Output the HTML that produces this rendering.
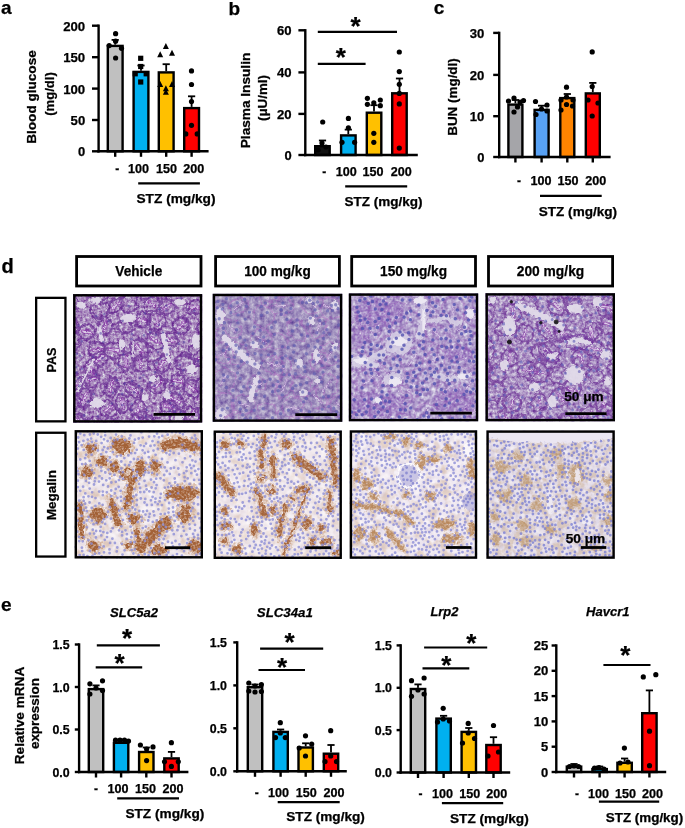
<!DOCTYPE html>
<html><head><meta charset="utf-8"><style>
html,body{margin:0;padding:0;background:#fff;overflow:hidden}
svg{display:block;will-change:transform}
</style></head><body>
<svg width="685" height="828" viewBox="0 0 685 828">
<rect width="685" height="828" fill="#fff"/>
<line x1="98.6" y1="24.5" x2="98.6" y2="152.5" stroke="#000" stroke-width="2.4"/>
<line x1="92.0" y1="151.3" x2="98.6" y2="151.3" stroke="#000" stroke-width="2.4"/>
<text x="85.2" y="156.2" font-size="12.5" text-anchor="end" textLength="7.2" lengthAdjust="spacingAndGlyphs" font-family="Liberation Sans, sans-serif" font-weight="bold" stroke="#000" stroke-width="0.25">0</text>
<line x1="92.0" y1="120.0" x2="98.6" y2="120.0" stroke="#000" stroke-width="2.4"/>
<text x="85.2" y="124.9" font-size="12.5" text-anchor="end" textLength="14.6" lengthAdjust="spacingAndGlyphs" font-family="Liberation Sans, sans-serif" font-weight="bold" stroke="#000" stroke-width="0.25">50</text>
<line x1="92.0" y1="88.6" x2="98.6" y2="88.6" stroke="#000" stroke-width="2.4"/>
<text x="85.2" y="93.5" font-size="12.5" text-anchor="end" textLength="22.0" lengthAdjust="spacingAndGlyphs" font-family="Liberation Sans, sans-serif" font-weight="bold" stroke="#000" stroke-width="0.25">100</text>
<line x1="92.0" y1="57.2" x2="98.6" y2="57.2" stroke="#000" stroke-width="2.4"/>
<text x="85.2" y="62.1" font-size="12.5" text-anchor="end" textLength="22.0" lengthAdjust="spacingAndGlyphs" font-family="Liberation Sans, sans-serif" font-weight="bold" stroke="#000" stroke-width="0.25">150</text>
<line x1="92.0" y1="25.7" x2="98.6" y2="25.7" stroke="#000" stroke-width="2.4"/>
<text x="85.2" y="30.6" font-size="12.5" text-anchor="end" textLength="22.0" lengthAdjust="spacingAndGlyphs" font-family="Liberation Sans, sans-serif" font-weight="bold" stroke="#000" stroke-width="0.25">200</text>
<line x1="115.2" y1="44.7" x2="115.2" y2="39.9" stroke="#000" stroke-width="1.8"/>
<line x1="111.6" y1="39.9" x2="118.8" y2="39.9" stroke="#000" stroke-width="1.8"/>
<rect x="107.8" y="45.9" width="14.8" height="105.4" fill="#c0c0c0" stroke="#000" stroke-width="2.4"/>
<line x1="141.0" y1="70.7" x2="141.0" y2="65.5" stroke="#000" stroke-width="1.8"/>
<line x1="137.4" y1="65.5" x2="144.6" y2="65.5" stroke="#000" stroke-width="1.8"/>
<rect x="133.6" y="71.9" width="14.8" height="79.4" fill="#00b0f0" stroke="#000" stroke-width="2.4"/>
<line x1="166.2" y1="71.2" x2="166.2" y2="64.2" stroke="#000" stroke-width="1.8"/>
<line x1="162.6" y1="64.2" x2="169.8" y2="64.2" stroke="#000" stroke-width="1.8"/>
<rect x="158.8" y="72.4" width="14.8" height="78.9" fill="#ffc000" stroke="#000" stroke-width="2.4"/>
<line x1="191.6" y1="106.9" x2="191.6" y2="96.3" stroke="#000" stroke-width="1.8"/>
<line x1="188.0" y1="96.3" x2="195.2" y2="96.3" stroke="#000" stroke-width="1.8"/>
<rect x="184.2" y="108.1" width="14.8" height="43.2" fill="#ff0000" stroke="#000" stroke-width="2.4"/>
<line x1="97.4" y1="151.3" x2="208.6" y2="151.3" stroke="#000" stroke-width="2.4"/>
<line x1="115.2" y1="151.3" x2="115.2" y2="156.8" stroke="#000" stroke-width="2.4"/>
<line x1="141.0" y1="151.3" x2="141.0" y2="156.8" stroke="#000" stroke-width="2.4"/>
<line x1="166.2" y1="151.3" x2="166.2" y2="156.8" stroke="#000" stroke-width="2.4"/>
<line x1="191.6" y1="151.3" x2="191.6" y2="156.8" stroke="#000" stroke-width="2.4"/>
<circle cx="115.6" cy="33.7" r="2.6"/>
<circle cx="115.6" cy="41.2" r="2.6"/>
<circle cx="109.2" cy="45.6" r="2.6"/>
<circle cx="121.5" cy="48.3" r="2.6"/>
<circle cx="115.6" cy="58.0" r="2.6"/>
<rect x="138.1" y="55.7" width="5.2" height="5.2"/>
<rect x="138.1" y="63.9" width="5.2" height="5.2"/>
<rect x="132.6" y="71.2" width="5.2" height="5.2"/>
<rect x="143.6" y="71.2" width="5.2" height="5.2"/>
<rect x="138.1" y="79.4" width="5.2" height="5.2"/>
<path d="M165.9,43.1L168.9,49.1L162.9,49.1Z"/>
<path d="M160.2,51.2L163.2,57.2L157.2,57.2Z"/>
<path d="M172.0,49.8L175.0,55.8L169.0,55.8Z"/>
<path d="M160.2,81.0L163.2,87.0L157.2,87.0Z"/>
<path d="M172.0,81.0L175.0,87.0L169.0,87.0Z"/>
<path d="M165.9,85.3L168.9,91.3L162.9,91.3Z"/>
<path d="M165.9,88.7L168.9,94.7L162.9,94.7Z"/>
<circle cx="191.5" cy="70.9" r="2.6"/>
<circle cx="191.5" cy="84.5" r="2.6"/>
<circle cx="191.5" cy="101.6" r="2.6"/>
<circle cx="191.5" cy="125.3" r="2.6"/>
<circle cx="185.8" cy="133.9" r="2.6"/>
<circle cx="197.2" cy="133.9" r="2.6"/>
<text x="117.2" y="173.0" font-size="12" text-anchor="middle" font-family="Liberation Sans, sans-serif" font-weight="bold" stroke="#000" stroke-width="0.25">-</text>
<text x="138.6" y="173.0" font-size="12" text-anchor="middle" textLength="21.0" lengthAdjust="spacingAndGlyphs" font-family="Liberation Sans, sans-serif" font-weight="bold" stroke="#000" stroke-width="0.25">100</text>
<text x="166.4" y="173.0" font-size="12" text-anchor="middle" textLength="21.0" lengthAdjust="spacingAndGlyphs" font-family="Liberation Sans, sans-serif" font-weight="bold" stroke="#000" stroke-width="0.25">150</text>
<text x="193.7" y="173.0" font-size="12" text-anchor="middle" textLength="21.0" lengthAdjust="spacingAndGlyphs" font-family="Liberation Sans, sans-serif" font-weight="bold" stroke="#000" stroke-width="0.25">200</text>
<line x1="138.2" y1="183.3" x2="199.9" y2="183.3" stroke="#000" stroke-width="2.2"/>
<text x="136.5" y="202.8" font-size="12" textLength="79.0" lengthAdjust="spacingAndGlyphs" font-family="Liberation Sans, sans-serif" font-weight="bold" stroke="#000" stroke-width="0.25">STZ (mg/kg)</text>
<text transform="translate(36.2,97.0) rotate(-90)" text-anchor="middle" font-size="12" textLength="93.5" lengthAdjust="spacingAndGlyphs" font-family="Liberation Sans, sans-serif" font-weight="bold" stroke="#000" stroke-width="0.25">Blood glucose</text>
<text transform="translate(54.2,94.0) rotate(-90)" text-anchor="middle" font-size="12" textLength="43.5" lengthAdjust="spacingAndGlyphs" font-family="Liberation Sans, sans-serif" font-weight="bold" stroke="#000" stroke-width="0.25">(mg/dl)</text>
<line x1="305.3" y1="29.1" x2="305.3" y2="156.2" stroke="#000" stroke-width="2.4"/>
<line x1="298.4" y1="155.0" x2="305.3" y2="155.0" stroke="#000" stroke-width="2.4"/>
<text x="291.6" y="159.8" font-size="12.5" text-anchor="end" textLength="7.2" lengthAdjust="spacingAndGlyphs" font-family="Liberation Sans, sans-serif" font-weight="bold" stroke="#000" stroke-width="0.25">0</text>
<line x1="298.4" y1="113.9" x2="305.3" y2="113.9" stroke="#000" stroke-width="2.4"/>
<text x="291.6" y="118.7" font-size="12.5" text-anchor="end" textLength="14.6" lengthAdjust="spacingAndGlyphs" font-family="Liberation Sans, sans-serif" font-weight="bold" stroke="#000" stroke-width="0.25">20</text>
<line x1="298.4" y1="72.4" x2="305.3" y2="72.4" stroke="#000" stroke-width="2.4"/>
<text x="291.6" y="77.2" font-size="12.5" text-anchor="end" textLength="14.6" lengthAdjust="spacingAndGlyphs" font-family="Liberation Sans, sans-serif" font-weight="bold" stroke="#000" stroke-width="0.25">40</text>
<line x1="298.4" y1="30.3" x2="305.3" y2="30.3" stroke="#000" stroke-width="2.4"/>
<text x="291.6" y="35.1" font-size="12.5" text-anchor="end" textLength="14.6" lengthAdjust="spacingAndGlyphs" font-family="Liberation Sans, sans-serif" font-weight="bold" stroke="#000" stroke-width="0.25">60</text>
<line x1="322.5" y1="145.0" x2="322.5" y2="140.5" stroke="#000" stroke-width="1.8"/>
<line x1="318.9" y1="140.5" x2="326.1" y2="140.5" stroke="#000" stroke-width="1.8"/>
<rect x="315.2" y="146.2" width="14.5" height="8.8" fill="#111" stroke="#000" stroke-width="2.4"/>
<line x1="348.3" y1="134.2" x2="348.3" y2="129.6" stroke="#000" stroke-width="1.8"/>
<line x1="344.7" y1="129.6" x2="351.9" y2="129.6" stroke="#000" stroke-width="1.8"/>
<rect x="341.1" y="135.4" width="14.5" height="19.6" fill="#00b0f0" stroke="#000" stroke-width="2.4"/>
<line x1="374.0" y1="111.5" x2="374.0" y2="105.2" stroke="#000" stroke-width="1.8"/>
<line x1="370.4" y1="105.2" x2="377.6" y2="105.2" stroke="#000" stroke-width="1.8"/>
<rect x="366.8" y="112.7" width="14.5" height="42.3" fill="#ffc000" stroke="#000" stroke-width="2.4"/>
<line x1="399.5" y1="92.1" x2="399.5" y2="78.5" stroke="#000" stroke-width="1.8"/>
<line x1="395.9" y1="78.5" x2="403.1" y2="78.5" stroke="#000" stroke-width="1.8"/>
<rect x="392.2" y="93.3" width="14.5" height="61.7" fill="#ff0000" stroke="#000" stroke-width="2.4"/>
<line x1="304.1" y1="155.0" x2="417.8" y2="155.0" stroke="#000" stroke-width="2.4"/>
<circle cx="322.7" cy="122.0" r="2.6"/>
<circle cx="318.0" cy="150.0" r="2.6"/>
<circle cx="326.0" cy="147.0" r="2.6"/>
<circle cx="322.0" cy="143.0" r="2.6"/>
<circle cx="348.4" cy="118.4" r="2.6"/>
<circle cx="348.4" cy="127.8" r="2.6"/>
<circle cx="342.0" cy="142.3" r="2.6"/>
<circle cx="354.6" cy="142.3" r="2.6"/>
<circle cx="367.4" cy="98.3" r="2.6"/>
<circle cx="367.4" cy="104.3" r="2.6"/>
<circle cx="373.8" cy="102.8" r="2.6"/>
<circle cx="380.3" cy="100.0" r="2.6"/>
<circle cx="380.3" cy="105.7" r="2.6"/>
<circle cx="373.8" cy="133.3" r="2.6"/>
<circle cx="373.8" cy="142.3" r="2.6"/>
<circle cx="399.3" cy="52.0" r="2.6"/>
<circle cx="399.3" cy="71.6" r="2.6"/>
<circle cx="399.3" cy="84.3" r="2.6"/>
<circle cx="399.3" cy="93.4" r="2.6"/>
<circle cx="399.3" cy="103.9" r="2.6"/>
<circle cx="399.3" cy="148.1" r="2.6"/>
<line x1="317.8" y1="31.8" x2="397.0" y2="31.8" stroke="#000" stroke-width="2.2"/>
<text x="355.6" y="34.6" font-size="26" text-anchor="middle" font-family="Liberation Sans, sans-serif" font-weight="bold" stroke="#000" stroke-width="0.25">*</text>
<line x1="317.8" y1="63.8" x2="365.6" y2="63.8" stroke="#000" stroke-width="2.2"/>
<text x="340.8" y="66.1" font-size="26" text-anchor="middle" font-family="Liberation Sans, sans-serif" font-weight="bold" stroke="#000" stroke-width="0.25">*</text>
<text x="324.3" y="176.0" font-size="12" text-anchor="middle" font-family="Liberation Sans, sans-serif" font-weight="bold" stroke="#000" stroke-width="0.25">-</text>
<text x="346.2" y="176.0" font-size="12" text-anchor="middle" textLength="21.0" lengthAdjust="spacingAndGlyphs" font-family="Liberation Sans, sans-serif" font-weight="bold" stroke="#000" stroke-width="0.25">100</text>
<text x="373.0" y="176.0" font-size="12" text-anchor="middle" textLength="21.0" lengthAdjust="spacingAndGlyphs" font-family="Liberation Sans, sans-serif" font-weight="bold" stroke="#000" stroke-width="0.25">150</text>
<text x="401.2" y="176.0" font-size="12" text-anchor="middle" textLength="21.0" lengthAdjust="spacingAndGlyphs" font-family="Liberation Sans, sans-serif" font-weight="bold" stroke="#000" stroke-width="0.25">200</text>
<line x1="345.2" y1="186.4" x2="407.2" y2="186.4" stroke="#000" stroke-width="2.2"/>
<text x="344.6" y="206.3" font-size="12" textLength="77.9" lengthAdjust="spacingAndGlyphs" font-family="Liberation Sans, sans-serif" font-weight="bold" stroke="#000" stroke-width="0.25">STZ (mg/kg)</text>
<text transform="translate(250.0,100.5) rotate(-90)" text-anchor="middle" font-size="12" textLength="95.5" lengthAdjust="spacingAndGlyphs" font-family="Liberation Sans, sans-serif" font-weight="bold" stroke="#000" stroke-width="0.25">Plasma Insulin</text>
<text transform="translate(266.6,98.0) rotate(-90)" text-anchor="middle" font-size="12" textLength="46.0" lengthAdjust="spacingAndGlyphs" font-family="Liberation Sans, sans-serif" font-weight="bold" stroke="#000" stroke-width="0.25">(μU/ml)</text>
<line x1="499.2" y1="31.7" x2="499.2" y2="158.2" stroke="#000" stroke-width="2.4"/>
<line x1="493.2" y1="157.0" x2="499.2" y2="157.0" stroke="#000" stroke-width="2.4"/>
<text x="484.4" y="161.8" font-size="12.5" text-anchor="end" textLength="7.2" lengthAdjust="spacingAndGlyphs" font-family="Liberation Sans, sans-serif" font-weight="bold" stroke="#000" stroke-width="0.25">0</text>
<line x1="493.2" y1="116.2" x2="499.2" y2="116.2" stroke="#000" stroke-width="2.4"/>
<text x="484.4" y="121.0" font-size="12.5" text-anchor="end" textLength="14.6" lengthAdjust="spacingAndGlyphs" font-family="Liberation Sans, sans-serif" font-weight="bold" stroke="#000" stroke-width="0.25">10</text>
<line x1="493.2" y1="74.9" x2="499.2" y2="74.9" stroke="#000" stroke-width="2.4"/>
<text x="484.4" y="79.7" font-size="12.5" text-anchor="end" textLength="14.6" lengthAdjust="spacingAndGlyphs" font-family="Liberation Sans, sans-serif" font-weight="bold" stroke="#000" stroke-width="0.25">20</text>
<line x1="493.2" y1="32.9" x2="499.2" y2="32.9" stroke="#000" stroke-width="2.4"/>
<text x="484.4" y="37.7" font-size="12.5" text-anchor="end" textLength="14.6" lengthAdjust="spacingAndGlyphs" font-family="Liberation Sans, sans-serif" font-weight="bold" stroke="#000" stroke-width="0.25">30</text>
<line x1="515.4" y1="103.4" x2="515.4" y2="100.0" stroke="#000" stroke-width="1.8"/>
<line x1="511.8" y1="100.0" x2="519.0" y2="100.0" stroke="#000" stroke-width="1.8"/>
<rect x="508.4" y="104.6" width="14.0" height="52.4" fill="#a5a5a9" stroke="#000" stroke-width="2.4"/>
<line x1="541.6" y1="108.7" x2="541.6" y2="105.7" stroke="#000" stroke-width="1.8"/>
<line x1="538.0" y1="105.7" x2="545.2" y2="105.7" stroke="#000" stroke-width="1.8"/>
<rect x="534.6" y="109.9" width="14.0" height="47.1" fill="#58a2f5" stroke="#000" stroke-width="2.4"/>
<line x1="567.3" y1="96.9" x2="567.3" y2="94.0" stroke="#000" stroke-width="1.8"/>
<line x1="563.7" y1="94.0" x2="570.9" y2="94.0" stroke="#000" stroke-width="1.8"/>
<rect x="560.3" y="98.1" width="14.0" height="58.9" fill="#ff8400" stroke="#000" stroke-width="2.4"/>
<line x1="592.8" y1="92.2" x2="592.8" y2="82.9" stroke="#000" stroke-width="1.8"/>
<line x1="589.2" y1="82.9" x2="596.4" y2="82.9" stroke="#000" stroke-width="1.8"/>
<rect x="585.8" y="93.4" width="14.0" height="63.6" fill="#ff0000" stroke="#000" stroke-width="2.4"/>
<line x1="498.0" y1="157.0" x2="610.6" y2="157.0" stroke="#000" stroke-width="2.4"/>
<line x1="515.4" y1="157.0" x2="515.4" y2="162.5" stroke="#000" stroke-width="2.4"/>
<line x1="541.6" y1="157.0" x2="541.6" y2="162.5" stroke="#000" stroke-width="2.4"/>
<line x1="567.3" y1="157.0" x2="567.3" y2="162.5" stroke="#000" stroke-width="2.4"/>
<line x1="592.8" y1="157.0" x2="592.8" y2="162.5" stroke="#000" stroke-width="2.4"/>
<circle cx="514.0" cy="98.0" r="2.6"/>
<circle cx="508.5" cy="101.0" r="2.6"/>
<circle cx="520.0" cy="102.0" r="2.6"/>
<circle cx="523.5" cy="100.5" r="2.6"/>
<circle cx="517.5" cy="107.0" r="2.6"/>
<circle cx="514.0" cy="112.0" r="2.6"/>
<circle cx="535.5" cy="101.5" r="2.6"/>
<circle cx="547.0" cy="105.0" r="2.6"/>
<circle cx="547.0" cy="111.0" r="2.6"/>
<circle cx="536.0" cy="114.5" r="2.6"/>
<circle cx="541.5" cy="109.0" r="2.6"/>
<circle cx="566.5" cy="87.2" r="2.6"/>
<circle cx="566.5" cy="97.0" r="2.6"/>
<circle cx="561.0" cy="100.0" r="2.6"/>
<circle cx="573.0" cy="100.0" r="2.6"/>
<circle cx="566.5" cy="104.5" r="2.6"/>
<circle cx="572.5" cy="106.0" r="2.6"/>
<circle cx="561.0" cy="110.0" r="2.6"/>
<circle cx="592.2" cy="51.9" r="2.6"/>
<circle cx="592.2" cy="86.5" r="2.6"/>
<circle cx="588.0" cy="100.0" r="2.6"/>
<circle cx="598.0" cy="103.0" r="2.6"/>
<circle cx="592.2" cy="116.0" r="2.6"/>
<text x="519.0" y="185.0" font-size="12" text-anchor="middle" font-family="Liberation Sans, sans-serif" font-weight="bold" stroke="#000" stroke-width="0.25">-</text>
<text x="540.9" y="185.0" font-size="12" text-anchor="middle" textLength="21.0" lengthAdjust="spacingAndGlyphs" font-family="Liberation Sans, sans-serif" font-weight="bold" stroke="#000" stroke-width="0.25">100</text>
<text x="568.0" y="185.0" font-size="12" text-anchor="middle" textLength="21.0" lengthAdjust="spacingAndGlyphs" font-family="Liberation Sans, sans-serif" font-weight="bold" stroke="#000" stroke-width="0.25">150</text>
<text x="595.8" y="185.0" font-size="12" text-anchor="middle" textLength="21.0" lengthAdjust="spacingAndGlyphs" font-family="Liberation Sans, sans-serif" font-weight="bold" stroke="#000" stroke-width="0.25">200</text>
<line x1="540.0" y1="195.8" x2="601.7" y2="195.8" stroke="#000" stroke-width="2.2"/>
<text x="538.8" y="215.6" font-size="12" textLength="78.2" lengthAdjust="spacingAndGlyphs" font-family="Liberation Sans, sans-serif" font-weight="bold" stroke="#000" stroke-width="0.25">STZ (mg/kg)</text>
<text transform="translate(456.8,97.0) rotate(-90)" text-anchor="middle" font-size="12" textLength="77.5" lengthAdjust="spacingAndGlyphs" font-family="Liberation Sans, sans-serif" font-weight="bold" stroke="#000" stroke-width="0.25">BUN (mg/dl)</text>
<line x1="79.1" y1="643.3" x2="79.1" y2="773.2" stroke="#000" stroke-width="2.4"/>
<line x1="74.8" y1="772.0" x2="79.1" y2="772.0" stroke="#000" stroke-width="2.4"/>
<text x="69.6" y="776.6" font-size="12.2" text-anchor="end" textLength="17.2" lengthAdjust="spacingAndGlyphs" font-family="Liberation Sans, sans-serif" font-weight="bold" stroke="#000" stroke-width="0.25">0.0</text>
<line x1="74.8" y1="729.5" x2="79.1" y2="729.5" stroke="#000" stroke-width="2.4"/>
<text x="69.6" y="734.1" font-size="12.2" text-anchor="end" textLength="17.2" lengthAdjust="spacingAndGlyphs" font-family="Liberation Sans, sans-serif" font-weight="bold" stroke="#000" stroke-width="0.25">0.5</text>
<line x1="74.8" y1="687.0" x2="79.1" y2="687.0" stroke="#000" stroke-width="2.4"/>
<text x="69.6" y="691.6" font-size="12.2" text-anchor="end" textLength="17.2" lengthAdjust="spacingAndGlyphs" font-family="Liberation Sans, sans-serif" font-weight="bold" stroke="#000" stroke-width="0.25">1.0</text>
<line x1="74.8" y1="644.5" x2="79.1" y2="644.5" stroke="#000" stroke-width="2.4"/>
<text x="69.6" y="649.1" font-size="12.2" text-anchor="end" textLength="17.2" lengthAdjust="spacingAndGlyphs" font-family="Liberation Sans, sans-serif" font-weight="bold" stroke="#000" stroke-width="0.25">1.5</text>
<line x1="96.0" y1="687.9" x2="96.0" y2="685.4" stroke="#000" stroke-width="1.8"/>
<line x1="92.4" y1="685.4" x2="99.6" y2="685.4" stroke="#000" stroke-width="1.8"/>
<rect x="88.8" y="689.1" width="14.4" height="82.9" fill="#c0c0c0" stroke="#000" stroke-width="2.4"/>
<line x1="121.1" y1="741.6" x2="121.1" y2="739.5" stroke="#000" stroke-width="1.8"/>
<line x1="117.5" y1="739.5" x2="124.7" y2="739.5" stroke="#000" stroke-width="1.8"/>
<rect x="113.9" y="742.8" width="14.4" height="29.2" fill="#00b0f0" stroke="#000" stroke-width="2.4"/>
<line x1="146.3" y1="750.8" x2="146.3" y2="747.5" stroke="#000" stroke-width="1.8"/>
<line x1="142.7" y1="747.5" x2="149.9" y2="747.5" stroke="#000" stroke-width="1.8"/>
<rect x="139.1" y="752.0" width="14.4" height="20.0" fill="#ffc000" stroke="#000" stroke-width="2.4"/>
<line x1="171.5" y1="757.2" x2="171.5" y2="751.9" stroke="#000" stroke-width="1.8"/>
<line x1="167.9" y1="751.9" x2="175.1" y2="751.9" stroke="#000" stroke-width="1.8"/>
<rect x="164.3" y="758.4" width="14.4" height="13.6" fill="#ff0000" stroke="#000" stroke-width="2.4"/>
<line x1="77.9" y1="772.0" x2="188.4" y2="772.0" stroke="#000" stroke-width="2.4"/>
<line x1="96.0" y1="772.0" x2="96.0" y2="777.5" stroke="#000" stroke-width="2.4"/>
<line x1="121.1" y1="772.0" x2="121.1" y2="777.5" stroke="#000" stroke-width="2.4"/>
<line x1="146.3" y1="772.0" x2="146.3" y2="777.5" stroke="#000" stroke-width="2.4"/>
<line x1="171.5" y1="772.0" x2="171.5" y2="777.5" stroke="#000" stroke-width="2.4"/>
<circle cx="89.9" cy="683.8" r="2.6"/>
<circle cx="102.5" cy="680.8" r="2.6"/>
<circle cx="89.9" cy="694.0" r="2.6"/>
<circle cx="102.5" cy="690.6" r="2.6"/>
<circle cx="96.0" cy="688.0" r="2.6"/>
<circle cx="115.5" cy="740.2" r="2.6"/>
<circle cx="120.0" cy="740.0" r="2.6"/>
<circle cx="124.5" cy="740.2" r="2.6"/>
<circle cx="128.5" cy="741.0" r="2.6"/>
<circle cx="140.4" cy="745.0" r="2.6"/>
<circle cx="153.0" cy="746.9" r="2.6"/>
<circle cx="146.6" cy="760.6" r="2.6"/>
<circle cx="146.6" cy="749.0" r="2.6"/>
<circle cx="171.4" cy="742.7" r="2.6"/>
<circle cx="164.5" cy="761.8" r="2.6"/>
<circle cx="178.3" cy="761.8" r="2.6"/>
<circle cx="171.4" cy="766.4" r="2.6"/>
<line x1="96.8" y1="645.4" x2="159.9" y2="645.4" stroke="#000" stroke-width="2.2"/>
<text x="127.1" y="646.8" font-size="26" text-anchor="middle" font-family="Liberation Sans, sans-serif" font-weight="bold" stroke="#000" stroke-width="0.25">*</text>
<line x1="95.7" y1="667.3" x2="142.2" y2="667.3" stroke="#000" stroke-width="2.2"/>
<text x="119.5" y="672.0" font-size="26" text-anchor="middle" font-family="Liberation Sans, sans-serif" font-weight="bold" stroke="#000" stroke-width="0.25">*</text>
<text x="96.1" y="792.8" font-size="12" text-anchor="middle" font-family="Liberation Sans, sans-serif" font-weight="bold" stroke="#000" stroke-width="0.25">-</text>
<text x="118.0" y="792.8" font-size="12" text-anchor="middle" textLength="21.0" lengthAdjust="spacingAndGlyphs" font-family="Liberation Sans, sans-serif" font-weight="bold" stroke="#000" stroke-width="0.25">100</text>
<text x="145.4" y="792.8" font-size="12" text-anchor="middle" textLength="21.0" lengthAdjust="spacingAndGlyphs" font-family="Liberation Sans, sans-serif" font-weight="bold" stroke="#000" stroke-width="0.25">150</text>
<text x="173.0" y="792.8" font-size="12" text-anchor="middle" textLength="21.0" lengthAdjust="spacingAndGlyphs" font-family="Liberation Sans, sans-serif" font-weight="bold" stroke="#000" stroke-width="0.25">200</text>
<line x1="117.2" y1="798.3" x2="179.0" y2="798.3" stroke="#000" stroke-width="2.2"/>
<text x="125.4" y="818.2" font-size="12" textLength="78.9" lengthAdjust="spacingAndGlyphs" font-family="Liberation Sans, sans-serif" font-weight="bold" stroke="#000" stroke-width="0.25">STZ (mg/kg)</text>
<text transform="translate(24.4,715.5) rotate(-90)" text-anchor="middle" font-size="12" textLength="97.5" lengthAdjust="spacingAndGlyphs" font-family="Liberation Sans, sans-serif" font-weight="bold" stroke="#000" stroke-width="0.25">Relative mRNA</text>
<text transform="translate(38.7,713.6) rotate(-90)" text-anchor="middle" font-size="12" textLength="71.0" lengthAdjust="spacingAndGlyphs" font-family="Liberation Sans, sans-serif" font-weight="bold" stroke="#000" stroke-width="0.25">expression</text>
<line x1="237.2" y1="641.2" x2="237.2" y2="772.5" stroke="#000" stroke-width="2.4"/>
<line x1="233.3" y1="771.3" x2="237.2" y2="771.3" stroke="#000" stroke-width="2.4"/>
<text x="227.0" y="775.9" font-size="12.2" text-anchor="end" textLength="17.2" lengthAdjust="spacingAndGlyphs" font-family="Liberation Sans, sans-serif" font-weight="bold" stroke="#000" stroke-width="0.25">0.0</text>
<line x1="233.3" y1="728.3" x2="237.2" y2="728.3" stroke="#000" stroke-width="2.4"/>
<text x="227.0" y="732.9" font-size="12.2" text-anchor="end" textLength="17.2" lengthAdjust="spacingAndGlyphs" font-family="Liberation Sans, sans-serif" font-weight="bold" stroke="#000" stroke-width="0.25">0.5</text>
<line x1="233.3" y1="685.4" x2="237.2" y2="685.4" stroke="#000" stroke-width="2.4"/>
<text x="227.0" y="690.0" font-size="12.2" text-anchor="end" textLength="17.2" lengthAdjust="spacingAndGlyphs" font-family="Liberation Sans, sans-serif" font-weight="bold" stroke="#000" stroke-width="0.25">1.0</text>
<line x1="233.3" y1="642.4" x2="237.2" y2="642.4" stroke="#000" stroke-width="2.4"/>
<text x="227.0" y="647.0" font-size="12.2" text-anchor="end" textLength="17.2" lengthAdjust="spacingAndGlyphs" font-family="Liberation Sans, sans-serif" font-weight="bold" stroke="#000" stroke-width="0.25">1.5</text>
<line x1="255.0" y1="686.0" x2="255.0" y2="684.5" stroke="#000" stroke-width="1.8"/>
<line x1="251.4" y1="684.5" x2="258.6" y2="684.5" stroke="#000" stroke-width="1.8"/>
<rect x="247.8" y="687.2" width="14.4" height="84.1" fill="#c0c0c0" stroke="#000" stroke-width="2.4"/>
<line x1="280.6" y1="730.7" x2="280.6" y2="729.5" stroke="#000" stroke-width="1.8"/>
<line x1="277.0" y1="729.5" x2="284.2" y2="729.5" stroke="#000" stroke-width="1.8"/>
<rect x="273.4" y="731.9" width="14.4" height="39.4" fill="#00b0f0" stroke="#000" stroke-width="2.4"/>
<line x1="305.7" y1="746.3" x2="305.7" y2="743.3" stroke="#000" stroke-width="1.8"/>
<line x1="302.1" y1="743.3" x2="309.3" y2="743.3" stroke="#000" stroke-width="1.8"/>
<rect x="298.5" y="747.5" width="14.4" height="23.8" fill="#ffc000" stroke="#000" stroke-width="2.4"/>
<line x1="331.0" y1="752.5" x2="331.0" y2="745.0" stroke="#000" stroke-width="1.8"/>
<line x1="327.4" y1="745.0" x2="334.6" y2="745.0" stroke="#000" stroke-width="1.8"/>
<rect x="323.8" y="753.7" width="14.4" height="17.6" fill="#ff0000" stroke="#000" stroke-width="2.4"/>
<line x1="236.0" y1="771.3" x2="346.8" y2="771.3" stroke="#000" stroke-width="2.4"/>
<line x1="255.0" y1="771.3" x2="255.0" y2="776.8" stroke="#000" stroke-width="2.4"/>
<line x1="280.6" y1="771.3" x2="280.6" y2="776.8" stroke="#000" stroke-width="2.4"/>
<line x1="305.7" y1="771.3" x2="305.7" y2="776.8" stroke="#000" stroke-width="2.4"/>
<line x1="331.0" y1="771.3" x2="331.0" y2="776.8" stroke="#000" stroke-width="2.4"/>
<circle cx="248.8" cy="683.0" r="2.6"/>
<circle cx="255.0" cy="686.0" r="2.6"/>
<circle cx="261.4" cy="684.5" r="2.6"/>
<circle cx="248.8" cy="691.0" r="2.6"/>
<circle cx="261.4" cy="691.5" r="2.6"/>
<circle cx="255.0" cy="692.0" r="2.6"/>
<circle cx="280.3" cy="722.7" r="2.6"/>
<circle cx="275.5" cy="737.6" r="2.6"/>
<circle cx="285.3" cy="737.6" r="2.6"/>
<circle cx="280.3" cy="733.0" r="2.6"/>
<circle cx="305.5" cy="735.8" r="2.6"/>
<circle cx="311.7" cy="744.1" r="2.6"/>
<circle cx="305.5" cy="756.0" r="2.6"/>
<circle cx="299.2" cy="748.0" r="2.6"/>
<circle cx="330.7" cy="730.7" r="2.6"/>
<circle cx="330.7" cy="756.0" r="2.6"/>
<circle cx="325.0" cy="761.7" r="2.6"/>
<circle cx="336.5" cy="761.7" r="2.6"/>
<line x1="260.1" y1="648.6" x2="323.2" y2="648.6" stroke="#000" stroke-width="2.2"/>
<text x="289.6" y="651.2" font-size="26" text-anchor="middle" font-family="Liberation Sans, sans-serif" font-weight="bold" stroke="#000" stroke-width="0.25">*</text>
<line x1="258.5" y1="670.0" x2="305.0" y2="670.0" stroke="#000" stroke-width="2.2"/>
<text x="282.1" y="675.8" font-size="26" text-anchor="middle" font-family="Liberation Sans, sans-serif" font-weight="bold" stroke="#000" stroke-width="0.25">*</text>
<text x="256.7" y="797.0" font-size="12" text-anchor="middle" font-family="Liberation Sans, sans-serif" font-weight="bold" stroke="#000" stroke-width="0.25">-</text>
<text x="278.4" y="797.0" font-size="12" text-anchor="middle" textLength="21.0" lengthAdjust="spacingAndGlyphs" font-family="Liberation Sans, sans-serif" font-weight="bold" stroke="#000" stroke-width="0.25">100</text>
<text x="306.2" y="797.0" font-size="12" text-anchor="middle" textLength="21.0" lengthAdjust="spacingAndGlyphs" font-family="Liberation Sans, sans-serif" font-weight="bold" stroke="#000" stroke-width="0.25">150</text>
<text x="333.9" y="797.0" font-size="12" text-anchor="middle" textLength="21.0" lengthAdjust="spacingAndGlyphs" font-family="Liberation Sans, sans-serif" font-weight="bold" stroke="#000" stroke-width="0.25">200</text>
<line x1="277.7" y1="802.2" x2="339.7" y2="802.2" stroke="#000" stroke-width="2.2"/>
<text x="286.3" y="821.4" font-size="12" textLength="78.5" lengthAdjust="spacingAndGlyphs" font-family="Liberation Sans, sans-serif" font-weight="bold" stroke="#000" stroke-width="0.25">STZ (mg/kg)</text>
<line x1="400.7" y1="644.2" x2="400.7" y2="773.7" stroke="#000" stroke-width="2.4"/>
<line x1="396.6" y1="772.5" x2="400.7" y2="772.5" stroke="#000" stroke-width="2.4"/>
<text x="392.0" y="777.1" font-size="12.2" text-anchor="end" textLength="17.2" lengthAdjust="spacingAndGlyphs" font-family="Liberation Sans, sans-serif" font-weight="bold" stroke="#000" stroke-width="0.25">0.0</text>
<line x1="396.6" y1="730.1" x2="400.7" y2="730.1" stroke="#000" stroke-width="2.4"/>
<text x="392.0" y="734.7" font-size="12.2" text-anchor="end" textLength="17.2" lengthAdjust="spacingAndGlyphs" font-family="Liberation Sans, sans-serif" font-weight="bold" stroke="#000" stroke-width="0.25">0.5</text>
<line x1="396.6" y1="687.8" x2="400.7" y2="687.8" stroke="#000" stroke-width="2.4"/>
<text x="392.0" y="692.4" font-size="12.2" text-anchor="end" textLength="17.2" lengthAdjust="spacingAndGlyphs" font-family="Liberation Sans, sans-serif" font-weight="bold" stroke="#000" stroke-width="0.25">1.0</text>
<line x1="396.6" y1="645.4" x2="400.7" y2="645.4" stroke="#000" stroke-width="2.4"/>
<text x="392.0" y="650.0" font-size="12.2" text-anchor="end" textLength="17.2" lengthAdjust="spacingAndGlyphs" font-family="Liberation Sans, sans-serif" font-weight="bold" stroke="#000" stroke-width="0.25">1.5</text>
<line x1="418.0" y1="687.8" x2="418.0" y2="684.4" stroke="#000" stroke-width="1.8"/>
<line x1="414.4" y1="684.4" x2="421.6" y2="684.4" stroke="#000" stroke-width="1.8"/>
<rect x="410.8" y="689.0" width="14.4" height="83.5" fill="#c0c0c0" stroke="#000" stroke-width="2.4"/>
<line x1="443.6" y1="717.4" x2="443.6" y2="715.8" stroke="#000" stroke-width="1.8"/>
<line x1="440.0" y1="715.8" x2="447.2" y2="715.8" stroke="#000" stroke-width="1.8"/>
<rect x="436.4" y="718.6" width="14.4" height="53.9" fill="#00b0f0" stroke="#000" stroke-width="2.4"/>
<line x1="468.8" y1="730.7" x2="468.8" y2="728.0" stroke="#000" stroke-width="1.8"/>
<line x1="465.2" y1="728.0" x2="472.4" y2="728.0" stroke="#000" stroke-width="1.8"/>
<rect x="461.6" y="731.9" width="14.4" height="40.6" fill="#ffc000" stroke="#000" stroke-width="2.4"/>
<line x1="493.5" y1="743.8" x2="493.5" y2="737.2" stroke="#000" stroke-width="1.8"/>
<line x1="489.9" y1="737.2" x2="497.1" y2="737.2" stroke="#000" stroke-width="1.8"/>
<rect x="486.3" y="745.0" width="14.4" height="27.5" fill="#ff0000" stroke="#000" stroke-width="2.4"/>
<line x1="399.5" y1="772.5" x2="510.2" y2="772.5" stroke="#000" stroke-width="2.4"/>
<line x1="418.0" y1="772.5" x2="418.0" y2="778.0" stroke="#000" stroke-width="2.4"/>
<line x1="443.6" y1="772.5" x2="443.6" y2="778.0" stroke="#000" stroke-width="2.4"/>
<line x1="468.8" y1="772.5" x2="468.8" y2="778.0" stroke="#000" stroke-width="2.4"/>
<line x1="493.5" y1="772.5" x2="493.5" y2="778.0" stroke="#000" stroke-width="2.4"/>
<circle cx="411.5" cy="680.7" r="2.6"/>
<circle cx="424.1" cy="678.0" r="2.6"/>
<circle cx="411.5" cy="696.3" r="2.6"/>
<circle cx="424.1" cy="694.0" r="2.6"/>
<circle cx="418.0" cy="690.0" r="2.6"/>
<circle cx="443.2" cy="708.3" r="2.6"/>
<circle cx="437.5" cy="722.0" r="2.6"/>
<circle cx="449.5" cy="721.0" r="2.6"/>
<circle cx="443.2" cy="719.0" r="2.6"/>
<circle cx="468.2" cy="723.4" r="2.6"/>
<circle cx="462.5" cy="743.0" r="2.6"/>
<circle cx="474.5" cy="738.5" r="2.6"/>
<circle cx="468.2" cy="733.0" r="2.6"/>
<circle cx="493.5" cy="725.5" r="2.6"/>
<circle cx="488.0" cy="756.0" r="2.6"/>
<circle cx="498.5" cy="752.0" r="2.6"/>
<line x1="424.1" y1="647.5" x2="487.2" y2="647.5" stroke="#000" stroke-width="2.2"/>
<text x="471.2" y="652.3" font-size="26" text-anchor="middle" font-family="Liberation Sans, sans-serif" font-weight="bold" stroke="#000" stroke-width="0.25">*</text>
<line x1="422.5" y1="668.3" x2="469.3" y2="668.3" stroke="#000" stroke-width="2.2"/>
<text x="446.4" y="674.1" font-size="26" text-anchor="middle" font-family="Liberation Sans, sans-serif" font-weight="bold" stroke="#000" stroke-width="0.25">*</text>
<text x="420.6" y="798.4" font-size="12" text-anchor="middle" font-family="Liberation Sans, sans-serif" font-weight="bold" stroke="#000" stroke-width="0.25">-</text>
<text x="442.6" y="798.4" font-size="12" text-anchor="middle" textLength="21.0" lengthAdjust="spacingAndGlyphs" font-family="Liberation Sans, sans-serif" font-weight="bold" stroke="#000" stroke-width="0.25">100</text>
<text x="469.8" y="798.4" font-size="12" text-anchor="middle" textLength="21.0" lengthAdjust="spacingAndGlyphs" font-family="Liberation Sans, sans-serif" font-weight="bold" stroke="#000" stroke-width="0.25">150</text>
<text x="496.7" y="798.4" font-size="12" text-anchor="middle" textLength="21.0" lengthAdjust="spacingAndGlyphs" font-family="Liberation Sans, sans-serif" font-weight="bold" stroke="#000" stroke-width="0.25">200</text>
<line x1="441.9" y1="803.2" x2="503.2" y2="803.2" stroke="#000" stroke-width="2.2"/>
<text x="450.0" y="823.0" font-size="12" textLength="78.7" lengthAdjust="spacingAndGlyphs" font-family="Liberation Sans, sans-serif" font-weight="bold" stroke="#000" stroke-width="0.25">STZ (mg/kg)</text>
<line x1="556.3" y1="644.3" x2="556.3" y2="773.2" stroke="#000" stroke-width="2.4"/>
<line x1="551.6" y1="772.0" x2="556.3" y2="772.0" stroke="#000" stroke-width="2.4"/>
<text x="548.3" y="776.6" font-size="12.2" text-anchor="end" textLength="7.2" lengthAdjust="spacingAndGlyphs" font-family="Liberation Sans, sans-serif" font-weight="bold" stroke="#000" stroke-width="0.25">0</text>
<line x1="551.6" y1="746.7" x2="556.3" y2="746.7" stroke="#000" stroke-width="2.4"/>
<text x="548.3" y="751.3" font-size="12.2" text-anchor="end" textLength="7.2" lengthAdjust="spacingAndGlyphs" font-family="Liberation Sans, sans-serif" font-weight="bold" stroke="#000" stroke-width="0.25">5</text>
<line x1="551.6" y1="721.4" x2="556.3" y2="721.4" stroke="#000" stroke-width="2.4"/>
<text x="548.3" y="726.0" font-size="12.2" text-anchor="end" textLength="14.6" lengthAdjust="spacingAndGlyphs" font-family="Liberation Sans, sans-serif" font-weight="bold" stroke="#000" stroke-width="0.25">10</text>
<line x1="551.6" y1="696.1" x2="556.3" y2="696.1" stroke="#000" stroke-width="2.4"/>
<text x="548.3" y="700.7" font-size="12.2" text-anchor="end" textLength="14.6" lengthAdjust="spacingAndGlyphs" font-family="Liberation Sans, sans-serif" font-weight="bold" stroke="#000" stroke-width="0.25">15</text>
<line x1="551.6" y1="670.8" x2="556.3" y2="670.8" stroke="#000" stroke-width="2.4"/>
<text x="548.3" y="675.4" font-size="12.2" text-anchor="end" textLength="14.6" lengthAdjust="spacingAndGlyphs" font-family="Liberation Sans, sans-serif" font-weight="bold" stroke="#000" stroke-width="0.25">20</text>
<line x1="551.6" y1="645.5" x2="556.3" y2="645.5" stroke="#000" stroke-width="2.4"/>
<text x="548.3" y="650.1" font-size="12.2" text-anchor="end" textLength="14.6" lengthAdjust="spacingAndGlyphs" font-family="Liberation Sans, sans-serif" font-weight="bold" stroke="#000" stroke-width="0.25">25</text>
<line x1="574.0" y1="765.4" x2="574.0" y2="764.0" stroke="#000" stroke-width="1.8"/>
<line x1="570.4" y1="764.0" x2="577.6" y2="764.0" stroke="#000" stroke-width="1.8"/>
<rect x="566.8" y="766.6" width="14.4" height="5.4" fill="#c0c0c0" stroke="#000" stroke-width="2.4"/>
<line x1="599.6" y1="767.9" x2="599.6" y2="766.5" stroke="#000" stroke-width="1.8"/>
<line x1="596.0" y1="766.5" x2="603.2" y2="766.5" stroke="#000" stroke-width="1.8"/>
<rect x="592.4" y="769.1" width="14.4" height="2.9" fill="#00b0f0" stroke="#000" stroke-width="2.4"/>
<line x1="624.6" y1="761.6" x2="624.6" y2="758.5" stroke="#000" stroke-width="1.8"/>
<line x1="621.0" y1="758.5" x2="628.2" y2="758.5" stroke="#000" stroke-width="1.8"/>
<rect x="617.4" y="762.8" width="14.4" height="9.2" fill="#ffc000" stroke="#000" stroke-width="2.4"/>
<line x1="649.4" y1="712.0" x2="649.4" y2="690.4" stroke="#000" stroke-width="1.8"/>
<line x1="645.8" y1="690.4" x2="653.0" y2="690.4" stroke="#000" stroke-width="1.8"/>
<rect x="642.2" y="713.2" width="14.4" height="58.8" fill="#ff0000" stroke="#000" stroke-width="2.4"/>
<line x1="555.1" y1="772.0" x2="666.2" y2="772.0" stroke="#000" stroke-width="2.4"/>
<line x1="574.0" y1="772.0" x2="574.0" y2="777.5" stroke="#000" stroke-width="2.4"/>
<line x1="599.6" y1="772.0" x2="599.6" y2="777.5" stroke="#000" stroke-width="2.4"/>
<line x1="624.6" y1="772.0" x2="624.6" y2="777.5" stroke="#000" stroke-width="2.4"/>
<line x1="649.4" y1="772.0" x2="649.4" y2="777.5" stroke="#000" stroke-width="2.4"/>
<circle cx="569.5" cy="766.5" r="2.6"/>
<circle cx="574.0" cy="766.0" r="2.6"/>
<circle cx="578.5" cy="766.5" r="2.6"/>
<circle cx="594.5" cy="768.0" r="2.6"/>
<circle cx="599.0" cy="767.5" r="2.6"/>
<circle cx="604.0" cy="769.0" r="2.6"/>
<circle cx="624.4" cy="748.1" r="2.6"/>
<circle cx="620.0" cy="763.0" r="2.6"/>
<circle cx="628.0" cy="762.0" r="2.6"/>
<circle cx="643.3" cy="676.9" r="2.6"/>
<circle cx="655.8" cy="674.7" r="2.6"/>
<circle cx="649.5" cy="731.2" r="2.6"/>
<circle cx="649.5" cy="765.7" r="2.6"/>
<line x1="603.4" y1="665.0" x2="650.5" y2="665.0" stroke="#000" stroke-width="2.2"/>
<text x="625.4" y="664.3" font-size="26" text-anchor="middle" font-family="Liberation Sans, sans-serif" font-weight="bold" stroke="#000" stroke-width="0.25">*</text>
<text x="576.9" y="797.5" font-size="12" text-anchor="middle" font-family="Liberation Sans, sans-serif" font-weight="bold" stroke="#000" stroke-width="0.25">-</text>
<text x="598.4" y="797.5" font-size="12" text-anchor="middle" textLength="21.0" lengthAdjust="spacingAndGlyphs" font-family="Liberation Sans, sans-serif" font-weight="bold" stroke="#000" stroke-width="0.25">100</text>
<text x="625.4" y="797.5" font-size="12" text-anchor="middle" textLength="21.0" lengthAdjust="spacingAndGlyphs" font-family="Liberation Sans, sans-serif" font-weight="bold" stroke="#000" stroke-width="0.25">150</text>
<text x="652.5" y="797.5" font-size="12" text-anchor="middle" textLength="21.0" lengthAdjust="spacingAndGlyphs" font-family="Liberation Sans, sans-serif" font-weight="bold" stroke="#000" stroke-width="0.25">200</text>
<line x1="598.9" y1="801.6" x2="659.2" y2="801.6" stroke="#000" stroke-width="2.2"/>
<text x="605.8" y="822.2" font-size="12" textLength="77.4" lengthAdjust="spacingAndGlyphs" font-family="Liberation Sans, sans-serif" font-weight="bold" stroke="#000" stroke-width="0.25">STZ (mg/kg)</text>
<text x="134.1" y="616.8" font-size="13.5" text-anchor="middle" textLength="48.0" lengthAdjust="spacingAndGlyphs" font-style="italic" font-family="Liberation Sans, sans-serif" font-weight="bold" stroke="#000" stroke-width="0.25">SLC5a2</text>
<text x="284.8" y="616.8" font-size="13.5" text-anchor="middle" textLength="56.0" lengthAdjust="spacingAndGlyphs" font-style="italic" font-family="Liberation Sans, sans-serif" font-weight="bold" stroke="#000" stroke-width="0.25">SLC34a1</text>
<text x="444.4" y="615.8" font-size="13.5" text-anchor="middle" textLength="28.0" lengthAdjust="spacingAndGlyphs" font-style="italic" font-family="Liberation Sans, sans-serif" font-weight="bold" stroke="#000" stroke-width="0.25">Lrp2</text>
<text x="607.8" y="615.5" font-size="13.5" text-anchor="middle" textLength="43.5" lengthAdjust="spacingAndGlyphs" font-style="italic" font-family="Liberation Sans, sans-serif" font-weight="bold" stroke="#000" stroke-width="0.25">Havcr1</text>
<text x="1.0" y="14.0" font-size="19" font-family="Liberation Sans, sans-serif" font-weight="bold" stroke="#000" stroke-width="0.25">a</text>
<text x="228.5" y="15.3" font-size="19" font-family="Liberation Sans, sans-serif" font-weight="bold" stroke="#000" stroke-width="0.25">b</text>
<text x="433.8" y="14.4" font-size="19" font-family="Liberation Sans, sans-serif" font-weight="bold" stroke="#000" stroke-width="0.25">c</text>
<text x="1.4" y="272.8" font-size="20" font-family="Liberation Sans, sans-serif" font-weight="bold" stroke="#000" stroke-width="0.25">d</text>
<text x="1.0" y="611.4" font-size="19" font-family="Liberation Sans, sans-serif" font-weight="bold" stroke="#000" stroke-width="0.25">e</text>
<rect x="76.6" y="256.5" width="124.4" height="29.5" fill="#fff" stroke="#000" stroke-width="2.8"/>
<text x="138.8" y="276.4" font-size="14.2" text-anchor="middle" textLength="47.0" lengthAdjust="spacingAndGlyphs" font-family="Liberation Sans, sans-serif" font-weight="bold" stroke="#000" stroke-width="0.25">Vehicle</text>
<rect x="215.6" y="256.5" width="123.8" height="29.5" fill="#fff" stroke="#000" stroke-width="2.8"/>
<text x="277.5" y="276.4" font-size="14.2" text-anchor="middle" textLength="66.5" lengthAdjust="spacingAndGlyphs" font-family="Liberation Sans, sans-serif" font-weight="bold" stroke="#000" stroke-width="0.25">100 mg/kg</text>
<rect x="351.7" y="256.5" width="123.8" height="29.5" fill="#fff" stroke="#000" stroke-width="2.8"/>
<text x="413.6" y="276.4" font-size="14.2" text-anchor="middle" textLength="67.0" lengthAdjust="spacingAndGlyphs" font-family="Liberation Sans, sans-serif" font-weight="bold" stroke="#000" stroke-width="0.25">150 mg/kg</text>
<rect x="488.5" y="256.5" width="124.1" height="29.5" fill="#fff" stroke="#000" stroke-width="2.8"/>
<text x="550.5" y="276.4" font-size="14.2" text-anchor="middle" textLength="67.5" lengthAdjust="spacingAndGlyphs" font-family="Liberation Sans, sans-serif" font-weight="bold" stroke="#000" stroke-width="0.25">200 mg/kg</text>
<rect x="36.15" y="297.85" width="29.3" height="123.5" fill="#fff" stroke="#000" stroke-width="2.3"/>
<rect x="36.15" y="432.75" width="29.3" height="123.8" fill="#fff" stroke="#000" stroke-width="2.3"/>
<text transform="translate(56.0,360.0) rotate(-90)" text-anchor="middle" font-size="13.5" textLength="25.0" lengthAdjust="spacingAndGlyphs" font-family="Liberation Sans, sans-serif" font-weight="bold" stroke="#000" stroke-width="0.25">PAS</text>
<text transform="translate(55.7,495.1) rotate(-90)" text-anchor="middle" font-size="13.5" textLength="50.5" lengthAdjust="spacingAndGlyphs" font-family="Liberation Sans, sans-serif" font-weight="bold" stroke="#000" stroke-width="0.25">Megalin</text>
<defs>
<filter color-interpolation-filters="sRGB" id="sb"><feGaussianBlur stdDeviation="0.35"/></filter>
<filter color-interpolation-filters="sRGB" id="rough" x="-10%" y="-10%" width="120%" height="120%">
<feTurbulence type="fractalNoise" baseFrequency="0.18" numOctaves="2" seed="7" result="t"/>
<feDisplacementMap in="SourceGraphic" in2="t" scale="7" xChannelSelector="R" yChannelSelector="G"/>
</filter>
<filter color-interpolation-filters="sRGB" id="rough2" x="-10%" y="-10%" width="120%" height="120%">
<feTurbulence type="fractalNoise" baseFrequency="0.35" numOctaves="2" seed="3" result="t"/>
<feDisplacementMap in="SourceGraphic" in2="t" scale="4" xChannelSelector="R" yChannelSelector="G"/>
</filter>
<filter color-interpolation-filters="sRGB" id="brn" x="-10%" y="-10%" width="120%" height="120%">
<feTurbulence type="fractalNoise" baseFrequency="0.16" numOctaves="2" seed="11" result="t"/>
<feDisplacementMap in="SourceGraphic" in2="t" scale="8" xChannelSelector="R" yChannelSelector="G" result="d"/>
<feTurbulence type="fractalNoise" baseFrequency="0.45" numOctaves="2" seed="5" result="t2"/>
<feColorMatrix in="t2" type="matrix" values="0 0 0 0 0 0 0 0 0 0 0 0 0 0 0 2 0 0 0 -0.15" result="m"/>
<feComposite in="d" in2="m" operator="in"/>
</filter>
<filter color-interpolation-filters="sRGB" id="brn2" x="-10%" y="-10%" width="120%" height="120%">
<feTurbulence type="fractalNoise" baseFrequency="0.16" numOctaves="2" seed="11" result="t"/>
<feDisplacementMap in="SourceGraphic" in2="t" scale="8" xChannelSelector="R" yChannelSelector="G" result="d"/>
<feTurbulence type="fractalNoise" baseFrequency="0.5" numOctaves="2" seed="9" result="t2"/>
<feColorMatrix in="t2" type="matrix" values="0 0 0 0 0 0 0 0 0 0 0 0 0 0 0 2.2 0 0 0 -0.6" result="m"/>
<feComposite in="d" in2="m" operator="in"/>
</filter>
</defs>
<clipPath id="c10"><rect x="73.1" y="294.1" width="129.1" height="128.5"/></clipPath>
<g clip-path="url(#c10)">
<rect x="73.1" y="294.1" width="129.1" height="128.5" fill="#8c68b8"/>
<filter color-interpolation-filters="sRGB" id="n10_0" filterUnits="userSpaceOnUse" x="73.1" y="294.1" width="129.1" height="128.5"><feTurbulence type="fractalNoise" baseFrequency="0.35" numOctaves="3" seed="70"/><feColorMatrix type="matrix" values="0.638 0 0 0 0.344 1.001 0 0 0 0.041 0.483 0 0 0 0.504 0 0 0 0 1.0"/></filter>
<rect x="73.1" y="294.1" width="129.1" height="128.5" filter="url(#n10_0)" opacity="1.0"/>
<g fill="none" stroke="#5e1e8c" stroke-width="2.4" opacity="0.6" filter="url(#rough)"><ellipse cx="68.3" cy="287.5" rx="9.0" ry="6.3" transform="rotate(146 68.3 287.5)"/><ellipse cx="90.7" cy="290.4" rx="7.7" ry="7.3" transform="rotate(59 90.7 290.4)"/><ellipse cx="102.1" cy="294.4" rx="10.2" ry="5.8" transform="rotate(155 102.1 294.4)"/><ellipse cx="125.8" cy="286.8" rx="8.1" ry="7.8" transform="rotate(82 125.8 286.8)"/><ellipse cx="145.9" cy="290.6" rx="7.6" ry="8.0" transform="rotate(177 145.9 290.6)"/><ellipse cx="168.6" cy="289.9" rx="7.4" ry="5.7" transform="rotate(24 168.6 289.9)"/><ellipse cx="187.3" cy="285.8" rx="8.3" ry="8.4" transform="rotate(57 187.3 285.8)"/><ellipse cx="201.1" cy="287.5" rx="7.4" ry="7.5" transform="rotate(152 201.1 287.5)"/><ellipse cx="72.3" cy="303.7" rx="8.5" ry="5.8" transform="rotate(89 72.3 303.7)"/><ellipse cx="100.1" cy="309.5" rx="8.8" ry="8.3" transform="rotate(27 100.1 309.5)"/><ellipse cx="115.8" cy="305.7" rx="9.0" ry="6.0" transform="rotate(140 115.8 305.7)"/><ellipse cx="128.5" cy="303.0" rx="9.7" ry="8.6" transform="rotate(78 128.5 303.0)"/><ellipse cx="151.8" cy="304.0" rx="8.1" ry="7.6" transform="rotate(32 151.8 304.0)"/><ellipse cx="166.8" cy="306.8" rx="7.7" ry="7.7" transform="rotate(148 166.8 306.8)"/><ellipse cx="194.6" cy="307.1" rx="8.3" ry="7.0" transform="rotate(1 194.6 307.1)"/><ellipse cx="212.7" cy="305.2" rx="8.2" ry="5.9" transform="rotate(81 212.7 305.2)"/><ellipse cx="68.5" cy="324.9" rx="9.9" ry="7.7" transform="rotate(43 68.5 324.9)"/><ellipse cx="86.7" cy="331.9" rx="8.8" ry="7.5" transform="rotate(11 86.7 331.9)"/><ellipse cx="105.3" cy="325.9" rx="8.4" ry="7.0" transform="rotate(105 105.3 325.9)"/><ellipse cx="124.9" cy="326.3" rx="7.7" ry="7.0" transform="rotate(174 124.9 326.3)"/><ellipse cx="142.3" cy="320.2" rx="7.2" ry="7.3" transform="rotate(9 142.3 320.2)"/><ellipse cx="157.0" cy="321.2" rx="8.6" ry="8.7" transform="rotate(87 157.0 321.2)"/><ellipse cx="180.8" cy="325.6" rx="8.7" ry="7.1" transform="rotate(131 180.8 325.6)"/><ellipse cx="205.7" cy="329.0" rx="8.5" ry="7.7" transform="rotate(164 205.7 329.0)"/><ellipse cx="72.3" cy="341.9" rx="9.1" ry="7.8" transform="rotate(116 72.3 341.9)"/><ellipse cx="97.1" cy="349.8" rx="8.7" ry="8.2" transform="rotate(173 97.1 349.8)"/><ellipse cx="114.0" cy="350.2" rx="9.4" ry="8.4" transform="rotate(8 114.0 350.2)"/><ellipse cx="139.4" cy="348.9" rx="10.1" ry="8.7" transform="rotate(51 139.4 348.9)"/><ellipse cx="155.2" cy="340.6" rx="9.0" ry="8.5" transform="rotate(35 155.2 340.6)"/><ellipse cx="169.9" cy="339.8" rx="7.8" ry="6.3" transform="rotate(17 169.9 339.8)"/><ellipse cx="197.5" cy="350.6" rx="8.6" ry="8.0" transform="rotate(125 197.5 350.6)"/><ellipse cx="210.2" cy="344.4" rx="9.2" ry="7.4" transform="rotate(48 210.2 344.4)"/><ellipse cx="65.6" cy="366.1" rx="9.1" ry="6.3" transform="rotate(110 65.6 366.1)"/><ellipse cx="91.4" cy="369.3" rx="9.2" ry="5.9" transform="rotate(76 91.4 369.3)"/><ellipse cx="99.9" cy="358.5" rx="8.0" ry="7.1" transform="rotate(137 99.9 358.5)"/><ellipse cx="126.1" cy="361.5" rx="9.3" ry="7.2" transform="rotate(91 126.1 361.5)"/><ellipse cx="140.3" cy="363.6" rx="8.3" ry="7.9" transform="rotate(87 140.3 363.6)"/><ellipse cx="161.7" cy="364.1" rx="8.7" ry="7.8" transform="rotate(130 161.7 364.1)"/><ellipse cx="185.4" cy="363.1" rx="9.6" ry="8.6" transform="rotate(179 185.4 363.1)"/><ellipse cx="203.3" cy="358.6" rx="9.8" ry="8.2" transform="rotate(3 203.3 358.6)"/><ellipse cx="74.6" cy="381.0" rx="9.5" ry="7.6" transform="rotate(51 74.6 381.0)"/><ellipse cx="91.7" cy="379.0" rx="7.5" ry="8.1" transform="rotate(168 91.7 379.0)"/><ellipse cx="111.2" cy="386.7" rx="10.1" ry="6.3" transform="rotate(103 111.2 386.7)"/><ellipse cx="133.1" cy="389.7" rx="9.9" ry="5.7" transform="rotate(36 133.1 389.7)"/><ellipse cx="157.5" cy="384.4" rx="8.8" ry="8.2" transform="rotate(138 157.5 384.4)"/><ellipse cx="177.9" cy="381.1" rx="7.4" ry="7.8" transform="rotate(9 177.9 381.1)"/><ellipse cx="191.8" cy="388.2" rx="8.4" ry="7.5" transform="rotate(31 191.8 388.2)"/><ellipse cx="205.3" cy="384.8" rx="9.8" ry="8.7" transform="rotate(6 205.3 384.8)"/><ellipse cx="73.0" cy="402.5" rx="8.3" ry="6.9" transform="rotate(104 73.0 402.5)"/><ellipse cx="84.4" cy="397.7" rx="9.9" ry="7.8" transform="rotate(110 84.4 397.7)"/><ellipse cx="108.4" cy="408.9" rx="7.8" ry="8.2" transform="rotate(148 108.4 408.9)"/><ellipse cx="122.3" cy="403.2" rx="8.6" ry="6.3" transform="rotate(78 122.3 403.2)"/><ellipse cx="138.8" cy="408.1" rx="7.8" ry="7.6" transform="rotate(103 138.8 408.1)"/><ellipse cx="168.7" cy="406.3" rx="8.3" ry="6.8" transform="rotate(9 168.7 406.3)"/><ellipse cx="175.4" cy="399.9" rx="10.1" ry="5.9" transform="rotate(32 175.4 399.9)"/><ellipse cx="202.2" cy="400.5" rx="7.8" ry="8.6" transform="rotate(8 202.2 400.5)"/><ellipse cx="78.2" cy="420.5" rx="8.3" ry="6.3" transform="rotate(29 78.2 420.5)"/><ellipse cx="94.6" cy="424.8" rx="8.6" ry="8.1" transform="rotate(158 94.6 424.8)"/><ellipse cx="110.6" cy="426.4" rx="9.0" ry="7.0" transform="rotate(92 110.6 426.4)"/><ellipse cx="139.1" cy="420.0" rx="7.5" ry="8.6" transform="rotate(21 139.1 420.0)"/><ellipse cx="147.7" cy="424.3" rx="8.2" ry="6.6" transform="rotate(117 147.7 424.3)"/><ellipse cx="177.1" cy="419.3" rx="10.0" ry="7.6" transform="rotate(109 177.1 419.3)"/><ellipse cx="191.3" cy="414.9" rx="7.7" ry="7.8" transform="rotate(125 191.3 414.9)"/><ellipse cx="204.5" cy="423.2" rx="8.7" ry="7.5" transform="rotate(72 204.5 423.2)"/></g>
<path d="M72.1,285.0L64.6,289.9M88.7,287.1L92.7,293.7M125.2,282.8L126.3,290.8M165.3,288.4L172.0,291.4M185.0,282.3L189.6,289.3M72.3,299.5L72.4,308.0M119.2,302.8L112.3,308.7M148.3,301.9L155.2,306.2M170.1,304.8L163.6,308.9M190.5,307.1L198.7,307.2M64.9,321.6L72.1,328.3M82.4,331.0L91.1,332.7M106.4,321.8L104.1,330.0M138.7,319.6L145.8,320.8M156.8,316.9L157.2,325.5M183.7,322.2L178.0,328.9M209.8,327.8L201.6,330.2M74.3,337.8L70.3,346.0M101.4,349.3L92.8,350.3M109.4,349.5L118.7,350.9M136.2,345.0L142.6,352.9M151.4,338.1L158.9,343.2M166.2,338.7L173.6,341.0M67.1,361.8L64.1,370.4M90.3,364.9L92.5,373.8M102.8,355.7L97.0,361.2M126.2,356.8L126.0,366.2M140.0,359.5L140.5,367.7M164.5,360.7L158.9,367.4M198.4,358.4L208.2,358.9M71.6,377.4L77.6,384.7M95.4,378.2L88.0,379.7M112.3,381.7L110.0,391.6M129.1,386.8L137.1,392.6M160.8,381.4L154.3,387.4M174.3,380.5L181.6,381.7M188.1,386.0L195.4,390.3M200.4,384.3L210.2,385.3M74.0,398.5L72.0,406.6M86.0,393.1L82.7,402.3M111.6,406.8L105.1,410.9M121.4,399.0L123.2,407.4M139.6,404.3L137.9,411.9M164.6,405.7L172.8,407.0M171.1,397.2L179.7,402.6M198.4,400.0L206.1,401.1M74.6,418.4L81.8,422.5M98.7,423.1L90.6,426.4M110.7,422.0L110.4,430.9M135.6,418.6L142.6,421.3M193.5,411.8L189.1,418.1M203.2,419.1L205.9,427.3" fill="none" stroke="#8a30a8" stroke-width="3.4" stroke-linecap="round" opacity="0.6" filter="url(#rough2)"/>
<path d="M72.1,285.0L64.6,289.9M88.7,287.1L92.7,293.7M125.2,282.8L126.3,290.8M165.3,288.4L172.0,291.4M185.0,282.3L189.6,289.3M72.3,299.5L72.4,308.0M119.2,302.8L112.3,308.7M148.3,301.9L155.2,306.2M170.1,304.8L163.6,308.9M190.5,307.1L198.7,307.2M64.9,321.6L72.1,328.3M82.4,331.0L91.1,332.7M106.4,321.8L104.1,330.0M138.7,319.6L145.8,320.8M156.8,316.9L157.2,325.5M183.7,322.2L178.0,328.9M209.8,327.8L201.6,330.2M74.3,337.8L70.3,346.0M101.4,349.3L92.8,350.3M109.4,349.5L118.7,350.9M136.2,345.0L142.6,352.9M151.4,338.1L158.9,343.2M166.2,338.7L173.6,341.0M67.1,361.8L64.1,370.4M90.3,364.9L92.5,373.8M102.8,355.7L97.0,361.2M126.2,356.8L126.0,366.2M140.0,359.5L140.5,367.7M164.5,360.7L158.9,367.4M198.4,358.4L208.2,358.9M71.6,377.4L77.6,384.7M95.4,378.2L88.0,379.7M112.3,381.7L110.0,391.6M129.1,386.8L137.1,392.6M160.8,381.4L154.3,387.4M174.3,380.5L181.6,381.7M188.1,386.0L195.4,390.3M200.4,384.3L210.2,385.3M74.0,398.5L72.0,406.6M86.0,393.1L82.7,402.3M111.6,406.8L105.1,410.9M121.4,399.0L123.2,407.4M139.6,404.3L137.9,411.9M164.6,405.7L172.8,407.0M171.1,397.2L179.7,402.6M198.4,400.0L206.1,401.1M74.6,418.4L81.8,422.5M98.7,423.1L90.6,426.4M110.7,422.0L110.4,430.9M135.6,418.6L142.6,421.3M193.5,411.8L189.1,418.1M203.2,419.1L205.9,427.3" fill="none" stroke="#e4dcee" stroke-width="1.2" stroke-linecap="round" opacity="0.9" filter="url(#rough2)"/>
<g fill="#e2dcea" stroke="#e2dcea" opacity="0.95" filter="url(#rough2)"><ellipse cx="96.1" cy="300.1" rx="5" ry="3"/><ellipse cx="81.1" cy="305.1" rx="4" ry="3"/><ellipse cx="128.1" cy="318.1" rx="8" ry="3.5" transform="rotate(-10 128.1 318.1)"/><path d="M99.1,329.1 102.1,340.1" fill="none" stroke-width="4" stroke-linecap="round" stroke-linejoin="round"/><path d="M163.1,335.1 166.1,349.1 169.1,361.1" fill="none" stroke-width="5" stroke-linecap="round" stroke-linejoin="round"/><ellipse cx="196.1" cy="341.1" rx="4" ry="7"/><ellipse cx="122.1" cy="344.1" rx="3" ry="4"/><ellipse cx="97.1" cy="403.1" rx="7" ry="4"/><ellipse cx="153.1" cy="379.1" rx="3" ry="3"/><ellipse cx="145.1" cy="398.1" rx="3" ry="3"/><ellipse cx="167.1" cy="395.1" rx="3" ry="4"/><ellipse cx="192.1" cy="369.1" rx="5" ry="4"/><ellipse cx="180.1" cy="302.1" rx="6" ry="2.5"/><ellipse cx="179.1" cy="417.1" rx="4" ry="3"/><path d="M77.1,391.1 94.1,359.1" fill="none" stroke-width="2" stroke-linecap="round" stroke-linejoin="round"/><path d="M133.1,341.1 133.1,357.1" fill="none" stroke-width="1.5" stroke-linecap="round" stroke-linejoin="round"/></g>
<path d="M170.4 349.1h0M138.9 385.7h0M154.9 372.3h0M156.5 362.9h0M100.7 333.4h0M162.3 347.9h0M183.9 342.2h0M159.5 309.0h0M111.8 403.5h0M95.8 374.5h0M76.7 372.4h0M131.4 409.7h0M179.7 393.5h0M116.8 380.1h0M93.1 357.0h0M123.4 354.5h0M108.5 321.3h0M140.2 378.1h0M145.8 416.6h0M144.9 313.3h0M155.9 334.8h0M194.3 310.8h0M132.2 380.7h0M198.3 361.2h0M122.2 393.9h0M174.7 411.5h0M166.2 310.5h0M201.1 413.7h0M180.8 411.9h0M166.4 305.7h0M81.9 341.2h0M132.0 334.1h0M169.9 392.2h0M124.7 383.8h0M98.0 416.4h0M104.3 314.2h0M122.4 405.0h0M150.3 382.3h0M178.7 343.7h0M197.0 421.0h0M142.2 390.4h0M183.3 370.1h0M89.9 378.5h0M131.9 403.9h0M100.1 295.6h0M96.2 316.0h0M122.7 320.8h0M116.2 369.8h0M119.0 294.7h0M160.1 358.5h0M173.3 406.8h0M79.3 385.9h0M88.0 401.9h0M128.6 306.0h0M83.4 295.0h0M179.8 364.9h0M146.8 409.7h0M84.1 415.4h0M170.3 403.4h0M76.1 422.3h0M154.8 385.6h0M162.9 332.5h0M157.9 352.0h0M102.4 358.3h0M169.9 410.9h0M150.3 297.1h0M143.4 375.2h0M178.4 333.1h0M103.4 342.1h0M93.8 394.2h0M76.6 366.7h0M180.7 298.3h0M94.3 421.6h0M112.8 392.8h0M76.8 354.1h0M78.6 325.6h0M75.3 381.4h0M131.7 339.3h0M78.5 378.1h0M158.9 324.8h0M139.6 418.7h0M134.2 392.5h0M118.4 365.0h0M173.6 383.8h0M150.2 332.0h0M80.4 356.1h0M166.4 340.3h0M166.9 354.6h0M82.1 368.7h0M144.0 335.4h0" stroke="#4a3ca0" stroke-width="2.6" stroke-linecap="round" opacity="0.5" filter="url(#sb)"/>
</g>
<rect x="74.3" y="295.3" width="126.7" height="126.1" fill="none" stroke="#000" stroke-width="2.4"/>
<clipPath id="c11"><rect x="212.7" y="293.8" width="129.6" height="128.0"/></clipPath>
<g clip-path="url(#c11)">
<rect x="212.7" y="293.8" width="129.6" height="128.0" fill="#ae9fcf"/>
<filter color-interpolation-filters="sRGB" id="n11_0" filterUnits="userSpaceOnUse" x="212.7" y="293.8" width="129.6" height="128.0"><feTurbulence type="fractalNoise" baseFrequency="0.2" numOctaves="3" seed="77"/><feColorMatrix type="matrix" values="0.565 0 0 0 0.345 0.690 0 0 0 0.220 0.345 0 0 0 0.573 0 0 0 0 1.0"/></filter>
<rect x="212.7" y="293.8" width="129.6" height="128.0" filter="url(#n11_0)" opacity="1.0"/>
<g fill="none" stroke="#b066c0" stroke-width="1.2" opacity="0.45" filter="url(#rough)"><ellipse cx="204.7" cy="287.6" rx="12.7" ry="9.0" transform="rotate(91 204.7 287.6)"/><ellipse cx="231.0" cy="281.3" rx="11.1" ry="9.6" transform="rotate(143 231.0 281.3)"/><ellipse cx="246.7" cy="283.3" rx="9.5" ry="10.3" transform="rotate(125 246.7 283.3)"/><ellipse cx="269.8" cy="294.7" rx="12.8" ry="9.7" transform="rotate(111 269.8 294.7)"/><ellipse cx="295.7" cy="278.5" rx="11.1" ry="7.4" transform="rotate(34 295.7 278.5)"/><ellipse cx="321.2" cy="278.7" rx="10.9" ry="8.9" transform="rotate(152 321.2 278.7)"/><ellipse cx="349.8" cy="289.0" rx="11.0" ry="9.7" transform="rotate(82 349.8 289.0)"/><ellipse cx="213.8" cy="319.0" rx="12.9" ry="10.4" transform="rotate(127 213.8 319.0)"/><ellipse cx="238.4" cy="306.1" rx="10.2" ry="7.5" transform="rotate(138 238.4 306.1)"/><ellipse cx="263.8" cy="316.4" rx="10.6" ry="10.9" transform="rotate(153 263.8 316.4)"/><ellipse cx="281.1" cy="305.7" rx="12.6" ry="9.0" transform="rotate(176 281.1 305.7)"/><ellipse cx="311.8" cy="303.4" rx="11.5" ry="10.2" transform="rotate(49 311.8 303.4)"/><ellipse cx="330.6" cy="307.8" rx="12.8" ry="10.1" transform="rotate(21 330.6 307.8)"/><ellipse cx="357.2" cy="303.9" rx="9.3" ry="10.3" transform="rotate(32 357.2 303.9)"/><ellipse cx="206.5" cy="333.7" rx="9.9" ry="10.0" transform="rotate(24 206.5 333.7)"/><ellipse cx="231.9" cy="328.2" rx="10.7" ry="8.0" transform="rotate(49 231.9 328.2)"/><ellipse cx="261.4" cy="339.7" rx="10.3" ry="10.6" transform="rotate(38 261.4 339.7)"/><ellipse cx="275.7" cy="340.6" rx="11.6" ry="7.6" transform="rotate(178 275.7 340.6)"/><ellipse cx="296.7" cy="330.5" rx="12.1" ry="8.5" transform="rotate(53 296.7 330.5)"/><ellipse cx="318.3" cy="327.7" rx="11.4" ry="8.1" transform="rotate(108 318.3 327.7)"/><ellipse cx="347.3" cy="333.8" rx="12.8" ry="9.1" transform="rotate(103 347.3 333.8)"/><ellipse cx="223.7" cy="353.3" rx="9.7" ry="10.7" transform="rotate(147 223.7 353.3)"/><ellipse cx="237.3" cy="353.4" rx="12.0" ry="10.8" transform="rotate(35 237.3 353.4)"/><ellipse cx="273.1" cy="365.0" rx="11.4" ry="8.8" transform="rotate(19 273.1 365.0)"/><ellipse cx="281.8" cy="366.4" rx="10.0" ry="9.9" transform="rotate(46 281.8 366.4)"/><ellipse cx="318.9" cy="360.2" rx="10.2" ry="7.9" transform="rotate(130 318.9 360.2)"/><ellipse cx="330.3" cy="354.0" rx="11.3" ry="10.5" transform="rotate(111 330.3 354.0)"/><ellipse cx="357.8" cy="365.6" rx="9.9" ry="7.3" transform="rotate(48 357.8 365.6)"/><ellipse cx="204.6" cy="375.2" rx="9.8" ry="8.6" transform="rotate(103 204.6 375.2)"/><ellipse cx="223.3" cy="380.3" rx="12.5" ry="11.0" transform="rotate(118 223.3 380.3)"/><ellipse cx="256.7" cy="384.0" rx="9.7" ry="7.3" transform="rotate(3 256.7 384.0)"/><ellipse cx="284.4" cy="386.0" rx="12.8" ry="7.3" transform="rotate(115 284.4 386.0)"/><ellipse cx="301.2" cy="386.5" rx="10.3" ry="11.0" transform="rotate(14 301.2 386.5)"/><ellipse cx="326.3" cy="386.6" rx="12.6" ry="10.0" transform="rotate(127 326.3 386.6)"/><ellipse cx="354.4" cy="389.6" rx="10.5" ry="9.8" transform="rotate(162 354.4 389.6)"/><ellipse cx="223.7" cy="405.2" rx="12.2" ry="10.5" transform="rotate(103 223.7 405.2)"/><ellipse cx="243.6" cy="404.6" rx="11.4" ry="9.5" transform="rotate(14 243.6 404.6)"/><ellipse cx="267.8" cy="414.9" rx="12.5" ry="10.0" transform="rotate(70 267.8 414.9)"/><ellipse cx="293.4" cy="408.0" rx="10.8" ry="10.4" transform="rotate(15 293.4 408.0)"/><ellipse cx="317.7" cy="398.7" rx="11.4" ry="9.0" transform="rotate(41 317.7 398.7)"/><ellipse cx="340.8" cy="406.6" rx="11.5" ry="10.7" transform="rotate(46 340.8 406.6)"/><ellipse cx="353.3" cy="403.3" rx="11.7" ry="8.0" transform="rotate(31 353.3 403.3)"/><ellipse cx="212.3" cy="433.3" rx="10.8" ry="10.6" transform="rotate(59 212.3 433.3)"/><ellipse cx="232.3" cy="425.5" rx="10.8" ry="10.3" transform="rotate(165 232.3 425.5)"/><ellipse cx="259.9" cy="428.7" rx="11.4" ry="8.4" transform="rotate(25 259.9 428.7)"/><ellipse cx="277.4" cy="436.3" rx="12.4" ry="9.9" transform="rotate(171 277.4 436.3)"/><ellipse cx="297.8" cy="425.0" rx="10.9" ry="8.3" transform="rotate(39 297.8 425.0)"/><ellipse cx="324.1" cy="432.7" rx="11.0" ry="8.4" transform="rotate(151 324.1 432.7)"/><ellipse cx="357.6" cy="429.8" rx="9.4" ry="7.3" transform="rotate(157 357.6 429.8)"/></g>
<path d="M204.9,281.3L204.5,293.9M235.4,277.9L226.6,284.7M249.4,279.4L244.0,287.2M272.1,288.7L267.5,300.7M326.0,276.1L316.4,281.3M349.1,283.5L350.6,294.4M217.7,313.8L209.8,324.1M242.2,302.6L234.6,309.5M287.4,305.3L274.8,306.1M308.0,299.1L315.6,307.8M324.6,305.5L336.5,310.1M353.3,301.4L361.2,306.4M202.0,331.7L211.0,335.7M228.4,324.1L235.5,332.2M257.4,336.5L265.5,342.9M320.1,322.3L316.6,333.1M348.8,327.6L345.9,340.0M227.7,350.6L219.6,355.9M232.4,349.9L242.2,356.9M267.6,363.2L278.5,366.9M278.3,362.7L285.2,370.0M322.2,356.3L315.7,364.2M332.2,348.8L328.3,359.3M354.5,361.9L361.1,369.3M205.7,370.4L203.5,380.0M226.3,374.8L220.3,385.8M251.9,383.7L261.5,384.3M287.1,380.1L281.7,391.8M330.0,381.5L322.5,391.6M238.1,403.2L249.1,406.0M288.2,406.6L298.7,409.4M313.4,394.9L322.0,402.5M336.8,402.4L344.8,410.7M348.2,400.3L358.3,406.2M237.5,424.1L227.1,427.0M254.7,426.3L265.1,431.0M361.9,428.0L353.3,431.6" fill="none" stroke="#9a5ab8" stroke-width="2.2" stroke-linecap="round" opacity="0.4" filter="url(#rough2)"/>
<path d="M204.9,281.3L204.5,293.9M235.4,277.9L226.6,284.7M249.4,279.4L244.0,287.2M272.1,288.7L267.5,300.7M326.0,276.1L316.4,281.3M349.1,283.5L350.6,294.4M217.7,313.8L209.8,324.1M242.2,302.6L234.6,309.5M287.4,305.3L274.8,306.1M308.0,299.1L315.6,307.8M324.6,305.5L336.5,310.1M353.3,301.4L361.2,306.4M202.0,331.7L211.0,335.7M228.4,324.1L235.5,332.2M257.4,336.5L265.5,342.9M320.1,322.3L316.6,333.1M348.8,327.6L345.9,340.0M227.7,350.6L219.6,355.9M232.4,349.9L242.2,356.9M267.6,363.2L278.5,366.9M278.3,362.7L285.2,370.0M322.2,356.3L315.7,364.2M332.2,348.8L328.3,359.3M354.5,361.9L361.1,369.3M205.7,370.4L203.5,380.0M226.3,374.8L220.3,385.8M251.9,383.7L261.5,384.3M287.1,380.1L281.7,391.8M330.0,381.5L322.5,391.6M238.1,403.2L249.1,406.0M288.2,406.6L298.7,409.4M313.4,394.9L322.0,402.5M336.8,402.4L344.8,410.7M348.2,400.3L358.3,406.2M237.5,424.1L227.1,427.0M254.7,426.3L265.1,431.0M361.9,428.0L353.3,431.6" fill="none" stroke="#e4dcee" stroke-width="0.9" stroke-linecap="round" opacity="0.9" filter="url(#rough2)"/>
<g fill="#e2dcea" stroke="#e2dcea" opacity="0.95" filter="url(#rough2)"><ellipse cx="220.7" cy="315.8" rx="4" ry="8"/><path d="M224.7,337.8 236.7,348.8 246.7,359.8 257.7,365.8" fill="none" stroke-width="6" stroke-linecap="round" stroke-linejoin="round"/><path d="M256.7,378.8 252.7,388.8 250.7,399.8" fill="none" stroke-width="5" stroke-linecap="round" stroke-linejoin="round"/><ellipse cx="316.7" cy="355.8" rx="3" ry="7"/><ellipse cx="308.7" cy="300.8" rx="3" ry="3"/><ellipse cx="334.7" cy="304.8" rx="3" ry="4"/><ellipse cx="220.7" cy="413.8" rx="5" ry="5"/><ellipse cx="254.7" cy="344.8" rx="4" ry="3"/><ellipse cx="299.7" cy="362.8" rx="3" ry="4"/><ellipse cx="311.7" cy="320.8" rx="3" ry="4"/><ellipse cx="317.7" cy="380.8" rx="2" ry="3"/><ellipse cx="334.7" cy="346.8" rx="3" ry="4"/><ellipse cx="303.7" cy="392.8" rx="4" ry="3"/></g>
<path d="M297.1 320.0h0M306.3 398.5h0M295.9 385.7h0M240.3 409.0h0M339.8 418.9h0M282.3 395.0h0M254.2 410.3h0M323.6 338.4h0M223.4 350.2h0M275.9 297.4h0M317.6 302.0h0M316.4 315.9h0M256.1 394.7h0M230.9 312.8h0M279.6 386.4h0M321.6 382.0h0M335.3 356.9h0M335.7 304.8h0M241.4 361.2h0M250.3 387.1h0M295.5 360.7h0M322.0 365.5h0M253.1 342.6h0M322.2 409.1h0M239.7 402.7h0M338.2 360.9h0M287.0 319.5h0M282.2 358.2h0M291.1 297.4h0M264.6 396.3h0M302.3 302.2h0M282.5 346.8h0M336.7 412.0h0M247.6 354.4h0M229.2 349.3h0M274.5 334.4h0M237.5 372.9h0M332.6 310.4h0M313.7 296.7h0M237.9 322.9h0M301.7 335.0h0M258.8 373.1h0M226.3 387.4h0M228.6 359.1h0M245.2 319.1h0M261.4 346.7h0M281.3 314.2h0M323.0 372.1h0M323.7 323.6h0M329.7 334.2h0M241.0 421.6h0M327.7 310.9h0M243.7 386.8h0M246.3 306.2h0M320.5 347.8h0M315.1 309.9h0M264.9 381.5h0M215.0 319.5h0M301.1 410.5h0M338.2 308.6h0M278.2 390.8h0M277.9 381.6h0M237.2 302.8h0M226.5 298.6h0M286.4 312.6h0M321.6 420.6h0M220.7 415.6h0M272.6 391.7h0M255.1 353.6h0M303.6 401.9h0M236.2 351.9h0M308.5 345.7h0M238.0 314.9h0M328.5 396.4h0M294.3 345.6h0M290.4 358.3h0M340.1 396.8h0M246.2 410.4h0M309.2 393.4h0M328.9 406.4h0M302.7 392.0h0M306.4 302.8h0M214.1 339.3h0M295.5 373.7h0M242.8 414.7h0M298.2 366.7h0M342.3 376.0h0M339.7 296.7h0M292.5 388.4h0M246.0 345.2h0M219.2 318.8h0M261.4 306.4h0M338.0 366.5h0M234.6 357.2h0M335.2 347.7h0M281.0 370.3h0M260.1 330.4h0M251.1 295.6h0M244.5 299.3h0M233.0 390.4h0M263.2 408.7h0M309.7 300.2h0M340.8 414.7h0M222.2 409.7h0M268.4 354.9h0M338.8 325.0h0M280.5 413.8h0M306.4 353.7h0M290.9 308.5h0M293.6 352.1h0M281.1 309.7h0M270.1 379.3h0M271.7 327.4h0M288.2 347.5h0M313.5 361.7h0M307.9 324.3h0M227.5 408.1h0M314.3 373.8h0M289.4 374.8h0M310.3 318.1h0M245.0 419.2h0M217.8 301.6h0M282.9 303.1h0M223.9 380.4h0M284.1 374.6h0M261.1 355.1h0M240.0 337.8h0M222.3 309.1h0M317.7 341.0h0M297.4 420.4h0M254.9 364.0h0M309.4 411.7h0M268.1 341.1h0M222.9 304.4h0M285.8 355.9h0M313.2 303.5h0M240.3 378.5h0M223.3 332.7h0M306.7 382.6h0M249.4 312.1h0M259.1 386.7h0M304.6 366.7h0M331.7 414.1h0M331.1 349.9h0M316.8 332.8h0M333.8 408.3h0M244.9 340.1h0M260.1 340.3h0M264.0 343.4h0M238.0 366.0h0M326.9 329.8h0M215.6 359.8h0M283.2 366.4h0M337.9 377.2h0M223.7 375.0h0M296.8 325.2h0M241.3 391.8h0M263.8 337.0h0M276.7 362.6h0M323.3 397.0h0M267.2 312.5h0M308.8 420.6h0M261.4 315.3h0M239.2 348.2h0M250.5 417.9h0M227.6 376.7h0M288.4 410.2h0M217.4 307.7h0M236.7 329.8h0M318.6 355.2h0M275.2 322.1h0M214.1 354.3h0M305.1 371.4h0M254.4 327.0h0M325.4 359.9h0M247.2 362.2h0M212.9 398.9h0M223.4 328.3h0M274.9 353.8h0M323.8 332.7h0M315.0 347.2h0M331.5 305.4h0M319.8 320.5h0M233.1 400.3h0M253.1 333.6h0M273.3 385.3h0M259.3 381.7h0M226.4 344.3h0M272.5 417.6h0M320.2 377.5h0M214.1 420.7h0M292.5 331.0h0M261.4 362.9h0M307.5 336.0h0M319.9 305.6h0M231.0 305.9h0M300.5 384.5h0M236.0 345.3h0M224.4 322.8h0M265.4 303.1h0" stroke="#5e5cb0" stroke-width="3.4" stroke-linecap="round" opacity="0.65" filter="url(#sb)"/>
</g>
<rect x="213.9" y="295.0" width="127.2" height="125.6" fill="none" stroke="#000" stroke-width="2.4"/>
<clipPath id="c12"><rect x="348.8" y="293.4" width="129.4" height="127.9"/></clipPath>
<g clip-path="url(#c12)">
<rect x="348.8" y="293.4" width="129.4" height="127.9" fill="#ab9dd0"/>
<filter color-interpolation-filters="sRGB" id="n12_0" filterUnits="userSpaceOnUse" x="348.8" y="293.4" width="129.4" height="127.9"><feTurbulence type="fractalNoise" baseFrequency="0.25" numOctaves="3" seed="84"/><feColorMatrix type="matrix" values="0.596 0 0 0 0.400 0.800 0 0 0 0.224 0.392 0 0 0 0.608 0 0 0 0 1.0"/></filter>
<rect x="348.8" y="293.4" width="129.4" height="127.9" filter="url(#n12_0)" opacity="1.0"/>
<g fill="none" stroke="#a060bc" stroke-width="1.2" opacity="0.4" filter="url(#rough)"><ellipse cx="340.5" cy="288.5" rx="12.7" ry="8.4" transform="rotate(2 340.5 288.5)"/><ellipse cx="364.7" cy="281.5" rx="13.3" ry="10.7" transform="rotate(108 364.7 281.5)"/><ellipse cx="394.1" cy="288.5" rx="10.5" ry="9.6" transform="rotate(29 394.1 288.5)"/><ellipse cx="426.4" cy="277.6" rx="13.3" ry="8.1" transform="rotate(124 426.4 277.6)"/><ellipse cx="442.0" cy="283.9" rx="13.4" ry="7.9" transform="rotate(11 442.0 283.9)"/><ellipse cx="478.6" cy="285.8" rx="10.3" ry="11.9" transform="rotate(170 478.6 285.8)"/><ellipse cx="489.9" cy="284.2" rx="10.4" ry="9.1" transform="rotate(112 489.9 284.2)"/><ellipse cx="347.9" cy="315.2" rx="10.1" ry="8.5" transform="rotate(147 347.9 315.2)"/><ellipse cx="378.2" cy="310.1" rx="12.4" ry="9.8" transform="rotate(69 378.2 310.1)"/><ellipse cx="397.5" cy="315.7" rx="13.9" ry="11.9" transform="rotate(119 397.5 315.7)"/><ellipse cx="429.4" cy="309.1" rx="12.8" ry="10.6" transform="rotate(20 429.4 309.1)"/><ellipse cx="453.2" cy="309.1" rx="12.0" ry="11.2" transform="rotate(90 453.2 309.1)"/><ellipse cx="475.4" cy="317.5" rx="11.7" ry="10.0" transform="rotate(40 475.4 317.5)"/><ellipse cx="508.7" cy="309.6" rx="13.1" ry="8.2" transform="rotate(99 508.7 309.6)"/><ellipse cx="335.1" cy="341.2" rx="10.0" ry="9.0" transform="rotate(62 335.1 341.2)"/><ellipse cx="369.5" cy="329.4" rx="11.8" ry="8.7" transform="rotate(51 369.5 329.4)"/><ellipse cx="392.6" cy="345.9" rx="11.9" ry="11.8" transform="rotate(30 392.6 345.9)"/><ellipse cx="426.7" cy="335.1" rx="10.7" ry="10.9" transform="rotate(164 426.7 335.1)"/><ellipse cx="436.0" cy="333.4" rx="13.1" ry="9.2" transform="rotate(43 436.0 333.4)"/><ellipse cx="462.1" cy="329.2" rx="12.5" ry="11.9" transform="rotate(180 462.1 329.2)"/><ellipse cx="497.1" cy="328.9" rx="11.2" ry="11.1" transform="rotate(150 497.1 328.9)"/><ellipse cx="356.5" cy="358.7" rx="12.1" ry="9.8" transform="rotate(113 356.5 358.7)"/><ellipse cx="375.7" cy="371.7" rx="13.6" ry="8.5" transform="rotate(52 375.7 371.7)"/><ellipse cx="412.8" cy="359.6" rx="13.8" ry="9.9" transform="rotate(125 412.8 359.6)"/><ellipse cx="435.7" cy="358.4" rx="11.1" ry="8.9" transform="rotate(123 435.7 358.4)"/><ellipse cx="461.5" cy="356.9" rx="13.6" ry="9.5" transform="rotate(43 461.5 356.9)"/><ellipse cx="482.8" cy="372.3" rx="12.2" ry="10.4" transform="rotate(166 482.8 372.3)"/><ellipse cx="518.4" cy="368.3" rx="11.6" ry="10.2" transform="rotate(162 518.4 368.3)"/><ellipse cx="346.3" cy="391.1" rx="11.3" ry="9.3" transform="rotate(132 346.3 391.1)"/><ellipse cx="368.2" cy="380.8" rx="12.8" ry="11.6" transform="rotate(144 368.2 380.8)"/><ellipse cx="400.2" cy="397.1" rx="12.1" ry="11.1" transform="rotate(68 400.2 397.1)"/><ellipse cx="411.7" cy="386.9" rx="11.2" ry="11.7" transform="rotate(124 411.7 386.9)"/><ellipse cx="445.8" cy="391.8" rx="10.4" ry="10.0" transform="rotate(126 445.8 391.8)"/><ellipse cx="469.1" cy="385.0" rx="11.6" ry="9.1" transform="rotate(123 469.1 385.0)"/><ellipse cx="490.5" cy="382.1" rx="11.2" ry="10.7" transform="rotate(137 490.5 382.1)"/><ellipse cx="356.9" cy="423.5" rx="11.4" ry="7.9" transform="rotate(88 356.9 423.5)"/><ellipse cx="379.0" cy="409.8" rx="12.7" ry="9.2" transform="rotate(43 379.0 409.8)"/><ellipse cx="402.9" cy="423.7" rx="9.9" ry="9.3" transform="rotate(50 402.9 423.7)"/><ellipse cx="426.6" cy="414.4" rx="10.8" ry="11.6" transform="rotate(90 426.6 414.4)"/><ellipse cx="461.6" cy="409.5" rx="11.8" ry="10.3" transform="rotate(152 461.6 409.5)"/><ellipse cx="479.4" cy="414.9" rx="13.4" ry="11.3" transform="rotate(41 479.4 414.9)"/><ellipse cx="510.7" cy="420.4" rx="11.5" ry="10.6" transform="rotate(119 510.7 420.4)"/><ellipse cx="349.6" cy="442.6" rx="12.7" ry="9.3" transform="rotate(132 349.6 442.6)"/><ellipse cx="363.8" cy="441.6" rx="11.4" ry="9.1" transform="rotate(24 363.8 441.6)"/><ellipse cx="388.0" cy="442.4" rx="10.9" ry="8.0" transform="rotate(145 388.0 442.4)"/><ellipse cx="415.1" cy="449.5" rx="12.4" ry="9.4" transform="rotate(157 415.1 449.5)"/><ellipse cx="452.2" cy="438.3" rx="10.4" ry="10.5" transform="rotate(152 452.2 438.3)"/><ellipse cx="473.0" cy="446.8" rx="11.6" ry="10.4" transform="rotate(47 473.0 446.8)"/><ellipse cx="495.3" cy="439.4" rx="11.5" ry="9.5" transform="rotate(145 495.3 439.4)"/></g>
<path d="M334.2,288.3L346.9,288.7M366.8,275.2L362.6,287.8M389.5,286.0L398.6,291.1M435.5,282.6L448.6,285.1M483.6,284.9L473.5,286.6M400.9,309.7L394.0,321.8M423.4,306.9L435.4,311.3M453.2,303.1L453.2,315.1M470.9,313.7L479.9,321.2M365.8,324.9L373.2,334.0M431.9,333.7L421.6,336.6M431.3,328.9L440.8,337.9M468.3,329.2L455.8,329.3M501.9,326.1L492.2,331.8M358.9,353.1L354.2,364.2M371.5,366.3L379.8,377.1M416.8,353.9L408.8,365.2M438.7,353.8L432.7,363.0M456.6,352.2L466.5,361.6M488.7,370.8L476.9,373.8M350.1,386.9L342.4,395.2M373.3,377.0L363.0,384.6M398.0,391.4L402.5,402.7M414.8,382.3L408.6,391.6M448.8,387.6L442.7,396.0M472.3,380.1L465.9,389.8M494.6,378.3L486.4,386.0M374.3,405.5L383.6,414.1M399.7,419.9L406.0,427.5M426.6,409.0L426.5,419.8M466.8,406.7L456.4,412.3M474.4,410.5L484.5,419.3M513.5,415.3L507.9,425.4M353.8,437.8L345.4,447.3M358.6,439.2L368.9,444.0M392.5,439.2L383.6,445.6M456.8,435.9L447.7,440.8M500.0,436.1L490.6,442.7" fill="none" stroke="#9a60bc" stroke-width="2.2" stroke-linecap="round" opacity="0.3" filter="url(#rough2)"/>
<path d="M334.2,288.3L346.9,288.7M366.8,275.2L362.6,287.8M389.5,286.0L398.6,291.1M435.5,282.6L448.6,285.1M483.6,284.9L473.5,286.6M400.9,309.7L394.0,321.8M423.4,306.9L435.4,311.3M453.2,303.1L453.2,315.1M470.9,313.7L479.9,321.2M365.8,324.9L373.2,334.0M431.9,333.7L421.6,336.6M431.3,328.9L440.8,337.9M468.3,329.2L455.8,329.3M501.9,326.1L492.2,331.8M358.9,353.1L354.2,364.2M371.5,366.3L379.8,377.1M416.8,353.9L408.8,365.2M438.7,353.8L432.7,363.0M456.6,352.2L466.5,361.6M488.7,370.8L476.9,373.8M350.1,386.9L342.4,395.2M373.3,377.0L363.0,384.6M398.0,391.4L402.5,402.7M414.8,382.3L408.6,391.6M448.8,387.6L442.7,396.0M472.3,380.1L465.9,389.8M494.6,378.3L486.4,386.0M374.3,405.5L383.6,414.1M399.7,419.9L406.0,427.5M426.6,409.0L426.5,419.8M466.8,406.7L456.4,412.3M474.4,410.5L484.5,419.3M513.5,415.3L507.9,425.4M353.8,437.8L345.4,447.3M358.6,439.2L368.9,444.0M392.5,439.2L383.6,445.6M456.8,435.9L447.7,440.8M500.0,436.1L490.6,442.7" fill="none" stroke="#e4dcee" stroke-width="0.9" stroke-linecap="round" opacity="0.9" filter="url(#rough2)"/>
<g fill="#8450b4" stroke="#8450b4" opacity="0.55" filter="url(#brn2)"><ellipse cx="378.8" cy="313.4" rx="26" ry="14"/><ellipse cx="360.8" cy="335.4" rx="8" ry="10"/><ellipse cx="378.8" cy="405.4" rx="30" ry="12"/><ellipse cx="453.8" cy="401.4" rx="20" ry="12"/><ellipse cx="458.8" cy="353.4" rx="14" ry="8"/></g>
<g fill="#d8d2e6" stroke="#d8d2e6" opacity="0.85" filter="url(#rough)"><path d="M421.8,297.4 422.8,318.4 418.8,337.4" fill="none" stroke-width="6" stroke-linecap="round" stroke-linejoin="round"/><ellipse cx="398.8" cy="343.4" rx="13" ry="11"/><path d="M352.8,361.4 368.8,359.4 384.8,353.4" fill="none" stroke-width="7" stroke-linecap="round" stroke-linejoin="round"/><path d="M352.8,363.4 376.8,365.4" fill="none" stroke-width="5" stroke-linecap="round" stroke-linejoin="round"/><ellipse cx="392.8" cy="379.4" rx="9" ry="6"/><path d="M428.8,321.4 443.8,318.4 460.8,323.4" fill="none" stroke-width="5" stroke-linecap="round" stroke-linejoin="round"/><path d="M433.8,375.4 448.8,379.4 470.8,375.4" fill="none" stroke-width="5" stroke-linecap="round" stroke-linejoin="round"/><ellipse cx="375.8" cy="400.4" rx="3" ry="3"/></g>
<g fill="#eeeaf4" stroke="#eeeaf4" opacity="0.95" filter="url(#rough2)"><ellipse cx="419.8" cy="300.4" rx="6" ry="3"/><path d="M423.8,310.4 423.8,329.4" fill="none" stroke-width="3" stroke-linecap="round" stroke-linejoin="round"/><ellipse cx="360.8" cy="360.4" rx="7" ry="2.5"/><ellipse cx="398.8" cy="341.4" rx="7" ry="4"/><ellipse cx="394.8" cy="381.4" rx="6" ry="3.5"/><ellipse cx="377.8" cy="400.4" rx="3" ry="2.5"/><ellipse cx="463.8" cy="376.4" rx="6" ry="2"/><ellipse cx="469.8" cy="313.4" rx="4" ry="4"/></g>
<path d="M472.5 380.7h0M404.0 345.3h0M427.4 389.8h0M457.4 309.9h0M356.9 307.2h0M359.7 300.6h0M349.9 325.3h0M363.4 381.0h0M428.5 416.9h0M473.1 388.9h0M471.7 297.0h0M378.3 411.9h0M410.3 319.8h0M446.7 347.6h0M419.1 333.8h0M380.1 304.5h0M476.5 391.3h0M469.6 339.7h0M387.4 411.5h0M426.5 379.0h0M411.2 386.9h0M455.7 390.3h0M392.8 342.2h0M460.4 420.0h0M429.6 361.9h0M395.6 322.9h0M398.7 371.7h0M365.2 362.6h0M381.4 346.9h0M362.0 387.7h0M430.6 315.5h0M419.7 369.6h0M423.5 341.8h0M388.9 338.8h0M477.9 335.7h0M413.8 352.2h0M371.2 344.5h0M375.3 334.6h0M396.3 338.2h0M470.2 331.4h0M391.8 377.5h0M400.2 359.4h0M432.6 302.8h0M435.7 306.3h0M381.2 397.0h0M476.8 379.6h0M371.0 349.5h0M385.4 401.0h0M379.0 318.5h0M431.4 374.9h0M425.1 354.6h0M472.9 352.0h0M470.1 343.5h0M409.0 339.4h0M441.3 389.5h0M379.8 360.7h0M442.8 357.5h0M434.5 372.2h0M441.2 338.8h0M388.5 296.6h0M464.0 394.4h0M399.3 417.1h0M465.6 312.8h0M457.1 347.2h0M389.5 326.5h0M402.3 300.0h0M388.6 313.7h0M364.6 399.8h0M397.9 356.1h0M426.6 412.7h0M367.7 322.6h0M460.1 409.7h0M469.4 361.0h0M396.3 317.5h0M466.6 391.3h0M420.2 394.6h0M466.1 307.3h0M457.2 400.7h0M432.1 349.2h0M351.6 356.6h0M358.9 411.1h0M416.3 365.2h0M419.9 363.0h0M458.4 341.0h0M465.3 296.5h0M451.8 360.9h0M377.3 345.5h0M416.6 392.8h0M436.4 404.6h0M432.9 339.9h0M385.9 303.9h0M364.8 298.8h0M475.0 311.4h0M426.8 310.6h0M473.8 361.5h0M371.7 399.1h0M434.3 329.5h0M422.5 383.1h0M446.1 398.8h0M446.0 329.9h0M370.7 296.0h0M361.0 356.1h0M402.5 335.0h0M417.4 419.7h0M465.9 331.6h0M461.6 333.7h0M470.0 300.8h0M434.4 383.8h0M375.3 309.0h0M454.8 380.3h0M405.4 410.0h0M472.9 406.1h0M434.2 354.8h0M375.2 321.5h0M410.8 408.0h0M449.2 383.7h0M476.2 401.6h0M436.5 368.9h0M370.6 353.7h0M406.7 313.1h0M371.6 373.2h0M391.2 419.8h0M437.3 359.5h0M374.7 416.6h0M467.0 376.5h0M432.9 311.8h0M418.9 314.8h0M390.8 368.5h0M475.3 356.8h0M384.4 363.6h0M380.8 403.3h0M369.9 328.2h0M354.2 399.8h0M365.1 319.0h0M405.1 403.7h0M372.5 301.4h0M443.8 311.4h0M387.5 320.0h0M457.5 361.9h0M360.1 315.9h0M387.0 395.0h0M368.3 303.6h0M383.2 407.1h0M382.8 385.6h0M370.7 369.5h0M444.9 405.8h0M405.2 419.4h0M467.1 421.1h0M362.5 328.4h0M382.0 391.7h0M410.5 293.9h0M359.8 294.3h0M438.9 377.1h0M406.4 381.3h0M389.2 331.5h0M443.0 299.4h0M441.1 315.6h0M365.7 373.1h0M476.8 294.2h0M362.8 347.6h0M383.3 301.0h0M366.3 412.1h0M441.7 419.1h0M360.2 320.3h0M474.0 373.0h0M445.9 338.4h0M410.7 310.9h0M404.1 317.2h0M410.1 299.9h0M440.1 415.1h0M460.1 298.6h0M476.2 301.1h0M464.4 416.7h0M449.5 367.6h0M459.2 367.4h0M419.6 345.2h0M430.1 368.4h0M470.5 392.3h0M391.5 385.5h0M379.0 355.0h0M416.9 386.4h0M358.2 312.1h0M370.9 365.0h0M462.9 348.1h0M377.7 369.8h0M402.0 349.3h0M371.9 380.7h0M413.0 380.7h0M351.6 412.1h0M362.2 414.8h0M450.9 326.2h0M441.4 365.4h0M407.3 373.6h0M407.9 377.5h0M438.7 294.1h0M374.1 407.9h0M364.8 342.5h0M429.3 297.2h0M406.6 395.5h0M356.5 414.7h0M468.4 320.0h0M449.4 403.0h0M447.6 373.5h0M418.8 305.1h0M423.1 348.8h0M456.4 356.9h0M377.5 327.4h0M471.1 335.8h0M413.7 372.2h0M454.2 304.5h0M415.4 376.2h0M350.1 416.3h0M446.4 315.8h0M425.3 373.0h0M458.5 372.0h0M397.2 365.4h0M452.4 418.4h0M362.3 351.6h0M389.5 401.7h0M400.3 409.8h0M451.5 347.0h0M447.6 380.3h0M400.0 331.9h0M445.3 391.7h0M423.9 416.1h0M383.5 354.9h0M390.7 346.7h0M464.7 385.0h0M464.5 327.3h0M382.0 309.6h0M368.0 406.2h0M455.3 318.7h0M423.4 389.4h0M450.2 341.1h0M445.0 370.0h0M441.8 346.4h0M423.3 334.9h0M408.6 332.8h0M464.5 371.8h0M393.3 359.0h0" stroke="#5050b0" stroke-width="3.5" stroke-linecap="round" opacity="0.78" filter="url(#sb)"/>
</g>
<rect x="350.0" y="294.6" width="127.0" height="125.5" fill="none" stroke="#000" stroke-width="2.4"/>
<clipPath id="c13"><rect x="485.5" y="293.2" width="129.5" height="128.1"/></clipPath>
<g clip-path="url(#c13)">
<rect x="485.5" y="293.2" width="129.5" height="128.1" fill="#9c80c0"/>
<filter color-interpolation-filters="sRGB" id="n13_0" filterUnits="userSpaceOnUse" x="485.5" y="293.2" width="129.5" height="128.1"><feTurbulence type="fractalNoise" baseFrequency="0.3" numOctaves="3" seed="91"/><feColorMatrix type="matrix" values="0.627 0 0 0 0.361 0.910 0 0 0 0.118 0.439 0 0 0 0.549 0 0 0 0 1.0"/></filter>
<rect x="485.5" y="293.2" width="129.5" height="128.1" filter="url(#n13_0)" opacity="1.0"/>
<g fill="none" stroke="#64248e" stroke-width="2.2" opacity="0.55" filter="url(#rough)"><ellipse cx="475.2" cy="289.5" rx="10.8" ry="9.6" transform="rotate(33 475.2 289.5)"/><ellipse cx="496.8" cy="281.2" rx="9.2" ry="9.2" transform="rotate(23 496.8 281.2)"/><ellipse cx="523.4" cy="282.2" rx="9.4" ry="8.1" transform="rotate(151 523.4 282.2)"/><ellipse cx="546.6" cy="279.1" rx="9.3" ry="7.1" transform="rotate(157 546.6 279.1)"/><ellipse cx="571.7" cy="291.3" rx="11.3" ry="9.2" transform="rotate(171 571.7 291.3)"/><ellipse cx="593.4" cy="282.9" rx="11.4" ry="8.3" transform="rotate(136 593.4 282.9)"/><ellipse cx="611.9" cy="285.5" rx="9.6" ry="8.1" transform="rotate(56 611.9 285.5)"/><ellipse cx="484.0" cy="313.5" rx="11.2" ry="10.1" transform="rotate(124 484.0 313.5)"/><ellipse cx="512.7" cy="312.4" rx="8.8" ry="9.0" transform="rotate(80 512.7 312.4)"/><ellipse cx="528.9" cy="304.0" rx="10.2" ry="7.5" transform="rotate(83 528.9 304.0)"/><ellipse cx="557.5" cy="307.0" rx="8.8" ry="8.3" transform="rotate(42 557.5 307.0)"/><ellipse cx="573.8" cy="303.9" rx="9.6" ry="6.9" transform="rotate(117 573.8 303.9)"/><ellipse cx="606.9" cy="306.9" rx="10.9" ry="9.9" transform="rotate(8 606.9 306.9)"/><ellipse cx="616.4" cy="313.3" rx="11.3" ry="8.8" transform="rotate(29 616.4 313.3)"/><ellipse cx="477.6" cy="336.3" rx="11.5" ry="9.4" transform="rotate(37 477.6 336.3)"/><ellipse cx="506.3" cy="328.7" rx="10.9" ry="7.1" transform="rotate(175 506.3 328.7)"/><ellipse cx="524.5" cy="334.0" rx="9.1" ry="8.8" transform="rotate(105 524.5 334.0)"/><ellipse cx="546.3" cy="328.4" rx="10.9" ry="7.8" transform="rotate(53 546.3 328.4)"/><ellipse cx="561.7" cy="333.4" rx="8.8" ry="7.4" transform="rotate(12 561.7 333.4)"/><ellipse cx="591.1" cy="331.5" rx="10.3" ry="6.7" transform="rotate(79 591.1 331.5)"/><ellipse cx="608.5" cy="324.3" rx="8.4" ry="10.1" transform="rotate(22 608.5 324.3)"/><ellipse cx="486.8" cy="349.0" rx="10.5" ry="6.9" transform="rotate(85 486.8 349.0)"/><ellipse cx="509.8" cy="357.8" rx="8.4" ry="7.8" transform="rotate(89 509.8 357.8)"/><ellipse cx="541.1" cy="352.9" rx="10.0" ry="9.0" transform="rotate(53 541.1 352.9)"/><ellipse cx="548.7" cy="352.6" rx="11.6" ry="9.2" transform="rotate(46 548.7 352.6)"/><ellipse cx="580.7" cy="358.0" rx="9.3" ry="8.7" transform="rotate(64 580.7 358.0)"/><ellipse cx="596.0" cy="349.3" rx="9.1" ry="7.8" transform="rotate(7 596.0 349.3)"/><ellipse cx="620.3" cy="346.2" rx="11.0" ry="8.7" transform="rotate(1 620.3 346.2)"/><ellipse cx="483.1" cy="369.8" rx="10.1" ry="8.6" transform="rotate(60 483.1 369.8)"/><ellipse cx="497.7" cy="373.6" rx="8.8" ry="9.6" transform="rotate(20 497.7 373.6)"/><ellipse cx="527.9" cy="370.3" rx="9.4" ry="8.0" transform="rotate(6 527.9 370.3)"/><ellipse cx="539.2" cy="372.5" rx="9.9" ry="9.7" transform="rotate(178 539.2 372.5)"/><ellipse cx="559.9" cy="375.1" rx="8.8" ry="9.4" transform="rotate(58 559.9 375.1)"/><ellipse cx="595.0" cy="375.3" rx="8.8" ry="6.6" transform="rotate(45 595.0 375.3)"/><ellipse cx="616.6" cy="369.2" rx="10.0" ry="7.9" transform="rotate(62 616.6 369.2)"/><ellipse cx="494.5" cy="392.2" rx="10.9" ry="8.9" transform="rotate(168 494.5 392.2)"/><ellipse cx="512.2" cy="403.1" rx="9.9" ry="8.6" transform="rotate(112 512.2 403.1)"/><ellipse cx="539.1" cy="402.7" rx="8.8" ry="7.1" transform="rotate(96 539.1 402.7)"/><ellipse cx="560.7" cy="397.1" rx="9.4" ry="10.0" transform="rotate(54 560.7 397.1)"/><ellipse cx="571.5" cy="389.7" rx="8.5" ry="9.2" transform="rotate(19 571.5 389.7)"/><ellipse cx="603.2" cy="402.2" rx="11.9" ry="9.4" transform="rotate(76 603.2 402.2)"/><ellipse cx="623.8" cy="401.7" rx="10.9" ry="7.6" transform="rotate(137 623.8 401.7)"/><ellipse cx="472.9" cy="415.7" rx="11.9" ry="8.3" transform="rotate(48 472.9 415.7)"/><ellipse cx="505.3" cy="417.8" rx="8.4" ry="6.7" transform="rotate(47 505.3 417.8)"/><ellipse cx="520.3" cy="425.3" rx="9.2" ry="9.6" transform="rotate(154 520.3 425.3)"/><ellipse cx="543.6" cy="426.2" rx="11.0" ry="8.3" transform="rotate(47 543.6 426.2)"/><ellipse cx="566.3" cy="424.8" rx="10.2" ry="7.3" transform="rotate(68 566.3 424.8)"/><ellipse cx="588.5" cy="413.8" rx="10.4" ry="6.7" transform="rotate(148 588.5 413.8)"/><ellipse cx="606.0" cy="412.5" rx="10.4" ry="7.7" transform="rotate(159 606.0 412.5)"/></g>
<path d="M470.7,286.5L479.7,292.4M492.6,279.3L500.9,283.0M550.9,277.3L542.3,281.0M577.2,290.4L566.1,292.2M597.5,278.9L589.3,286.8M609.2,281.5L614.6,289.5M512.0,308.1L513.5,316.8M554.3,304.0L560.8,310.0M601.5,306.2L612.3,307.6M611.4,310.6L621.3,316.0M473.0,332.9L482.2,339.7M525.6,329.6L523.3,338.4M543.0,324.1L549.6,332.8M557.5,332.5L566.0,334.4M590.1,326.4L592.1,336.5M604.6,322.8L612.4,325.9M486.3,343.8L487.3,354.2M509.8,353.6L509.9,361.9M544.7,348.4L552.7,356.8M578.7,353.8L582.8,362.1M591.5,348.8L600.5,349.9M614.8,346.2L625.8,346.3M480.6,365.5L485.6,374.2M523.2,369.8L532.6,370.8M544.1,372.3L534.2,372.6M514.0,398.5L510.4,407.7M539.6,398.4L538.7,407.1M557.9,393.3L563.5,400.9M567.5,388.3L575.5,391.1M601.8,396.5L604.6,408.0M627.8,398.0L619.8,405.4M468.9,411.2L476.8,420.1M502.4,414.8L508.2,420.9M524.4,423.3L516.2,427.4M539.8,422.2L547.4,430.2M564.3,420.1L568.3,429.5M592.9,411.1L584.1,416.6" fill="none" stroke="#9038ac" stroke-width="3.0" stroke-linecap="round" opacity="0.55" filter="url(#rough2)"/>
<path d="M470.7,286.5L479.7,292.4M492.6,279.3L500.9,283.0M550.9,277.3L542.3,281.0M577.2,290.4L566.1,292.2M597.5,278.9L589.3,286.8M609.2,281.5L614.6,289.5M512.0,308.1L513.5,316.8M554.3,304.0L560.8,310.0M601.5,306.2L612.3,307.6M611.4,310.6L621.3,316.0M473.0,332.9L482.2,339.7M525.6,329.6L523.3,338.4M543.0,324.1L549.6,332.8M557.5,332.5L566.0,334.4M590.1,326.4L592.1,336.5M604.6,322.8L612.4,325.9M486.3,343.8L487.3,354.2M509.8,353.6L509.9,361.9M544.7,348.4L552.7,356.8M578.7,353.8L582.8,362.1M591.5,348.8L600.5,349.9M614.8,346.2L625.8,346.3M480.6,365.5L485.6,374.2M523.2,369.8L532.6,370.8M544.1,372.3L534.2,372.6M514.0,398.5L510.4,407.7M539.6,398.4L538.7,407.1M557.9,393.3L563.5,400.9M567.5,388.3L575.5,391.1M601.8,396.5L604.6,408.0M627.8,398.0L619.8,405.4M468.9,411.2L476.8,420.1M502.4,414.8L508.2,420.9M524.4,423.3L516.2,427.4M539.8,422.2L547.4,430.2M564.3,420.1L568.3,429.5M592.9,411.1L584.1,416.6" fill="none" stroke="#e4dcee" stroke-width="1.1" stroke-linecap="round" opacity="0.9" filter="url(#rough2)"/>
<g fill="#e2dcea" stroke="#e2dcea" opacity="0.95" filter="url(#rough2)"><ellipse cx="509.5" cy="326.2" rx="6" ry="10"/><path d="M518.5,305.2 540.5,315.2 561.5,326.2" fill="none" stroke-width="7" stroke-linecap="round" stroke-linejoin="round"/><ellipse cx="575.5" cy="308.2" rx="8" ry="4"/><ellipse cx="597.5" cy="302.2" rx="4" ry="5"/><ellipse cx="574.5" cy="375.2" rx="9" ry="9"/><path d="M567.5,342.2 580.5,340.2 590.5,344.2" fill="none" stroke-width="5" stroke-linecap="round" stroke-linejoin="round"/><ellipse cx="552.5" cy="356.2" rx="6" ry="3"/><ellipse cx="534.5" cy="387.2" rx="5" ry="4"/><ellipse cx="504.5" cy="365.2" rx="4" ry="5"/><ellipse cx="607.5" cy="381.2" rx="3" ry="4"/><ellipse cx="552.5" cy="401.2" rx="4" ry="6"/><ellipse cx="492.5" cy="300.2" rx="3" ry="3"/><ellipse cx="605.5" cy="354.2" rx="5" ry="4"/></g>
<g fill="#6a2a9a" stroke="#6a2a9a" opacity="0.6" filter="url(#rough)"><path d="M563.5,337.2 580.5,335.2 593.5,341.2 585.5,349.2 570.5,349.2 563.5,337.2" fill="none" stroke-width="2" stroke-linecap="round" stroke-linejoin="round"/><path d="M543.5,351.2 557.5,351.2 559.5,361.2 545.5,361.2 543.5,351.2" fill="none" stroke-width="2" stroke-linecap="round" stroke-linejoin="round"/></g>
<path d="M599.0 342.0h0M591.0 357.2h0M559.6 346.2h0M606.3 350.1h0M608.8 336.5h0M572.6 410.1h0M574.0 341.3h0M495.6 354.5h0M539.2 397.5h0M587.1 419.5h0M543.5 345.8h0M558.6 389.2h0M495.9 320.8h0M504.4 334.8h0M524.3 417.2h0M512.4 412.8h0M523.7 319.3h0M611.7 304.6h0M500.1 309.7h0M494.2 342.7h0M513.0 313.6h0M487.5 382.6h0M558.7 406.4h0M570.9 384.0h0M576.2 395.3h0M596.0 313.1h0M492.5 372.7h0M552.7 359.9h0M586.8 315.5h0M576.9 347.8h0M540.1 324.5h0M522.0 367.4h0M521.8 384.9h0M498.1 376.7h0M506.3 403.1h0M610.5 325.8h0M590.2 321.3h0M525.0 306.4h0M542.7 306.6h0M576.7 366.9h0M539.9 384.1h0M515.7 335.7h0M532.6 293.5h0M600.4 304.5h0M498.6 395.4h0M591.5 350.5h0M540.1 311.0h0M485.7 359.9h0M602.8 295.7h0M532.4 389.5h0M582.2 306.9h0M581.6 365.4h0M567.1 414.0h0M588.9 370.0h0M585.2 356.2h0M556.9 397.9h0M565.7 341.4h0M488.1 394.4h0M529.6 348.2h0M562.4 364.7h0M586.9 349.6h0M579.1 388.5h0M600.9 364.7h0M557.4 317.3h0M516.7 348.9h0M550.1 408.4h0M491.0 338.0h0M581.3 352.0h0M559.0 300.5h0M540.3 298.2h0M579.3 371.6h0M537.6 405.2h0M502.6 416.1h0M496.6 417.3h0M561.5 350.6h0M606.7 358.8h0M551.3 300.9h0M588.8 375.1h0M516.5 307.8h0M539.9 413.0h0M598.2 352.8h0M490.1 399.4h0M511.7 386.8h0M550.2 416.6h0M504.6 394.9h0M578.8 295.4h0M558.7 331.0h0M575.5 416.3h0M571.8 356.5h0M563.7 325.0h0M578.8 301.6h0M578.7 407.0h0M573.2 420.7h0M504.0 373.8h0M567.9 315.7h0M503.6 324.0h0M553.3 394.0h0M495.5 385.7h0M551.9 314.9h0M525.5 351.0h0M545.6 321.1h0M521.2 362.1h0M575.1 327.9h0M532.7 372.5h0M508.3 366.1h0M530.2 406.9h0M584.4 403.1h0M598.7 369.5h0M608.6 313.1h0M561.0 381.2h0M522.4 397.2h0M539.6 318.5h0M535.3 299.2h0M546.7 380.7h0M564.8 320.1h0M573.0 294.6h0M608.0 295.9h0M588.8 388.3h0M603.6 310.3h0M505.4 389.4h0M585.2 379.4h0M517.7 404.2h0M552.2 319.6h0M593.1 401.0h0M567.2 294.7h0M581.1 317.6h0M608.2 417.5h0M493.8 347.5h0M569.6 403.9h0M501.4 407.7h0M528.7 314.8h0M552.2 309.1h0M537.1 340.2h0M531.2 399.5h0M565.4 373.3h0M531.6 367.5h0M539.2 359.4h0M605.6 397.3h0M542.3 340.2h0M510.2 329.7h0M594.0 416.8h0M534.0 330.0h0M519.5 316.6h0M519.0 330.7h0M497.0 366.7h0M516.4 302.2h0M591.1 295.3h0M528.4 362.6h0M540.3 371.5h0M543.3 330.8h0M518.6 409.0h0M547.6 370.4h0M546.2 403.2h0M593.9 370.4h0M539.2 333.8h0M596.4 390.5h0M608.2 342.9h0M569.6 299.6h0M547.6 358.1h0M603.3 416.3h0" stroke="#6462b8" stroke-width="3.0" stroke-linecap="round" opacity="0.65" filter="url(#sb)"/>
<g fill="#111" stroke="#111" opacity="0.9"><ellipse cx="556.2" cy="321.9" rx="2" ry="2"/><ellipse cx="509.4" cy="342.0" rx="2" ry="2"/><ellipse cx="540.9" cy="322.8" rx="1.2" ry="1.2"/><ellipse cx="511.3" cy="301.8" rx="1.2" ry="1.2"/><ellipse cx="559.1" cy="331.4" rx="1" ry="1"/></g>
</g>
<rect x="486.7" y="294.4" width="127.1" height="125.7" fill="none" stroke="#000" stroke-width="2.4"/>
<clipPath id="c20"><rect x="74.6" y="430.1" width="128.4" height="128.4"/></clipPath>
<g clip-path="url(#c20)">
<rect x="74.6" y="430.1" width="128.4" height="128.4" fill="#efe6ea"/>
<filter color-interpolation-filters="sRGB" id="n20_0" filterUnits="userSpaceOnUse" x="74.6" y="430.1" width="128.4" height="128.4"><feTurbulence type="fractalNoise" baseFrequency="0.15" numOctaves="2" seed="140"/><feColorMatrix type="matrix" values="0.157 0 0 0 0.863 0.204 0 0 0 0.812 0.173 0 0 0 0.843 0 0 0 0 1.0"/></filter>
<rect x="74.6" y="430.1" width="128.4" height="128.4" filter="url(#n20_0)" opacity="0.8"/>
<filter color-interpolation-filters="sRGB" id="w20_0" filterUnits="userSpaceOnUse" x="74.6" y="430.1" width="128.4" height="128.4"><feTurbulence type="fractalNoise" baseFrequency="0.1" numOctaves="3" seed="61"/><feColorMatrix type="matrix" values="0 0 0 0 0.784 0 0 0 0 0.604 0 0 0 0 0.439 4 0 0 0 -2.0"/></filter>
<rect x="74.6" y="430.1" width="128.4" height="128.4" filter="url(#w20_0)" opacity="0.35"/>
<g fill="#c89c7a" stroke="#c89c7a" opacity="0.8" filter="url(#brn2)"><ellipse cx="121.6" cy="446.1" rx="12.2" ry="10.2"/><ellipse cx="86.6" cy="472.1" rx="8.2" ry="8.2"/><ellipse cx="90.6" cy="449.1" rx="7.2" ry="8.2"/><ellipse cx="102.6" cy="461.1" rx="7.2" ry="8.2"/><ellipse cx="114.6" cy="468.1" rx="8.2" ry="8.2"/><path d="M121.6,473.1 127.6,468.1 133.6,473.1 127.6,478.1 121.6,473.1" fill="none" stroke-width="8.9" stroke-linecap="round" stroke-linejoin="round"/><ellipse cx="140.6" cy="467.1" rx="7.2" ry="11.2"/><ellipse cx="155.6" cy="467.1" rx="7.2" ry="9.2"/><path d="M164.6,445.1 179.6,442.1 196.6,448.1" fill="none" stroke-width="15.4" stroke-linecap="round" stroke-linejoin="round"/><ellipse cx="182.6" cy="493.1" rx="19.2" ry="10.2"/><path d="M132.6,480.1 129.6,492.1 126.6,506.1" fill="none" stroke-width="13.4" stroke-linecap="round" stroke-linejoin="round"/><path d="M111.6,500.1 114.6,512.1 118.6,524.1" fill="none" stroke-width="12.4" stroke-linecap="round" stroke-linejoin="round"/><ellipse cx="97.6" cy="515.1" rx="10.2" ry="10.2"/><path d="M80.6,505.1 81.6,535.1" fill="none" stroke-width="11.4" stroke-linecap="round" stroke-linejoin="round"/><ellipse cx="134.6" cy="518.1" rx="9.2" ry="7.2"/><ellipse cx="184.6" cy="513.1" rx="9.2" ry="11.2"/><path d="M166.6,522.1 154.6,532.1 146.6,542.1 140.6,548.1" fill="none" stroke-width="16.4" stroke-linecap="round" stroke-linejoin="round"/><path d="M136.6,530.1 140.6,550.1" fill="none" stroke-width="12.4" stroke-linecap="round" stroke-linejoin="round"/><ellipse cx="93.6" cy="546.1" rx="8.2" ry="8.2"/><ellipse cx="159.6" cy="550.1" rx="11.2" ry="7.2"/><ellipse cx="195.6" cy="546.1" rx="9.2" ry="9.2"/><ellipse cx="128.6" cy="545.1" rx="7.2" ry="5.7"/></g>
<g fill="#a05c30" stroke="#a05c30" opacity="0.95" filter="url(#brn)"><ellipse cx="121.6" cy="446.1" rx="9.0" ry="7.0"/><ellipse cx="86.6" cy="472.1" rx="5.0" ry="5.0"/><ellipse cx="90.6" cy="449.1" rx="4.0" ry="5.0"/><ellipse cx="102.6" cy="461.1" rx="4.0" ry="5.0"/><ellipse cx="114.6" cy="468.1" rx="5.0" ry="5.0"/><path d="M121.6,473.1 127.6,468.1 133.6,473.1 127.6,478.1 121.6,473.1" fill="none" stroke-width="2.5" stroke-linecap="round" stroke-linejoin="round"/><ellipse cx="140.6" cy="467.1" rx="4.0" ry="8.0"/><ellipse cx="155.6" cy="467.1" rx="4.0" ry="6.0"/><path d="M164.6,445.1 179.6,442.1 196.6,448.1" fill="none" stroke-width="9.0" stroke-linecap="round" stroke-linejoin="round"/><ellipse cx="182.6" cy="493.1" rx="16.0" ry="7.0"/><path d="M132.6,480.1 129.6,492.1 126.6,506.1" fill="none" stroke-width="7.0" stroke-linecap="round" stroke-linejoin="round"/><path d="M111.6,500.1 114.6,512.1 118.6,524.1" fill="none" stroke-width="6.0" stroke-linecap="round" stroke-linejoin="round"/><ellipse cx="97.6" cy="515.1" rx="7.0" ry="7.0"/><path d="M80.6,505.1 81.6,535.1" fill="none" stroke-width="5.0" stroke-linecap="round" stroke-linejoin="round"/><ellipse cx="134.6" cy="518.1" rx="6.0" ry="4.0"/><ellipse cx="184.6" cy="513.1" rx="6.0" ry="8.0"/><path d="M166.6,522.1 154.6,532.1 146.6,542.1 140.6,548.1" fill="none" stroke-width="10.0" stroke-linecap="round" stroke-linejoin="round"/><path d="M136.6,530.1 140.6,550.1" fill="none" stroke-width="6.0" stroke-linecap="round" stroke-linejoin="round"/><ellipse cx="93.6" cy="546.1" rx="5.0" ry="5.0"/><ellipse cx="159.6" cy="550.1" rx="8.0" ry="4.0"/><ellipse cx="195.6" cy="546.1" rx="6.0" ry="6.0"/><ellipse cx="128.6" cy="545.1" rx="4.0" ry="2.5"/></g>
<path d="M190.9 518.2h0M173.0 546.3h0M108.0 511.7h0M190.8 542.1h0M148.2 451.8h0M127.4 557.7h0M196.6 487.8h0M101.4 470.8h0M191.3 473.2h0M129.5 510.7h0M178.0 493.3h0M85.1 503.7h0M79.1 442.2h0M111.0 518.7h0M95.6 445.2h0M77.6 520.7h0M184.9 458.3h0M105.1 431.8h0M151.6 487.5h0M146.0 485.7h0M202.5 504.6h0M152.6 496.8h0M130.6 557.6h0M182.4 444.8h0M188.1 430.4h0M168.3 552.4h0M142.7 528.1h0M81.6 515.8h0M89.7 488.6h0M117.4 439.5h0M107.6 441.1h0M80.3 433.6h0M102.8 495.2h0M76.2 433.2h0M160.2 497.8h0M92.0 470.2h0M90.8 465.4h0M124.4 458.1h0M132.2 430.5h0M126.6 538.9h0M191.3 468.2h0M121.4 468.4h0M110.1 542.9h0M122.5 554.6h0M134.0 442.9h0M148.8 457.2h0M144.8 554.2h0M166.4 453.1h0M112.4 538.7h0M87.4 556.1h0M154.0 482.2h0M151.8 504.9h0M187.7 478.4h0M184.8 481.1h0M107.3 532.9h0M193.6 441.9h0M186.5 471.1h0M174.0 467.7h0M201.7 473.3h0M101.1 436.8h0M91.9 441.8h0M179.9 432.7h0M89.7 460.9h0M92.8 529.7h0M75.5 517.6h0M106.3 480.3h0M124.4 498.9h0M164.8 467.4h0M152.8 521.9h0M112.7 528.2h0M85.3 493.4h0M159.2 539.5h0M136.8 475.5h0M190.8 557.3h0M155.3 502.2h0M156.7 520.4h0M171.2 526.0h0M135.1 453.1h0M187.5 502.9h0M96.5 465.4h0M202.6 515.0h0M85.5 464.0h0M84.3 435.2h0M80.3 490.8h0M166.1 495.4h0M160.7 514.1h0M91.9 520.6h0M139.1 483.9h0M136.7 449.8h0M99.0 481.6h0M173.3 511.8h0M168.0 541.7h0M101.2 467.2h0M121.3 461.5h0M178.9 453.7h0M94.0 473.1h0M91.1 438.6h0M79.3 541.1h0M86.1 454.8h0M131.7 550.1h0M181.4 536.1h0M86.9 520.5h0M147.0 510.8h0M94.9 553.8h0M198.9 445.2h0M145.3 498.9h0M105.1 523.9h0M140.1 488.0h0M189.9 528.7h0M108.4 469.6h0M143.1 511.5h0M190.2 549.3h0M82.7 541.3h0M76.4 504.3h0M173.7 453.0h0M104.0 439.3h0M131.3 537.2h0M74.7 527.1h0M124.6 550.3h0M146.6 489.4h0M159.5 535.2h0M112.6 443.6h0M89.9 434.5h0M119.8 515.2h0M156.2 478.7h0M110.1 473.9h0M174.8 499.9h0M91.5 543.6h0M184.6 431.5h0M135.6 536.2h0M101.6 556.4h0M200.4 528.0h0M198.4 469.1h0M134.5 542.0h0M196.3 554.9h0M121.5 526.3h0M111.2 490.5h0M132.9 470.0h0M179.5 544.4h0M129.8 520.8h0M77.8 480.7h0M199.2 549.1h0M142.1 534.9h0M161.4 430.8h0M89.6 502.5h0M83.6 497.2h0M182.5 462.3h0M185.7 547.2h0M97.9 450.4h0M141.7 457.9h0M154.4 557.4h0M195.5 461.6h0M105.2 435.3h0M181.4 523.4h0M151.1 548.1h0M114.9 493.3h0M192.6 508.0h0M120.8 455.5h0M142.7 437.6h0M175.5 460.2h0M97.7 434.5h0M139.3 511.0h0M88.4 443.8h0M133.4 496.4h0M103.7 546.4h0M130.5 462.1h0M177.4 530.2h0M114.4 474.9h0M129.4 438.4h0M190.3 456.3h0M134.7 513.9h0M77.8 448.6h0M102.6 504.8h0M140.3 492.1h0M133.9 459.0h0M159.8 555.9h0M194.1 479.9h0M78.4 474.2h0M200.0 553.6h0M158.4 509.3h0M76.0 460.5h0M85.9 480.9h0M199.4 518.4h0M89.8 550.9h0M80.3 459.5h0M107.0 537.1h0M146.8 537.7h0M169.1 503.0h0M163.2 524.7h0M114.9 543.0h0M187.9 539.2h0M192.7 430.8h0M175.5 541.0h0M159.5 530.7h0M87.7 439.6h0M155.7 488.3h0M76.4 514.3h0M101.3 535.4h0M92.0 496.8h0M92.1 492.3h0M162.4 543.3h0M140.8 498.5h0M144.5 502.5h0M83.4 440.8h0M79.7 555.1h0M146.0 462.9h0M99.4 547.3h0M131.2 453.2h0M153.5 511.5h0M170.3 451.1h0M148.6 555.4h0M186.5 534.6h0M157.0 461.0h0M138.6 555.4h0M85.9 507.6h0M88.4 540.2h0M145.8 526.7h0M184.6 477.2h0M122.1 535.4h0M109.9 457.5h0M117.3 430.7h0M110.9 447.3h0M181.3 501.0h0M170.8 468.4h0M191.7 487.3h0M178.3 468.5h0M117.3 547.5h0M79.0 536.8h0M107.0 516.9h0M167.0 531.4h0M81.9 547.7h0M111.2 496.2h0M198.1 430.9h0M181.9 555.6h0M154.5 445.3h0M109.5 549.4h0M193.2 520.8h0M114.2 440.3h0M146.9 505.0h0M104.2 447.1h0M165.8 527.1h0M160.5 478.3h0M120.6 490.8h0M77.8 487.1h0M136.7 505.0h0M178.4 526.4h0M178.1 505.3h0M76.2 491.4h0M202.6 432.9h0M91.7 507.9h0M159.6 501.3h0M128.8 516.4h0M177.5 485.2h0M109.7 478.3h0M167.8 558.4h0M173.0 507.5h0M149.4 431.0h0M93.7 433.5h0M125.2 440.2h0M184.0 473.2h0M118.9 480.1h0M195.8 438.7h0M129.2 465.2h0M153.6 541.9h0M110.7 438.0h0M173.8 534.2h0M96.5 522.9h0M76.6 444.9h0M182.3 450.4h0M108.0 486.5h0M88.5 496.3h0M120.9 496.8h0M134.4 557.5h0M193.1 533.9h0M96.2 440.9h0M194.9 530.4h0M107.7 448.4h0M184.0 551.2h0M153.7 492.2h0M163.9 480.3h0M149.7 552.1h0M168.5 512.6h0M94.8 481.3h0M162.0 459.0h0M130.5 435.4h0M169.8 473.9h0M174.0 515.3h0M150.5 463.2h0M116.8 551.4h0M167.6 434.7h0M89.4 478.4h0M135.3 509.5h0M157.8 449.0h0M161.0 466.9h0M142.0 520.7h0M165.1 535.8h0M152.2 472.8h0M165.9 431.3h0M106.4 558.0h0M130.7 542.2h0M99.3 503.4h0M109.7 507.0h0M122.1 531.9h0M195.0 524.8h0M193.9 503.5h0M119.0 510.6h0M164.8 487.6h0M145.3 472.2h0M141.4 517.1h0M154.3 436.3h0M120.2 476.9h0M145.3 468.9h0M132.2 532.8h0M172.3 530.3h0M144.9 540.8h0M100.7 526.8h0M76.4 467.8h0M77.9 508.2h0M78.2 437.5h0M149.3 491.3h0M103.2 484.9h0M79.3 500.6h0M99.2 491.6h0M75.2 547.1h0M194.1 537.0h0M110.7 462.1h0M122.8 472.2h0M103.9 519.1h0M168.8 508.6h0M150.5 445.9h0M169.5 547.6h0M166.7 471.0h0M89.9 533.6h0M170.2 517.7h0M136.3 495.0h0M77.5 471.0h0M100.3 530.9h0M200.6 453.3h0M169.4 483.3h0M133.4 553.5h0M77.2 531.7h0M74.6 509.3h0M148.2 520.5h0M186.2 449.7h0M137.7 522.0h0M137.8 459.2h0M88.6 516.9h0M171.2 486.0h0M76.8 454.0h0M174.9 520.8h0M143.7 475.0h0M166.6 555.1h0M149.3 466.8h0M154.5 553.3h0M94.0 484.5h0M201.8 522.0h0M144.5 480.8h0M183.9 530.8h0M111.4 482.5h0M155.6 454.8h0M110.9 531.4h0M199.8 483.9h0M128.4 455.4h0M175.1 482.3h0M95.9 537.5h0M122.2 508.8h0M156.6 485.1h0M198.2 538.4h0M175.9 432.0h0M105.3 472.5h0M153.5 450.6h0M93.1 449.0h0M116.0 434.6h0M194.9 435.5h0M75.5 536.9h0M202.1 465.9h0M170.0 493.9h0M119.1 530.3h0M85.1 458.2h0M162.3 435.9h0M115.8 489.0h0M82.1 464.1h0M157.0 433.6h0M177.0 517.0h0M164.2 475.0h0M89.1 482.8h0M160.8 493.8h0M121.7 436.4h0M161.9 505.1h0M176.8 548.8h0M194.4 452.3h0M149.8 513.8h0M179.2 474.6h0M103.4 532.1h0M177.0 554.1h0M199.2 479.9h0M106.8 492.3h0M123.1 478.9h0M106.3 452.1h0M87.6 431.3h0M157.1 474.6h0M202.3 545.5h0M155.5 498.7h0M165.1 500.1h0M149.1 436.6h0M172.8 556.0h0M189.5 483.9h0M183.2 526.8h0M201.7 489.5h0M197.7 497.3h0M76.5 556.8h0M151.0 479.6h0M81.6 445.2h0M164.9 513.8h0M84.1 474.8h0M102.8 491.6h0M95.5 498.1h0M157.8 504.2h0M109.2 430.7h0M141.4 432.2h0M178.9 513.5h0M117.1 557.8h0M195.0 517.0h0M200.2 459.3h0M86.9 527.3h0M189.4 524.3h0M158.7 552.1h0M122.9 519.9h0M117.4 497.8h0M138.7 438.5h0M153.6 460.3h0M198.0 504.4h0M186.7 467.3h0M93.5 524.2h0M119.2 471.6h0M182.9 434.3h0M182.1 548.5h0M104.8 539.8h0M154.3 515.4h0M150.9 500.3h0M130.6 526.7h0M201.2 531.4h0M136.3 480.3h0M159.3 527.0h0M92.5 556.0h0M201.8 499.4h0M136.9 500.1h0M83.1 486.7h0M83.7 449.9h0M76.3 524.2h0M107.5 460.6h0M127.1 485.4h0M132.6 507.5h0M133.5 476.4h0M109.6 553.1h0M101.2 454.3h0M126.9 534.2h0M175.2 558.5h0M120.5 557.9h0M191.9 437.9h0M182.8 487.7h0M190.9 511.0h0M86.8 511.2h0M125.5 530.3h0M127.1 503.1h0M121.8 543.8h0M159.0 437.3h0M139.7 478.2h0M167.5 462.4h0M83.7 537.1h0M125.0 464.8h0M172.0 542.9h0M94.1 533.6h0M174.7 478.5h0M196.9 474.7h0M99.2 553.3h0M144.0 446.1h0M81.6 505.0h0M197.9 535.0h0M149.1 516.9h0M83.6 510.2h0M145.5 514.6h0M201.6 541.7h0M102.0 478.5h0M95.4 505.9h0M101.6 443.1h0M104.0 552.3h0M158.2 442.2h0M137.2 471.8h0M115.8 481.8h0M161.6 519.5h0M146.0 443.6h0M134.5 489.1h0M134.9 439.7h0M169.6 454.6h0M112.8 452.2h0M121.2 500.9h0M164.7 557.8h0M142.6 450.3h0M198.2 513.7h0M144.2 492.0h0M144.8 453.0h0M126.0 513.9h0M84.0 522.7h0M95.3 478.2h0M91.6 454.7h0M102.1 521.9h0M140.6 445.3h0M118.7 486.8h0M192.4 460.3h0M116.9 456.4h0M124.9 431.4h0M172.0 432.1h0M195.2 471.0h0M152.5 441.2h0M148.7 472.7h0M83.6 554.9h0M99.5 476.2h0M163.7 539.0h0M102.7 450.0h0M189.9 465.0h0M203.0 440.2h0M132.6 501.3h0M115.1 504.9h0M82.2 551.1h0M202.7 507.9h0M134.9 549.3h0M162.7 450.8h0M168.0 487.2h0M96.1 531.0h0M75.9 441.3h0M113.7 465.8h0M193.8 466.0h0M76.1 483.5h0M187.1 543.1h0M83.7 500.8h0" stroke="#8c8ed6" stroke-width="2.8" stroke-linecap="round" opacity="0.8" filter="url(#sb)"/>
</g>
<rect x="75.8" y="431.3" width="126.0" height="126.0" fill="none" stroke="#000" stroke-width="2.4"/>
<clipPath id="c21"><rect x="213.6" y="430.5" width="128.3" height="128.5"/></clipPath>
<g clip-path="url(#c21)">
<rect x="213.6" y="430.5" width="128.3" height="128.5" fill="#f2ebee"/>
<filter color-interpolation-filters="sRGB" id="n21_0" filterUnits="userSpaceOnUse" x="213.6" y="430.5" width="128.3" height="128.5"><feTurbulence type="fractalNoise" baseFrequency="0.15" numOctaves="2" seed="147"/><feColorMatrix type="matrix" values="0.157 0 0 0 0.863 0.204 0 0 0 0.812 0.173 0 0 0 0.843 0 0 0 0 1.0"/></filter>
<rect x="213.6" y="430.5" width="128.3" height="128.5" filter="url(#n21_0)" opacity="0.8"/>
<filter color-interpolation-filters="sRGB" id="w21_0" filterUnits="userSpaceOnUse" x="213.6" y="430.5" width="128.3" height="128.5"><feTurbulence type="fractalNoise" baseFrequency="0.1" numOctaves="3" seed="64"/><feColorMatrix type="matrix" values="0 0 0 0 0.784 0 0 0 0 0.604 0 0 0 0 0.439 4 0 0 0 -2.0"/></filter>
<rect x="213.6" y="430.5" width="128.3" height="128.5" filter="url(#w21_0)" opacity="0.22"/>
<g fill="#c89c7a" stroke="#c89c7a" opacity="0.75" filter="url(#brn2)"><ellipse cx="226.6" cy="444.5" rx="7.0" ry="6.2"/><ellipse cx="240.6" cy="443.5" rx="6.2" ry="5.8"/><path d="M263.6,436.5 264.6,445.5" fill="none" stroke-width="10.0" stroke-linecap="round" stroke-linejoin="round"/><ellipse cx="286.6" cy="444.5" rx="7.8" ry="6.2"/><path d="M260.6,451.5 261.6,466.5" fill="none" stroke-width="10.8" stroke-linecap="round" stroke-linejoin="round"/><path d="M272.6,458.5 273.6,476.5" fill="none" stroke-width="11.6" stroke-linecap="round" stroke-linejoin="round"/><path d="M295.6,457.5 308.6,467.5 321.6,476.5" fill="none" stroke-width="13.2" stroke-linecap="round" stroke-linejoin="round"/><path d="M330.6,440.5 333.6,460.5 335.6,485.5" fill="none" stroke-width="11.6" stroke-linecap="round" stroke-linejoin="round"/><path d="M218.6,475.5 225.6,485.5 231.6,492.5" fill="none" stroke-width="12.4" stroke-linecap="round" stroke-linejoin="round"/><path d="M256.6,477.5 260.6,473.5 264.6,477.5 260.6,481.5 256.6,477.5" fill="none" stroke-width="7.6" stroke-linecap="round" stroke-linejoin="round"/><ellipse cx="271.6" cy="490.5" rx="6.2" ry="6.2"/><path d="M256.6,490.5 261.6,502.5 264.6,514.5" fill="none" stroke-width="11.6" stroke-linecap="round" stroke-linejoin="round"/><ellipse cx="273.6" cy="509.5" rx="5.4" ry="7.0"/><path d="M285.6,505.5 281.6,520.5 278.6,535.5" fill="none" stroke-width="10.8" stroke-linecap="round" stroke-linejoin="round"/><path d="M308.6,487.5 283.6,553.5" fill="none" stroke-width="8.4" stroke-linecap="round" stroke-linejoin="round"/><ellipse cx="301.6" cy="489.5" rx="8.6" ry="5.8"/><ellipse cx="293.6" cy="498.5" rx="6.2" ry="5.4"/><ellipse cx="306.6" cy="523.5" rx="7.0" ry="8.6"/><ellipse cx="320.6" cy="527.5" rx="6.2" ry="6.2"/><path d="M329.6,493.5 329.6,510.5" fill="none" stroke-width="10.0" stroke-linecap="round" stroke-linejoin="round"/><ellipse cx="226.6" cy="525.5" rx="7.0" ry="6.2"/><ellipse cx="224.6" cy="540.5" rx="5.4" ry="5.4"/><ellipse cx="236.6" cy="549.5" rx="6.2" ry="7.0"/><ellipse cx="254.6" cy="529.5" rx="6.2" ry="8.6"/><ellipse cx="311.6" cy="542.5" rx="5.4" ry="7.0"/><ellipse cx="326.6" cy="541.5" rx="7.8" ry="6.2"/><ellipse cx="223.6" cy="510.5" rx="6.2" ry="5.4"/><ellipse cx="336.6" cy="552.5" rx="5.4" ry="5.4"/></g>
<g fill="#a05c30" stroke="#a05c30" opacity="0.9" filter="url(#brn)"><ellipse cx="226.6" cy="444.5" rx="4.0" ry="3.2"/><ellipse cx="240.6" cy="443.5" rx="3.2" ry="2.8"/><path d="M263.6,436.5 264.6,445.5" fill="none" stroke-width="4.0" stroke-linecap="round" stroke-linejoin="round"/><ellipse cx="286.6" cy="444.5" rx="4.8" ry="3.2"/><path d="M260.6,451.5 261.6,466.5" fill="none" stroke-width="4.8" stroke-linecap="round" stroke-linejoin="round"/><path d="M272.6,458.5 273.6,476.5" fill="none" stroke-width="5.6" stroke-linecap="round" stroke-linejoin="round"/><path d="M295.6,457.5 308.6,467.5 321.6,476.5" fill="none" stroke-width="7.2" stroke-linecap="round" stroke-linejoin="round"/><path d="M330.6,440.5 333.6,460.5 335.6,485.5" fill="none" stroke-width="5.6" stroke-linecap="round" stroke-linejoin="round"/><path d="M218.6,475.5 225.6,485.5 231.6,492.5" fill="none" stroke-width="6.4" stroke-linecap="round" stroke-linejoin="round"/><path d="M256.6,477.5 260.6,473.5 264.6,477.5 260.6,481.5 256.6,477.5" fill="none" stroke-width="1.6" stroke-linecap="round" stroke-linejoin="round"/><ellipse cx="271.6" cy="490.5" rx="3.2" ry="3.2"/><path d="M256.6,490.5 261.6,502.5 264.6,514.5" fill="none" stroke-width="5.6" stroke-linecap="round" stroke-linejoin="round"/><ellipse cx="273.6" cy="509.5" rx="2.4" ry="4.0"/><path d="M285.6,505.5 281.6,520.5 278.6,535.5" fill="none" stroke-width="4.8" stroke-linecap="round" stroke-linejoin="round"/><path d="M308.6,487.5 283.6,553.5" fill="none" stroke-width="2.4" stroke-linecap="round" stroke-linejoin="round"/><ellipse cx="301.6" cy="489.5" rx="5.6" ry="2.8"/><ellipse cx="293.6" cy="498.5" rx="3.2" ry="2.4"/><ellipse cx="306.6" cy="523.5" rx="4.0" ry="5.6"/><ellipse cx="320.6" cy="527.5" rx="3.2" ry="3.2"/><path d="M329.6,493.5 329.6,510.5" fill="none" stroke-width="4.0" stroke-linecap="round" stroke-linejoin="round"/><ellipse cx="226.6" cy="525.5" rx="4.0" ry="3.2"/><ellipse cx="224.6" cy="540.5" rx="2.4" ry="2.4"/><ellipse cx="236.6" cy="549.5" rx="3.2" ry="4.0"/><ellipse cx="254.6" cy="529.5" rx="3.2" ry="5.6"/><ellipse cx="311.6" cy="542.5" rx="2.4" ry="4.0"/><ellipse cx="326.6" cy="541.5" rx="4.8" ry="3.2"/><ellipse cx="223.6" cy="510.5" rx="3.2" ry="2.4"/><ellipse cx="336.6" cy="552.5" rx="2.4" ry="2.4"/></g>
<path d="M234.8 519.1h0M295.1 492.1h0M241.3 532.4h0M317.2 496.4h0M278.4 460.8h0M214.0 478.2h0M288.7 439.4h0M315.4 460.3h0M243.5 435.9h0M341.6 525.4h0M325.9 509.6h0M277.4 445.4h0M233.5 535.5h0M229.6 549.7h0M271.7 501.4h0M257.6 492.8h0M237.6 435.3h0M324.7 460.7h0M313.7 457.3h0M337.9 545.4h0M310.4 528.5h0M288.1 524.3h0M319.7 456.3h0M332.0 544.6h0M266.2 477.4h0M271.5 480.1h0M341.2 480.2h0M217.0 442.5h0M305.7 558.1h0M277.2 493.7h0M284.2 526.6h0M242.1 508.7h0M236.8 452.4h0M258.3 549.6h0M258.1 507.2h0M252.9 443.8h0M222.0 535.1h0M313.3 478.7h0M301.3 517.4h0M328.9 553.6h0M265.8 557.6h0M337.0 506.4h0M326.9 493.6h0M261.8 462.3h0M326.0 451.4h0M312.9 492.6h0M321.0 437.2h0M246.7 467.7h0M267.4 452.4h0M222.5 473.9h0M329.0 556.9h0M309.3 492.0h0M246.0 553.7h0M217.2 457.8h0M321.1 532.7h0M268.3 505.2h0M322.6 470.1h0M282.2 466.0h0M312.2 431.8h0M301.5 553.1h0M216.6 506.8h0M296.2 539.9h0M288.6 463.5h0M265.6 553.7h0M216.8 487.9h0M231.7 542.0h0M297.7 446.8h0M282.7 472.2h0M262.1 521.7h0M284.2 436.4h0M304.8 542.8h0M312.9 532.1h0M214.6 490.1h0M221.7 528.7h0M236.1 521.9h0M246.0 520.0h0M253.8 435.9h0M263.5 470.3h0M329.2 468.4h0M278.2 501.1h0M335.3 443.2h0M290.7 495.8h0M307.8 554.8h0M253.4 520.4h0M281.1 502.5h0M338.9 476.1h0M254.4 558.1h0M311.1 488.1h0M293.3 433.0h0M296.3 487.4h0M280.0 480.5h0M265.1 459.5h0M219.9 486.3h0M318.5 523.5h0M263.0 493.1h0M294.7 554.3h0M224.6 492.1h0M276.7 522.7h0M327.8 530.7h0M299.3 540.9h0M245.1 548.3h0M319.4 554.3h0M340.5 431.3h0M253.7 470.6h0M263.8 449.2h0M284.6 440.7h0M252.4 551.7h0M227.5 553.3h0M303.9 456.9h0M256.6 512.9h0M301.1 464.0h0M246.2 539.1h0M239.2 507.3h0M249.2 479.2h0M334.3 490.5h0M269.7 509.8h0M249.6 452.9h0M237.8 554.0h0M218.0 534.6h0M333.5 521.0h0M216.0 494.9h0M214.6 500.5h0M225.7 470.2h0M271.9 545.4h0M315.2 536.2h0M237.7 482.3h0M284.4 459.4h0M223.9 546.1h0M318.2 508.4h0M248.2 475.9h0M251.8 511.1h0M327.8 439.6h0M222.3 496.3h0M300.6 454.9h0M248.2 438.1h0M233.9 443.9h0M333.0 499.7h0M266.0 519.3h0M307.0 497.9h0M294.2 452.9h0M304.6 494.0h0M234.4 539.8h0M317.1 547.0h0M313.4 546.5h0M282.0 547.2h0M338.1 480.6h0M334.4 550.9h0M315.5 431.9h0M326.7 457.1h0M341.7 501.8h0M313.1 525.6h0M326.9 477.1h0M236.5 499.9h0M230.4 434.0h0M217.0 516.0h0M229.4 461.3h0M268.0 512.9h0M297.1 463.0h0M276.4 464.6h0M282.6 489.5h0M288.8 533.7h0M264.1 431.0h0M298.8 505.2h0M287.6 558.7h0M238.9 459.7h0M307.8 534.9h0M275.5 437.6h0M261.1 536.7h0M277.7 489.8h0M290.4 519.6h0M324.6 527.0h0M322.4 544.9h0M294.9 449.3h0M320.2 464.5h0M301.1 468.5h0M241.6 457.1h0M241.6 518.7h0M231.7 437.9h0M302.9 483.7h0M297.6 433.2h0M306.6 506.9h0M270.5 494.8h0M295.2 512.2h0M260.5 475.0h0M310.5 512.2h0M288.9 505.4h0M265.6 528.3h0M225.9 456.7h0M280.4 515.8h0M214.8 469.4h0M254.4 547.9h0M259.5 531.3h0M288.0 453.9h0M337.4 530.2h0M234.6 474.3h0M263.5 533.5h0M220.5 467.4h0M232.8 470.1h0M228.0 515.6h0M261.6 541.7h0M285.0 477.3h0M239.1 494.0h0M268.2 456.2h0M325.0 473.8h0M255.7 545.0h0M322.2 449.2h0M300.7 529.7h0M341.5 472.6h0M262.3 556.0h0M293.9 465.6h0M247.9 532.6h0M314.9 542.6h0M328.2 536.3h0M339.1 494.7h0M338.0 514.7h0M268.8 515.8h0M251.4 447.1h0M271.9 528.6h0M219.8 512.3h0M227.9 496.1h0M251.5 487.8h0M228.5 475.3h0M303.6 537.8h0M339.3 463.5h0M293.8 470.7h0M294.7 535.7h0M214.1 474.2h0M240.9 433.8h0M316.6 452.8h0M287.1 501.7h0M322.6 539.3h0M311.2 443.0h0M246.0 458.3h0M269.2 542.9h0M341.4 441.3h0M337.4 548.5h0M272.7 519.5h0M292.6 556.6h0M326.6 547.6h0M224.5 522.3h0M276.0 547.3h0M229.1 533.9h0M306.3 434.5h0M221.6 552.7h0M337.4 487.1h0M291.4 481.7h0M237.5 468.8h0M234.1 483.3h0M253.8 464.1h0M220.2 440.6h0M257.4 467.9h0M321.0 515.1h0M294.8 549.7h0M247.5 516.8h0M338.9 498.4h0M309.9 484.9h0M282.2 462.4h0M228.4 468.2h0M337.8 456.6h0M282.6 520.0h0M244.0 485.8h0M299.7 558.0h0M333.1 511.4h0M323.6 493.7h0M288.9 545.3h0M268.5 437.8h0M243.6 454.4h0M242.7 529.6h0M235.8 507.0h0M306.1 517.1h0M318.9 490.1h0M219.0 451.8h0M257.6 516.9h0M256.8 445.3h0M284.1 532.7h0M274.8 441.3h0M306.9 482.2h0M315.6 485.3h0M329.6 454.9h0M270.9 554.1h0M225.2 465.7h0M298.8 547.1h0M315.0 555.4h0M255.9 459.7h0M231.5 500.7h0M310.1 449.2h0M316.7 481.8h0M276.9 484.0h0M242.7 466.0h0M240.0 452.1h0M308.0 503.4h0M225.5 505.4h0M248.2 557.5h0M275.8 479.7h0M274.9 514.5h0M304.7 547.4h0M294.2 437.0h0M305.9 447.5h0M218.3 464.4h0M322.5 480.4h0M274.5 531.2h0M245.8 492.9h0M295.0 456.4h0M334.4 540.2h0M253.9 541.6h0M240.2 535.8h0M326.1 464.8h0M287.7 482.8h0M233.5 431.6h0M281.0 537.3h0M280.2 486.5h0M219.0 492.4h0M334.9 556.3h0M268.3 464.6h0M215.9 462.2h0M307.0 474.8h0M269.6 519.8h0M275.7 534.9h0M279.3 555.8h0M276.5 508.8h0M261.9 440.3h0M284.3 558.3h0M274.3 556.5h0M261.6 517.5h0M228.3 528.6h0M222.9 457.1h0M223.5 432.7h0M230.7 518.6h0M296.4 474.8h0M313.8 470.4h0M340.5 531.7h0M225.9 453.2h0M230.2 546.0h0M223.6 513.6h0M253.6 492.2h0M284.4 486.1h0M324.7 523.3h0M298.2 534.7h0M258.2 487.6h0M239.2 524.5h0M290.6 487.8h0M285.9 449.0h0M323.2 439.7h0M249.1 501.2h0M340.4 460.5h0M316.9 469.2h0M299.8 520.7h0M226.1 535.2h0M259.3 510.1h0M230.9 456.7h0M231.5 554.3h0M286.0 540.8h0M276.4 434.3h0M266.3 536.7h0M289.4 529.1h0M236.6 478.0h0M214.7 542.0h0M339.4 467.7h0M213.7 434.0h0M311.0 548.5h0M242.0 439.0h0M217.2 446.8h0M339.7 434.8h0M305.5 489.1h0M289.0 469.7h0M265.5 485.9h0M334.4 461.9h0M315.1 447.3h0M337.2 430.6h0M228.4 508.0h0M280.5 468.8h0M298.2 498.2h0M214.4 533.5h0M249.8 546.0h0M241.3 540.6h0M323.7 554.0h0M289.2 549.3h0M328.4 516.1h0M328.0 527.5h0M239.7 473.6h0M331.3 548.9h0M319.1 433.4h0M338.9 491.0h0M319.2 483.8h0M325.3 543.8h0M222.6 462.9h0M234.8 438.6h0M265.9 550.6h0M221.2 448.2h0M271.6 436.3h0M223.1 437.8h0M315.4 503.0h0M341.2 535.7h0M215.2 554.2h0M326.2 485.2h0M270.7 523.8h0M273.7 454.3h0M319.8 446.4h0M294.1 483.7h0M248.3 536.0h0M305.0 443.0h0M333.2 487.1h0M217.6 525.1h0M259.1 553.1h0M271.5 447.2h0M222.0 488.8h0M239.3 486.8h0M303.7 440.0h0M264.5 543.5h0M318.9 501.8h0M303.2 511.8h0M324.2 499.4h0M304.9 450.8h0M272.7 539.9h0M324.4 504.5h0M320.1 548.2h0M310.5 551.5h0M219.9 549.4h0M285.9 433.8h0M280.2 451.2h0M236.4 441.5h0M302.8 533.2h0M238.1 510.8h0M341.3 554.0h0M250.3 458.6h0M261.6 525.4h0M229.7 452.6h0M216.5 481.0h0M290.2 459.5h0M243.2 472.7h0M230.9 444.8h0M338.2 519.4h0M254.2 431.6h0M219.3 545.1h0M244.6 480.8h0M310.0 477.4h0M321.0 519.9h0M320.2 498.7h0M249.8 518.8h0M312.5 537.8h0M332.4 444.3h0M330.0 458.6h0M226.3 449.2h0M287.7 479.5h0M332.9 526.0h0M332.0 558.2h0M219.5 505.0h0M216.5 519.7h0M267.2 546.8h0M313.6 507.6h0M233.4 497.7h0M339.7 452.5h0M326.1 551.0h0M293.7 440.2h0M301.4 549.1h0M301.9 471.5h0M267.1 489.6h0M326.7 480.6h0M338.7 483.7h0M235.7 465.3h0M318.2 538.9h0M298.0 554.3h0M316.9 436.0h0M298.0 481.8h0M309.9 499.6h0M272.2 533.7h0M313.5 519.5h0M259.6 447.6h0M254.7 473.8h0M249.6 466.8h0M291.9 509.3h0M294.0 505.6h0M261.7 485.9h0M277.8 550.0h0M213.7 525.3h0M251.3 524.0h0M277.0 497.5h0M286.6 495.7h0M283.1 496.3h0M246.2 440.7h0M278.8 474.2h0M269.8 498.7h0M291.4 502.0h0M304.6 520.1h0M242.4 460.1h0M281.0 507.8h0M286.9 473.3h0M215.9 454.5h0M332.7 516.1h0M239.4 447.5h0M299.9 537.5h0M281.8 433.5h0M337.7 439.3h0M339.9 539.9h0M317.0 463.5h0M224.8 519.3h0M219.6 482.4h0M250.3 471.9h0M260.3 545.3h0M341.0 548.9h0M300.1 438.4h0M257.0 449.4h0M313.6 558.7h0M229.5 522.5h0M327.3 471.4h0M234.0 488.1h0M269.2 485.0h0M296.5 517.4h0M265.1 540.3h0M316.8 532.0h0M256.9 525.1h0M315.9 550.3h0M215.9 530.8h0M296.4 442.5h0M250.8 484.0h0M279.1 430.9h0M254.9 455.9h0M299.3 501.9h0M313.0 464.7h0M317.4 513.2h0M251.5 507.2h0M285.2 546.7h0M260.5 490.7h0M243.6 449.2h0M240.0 556.6h0M330.1 486.5h0M249.7 497.8h0M248.2 486.1h0M331.4 537.3h0M253.3 516.9h0M246.6 432.5h0M324.8 490.4h0M244.3 506.2h0M284.8 455.2h0M213.9 546.6h0M302.5 436.0h0M228.8 479.8h0M282.1 542.8h0M262.0 548.6h0M285.3 465.0h0M274.2 498.8h0M248.5 444.5h0M275.6 504.9h0M302.5 446.4h0M247.5 464.6h0M270.0 548.4h0M241.7 544.4h0M258.4 433.7h0M216.4 511.8h0M320.9 509.9h0M330.1 436.2h0M220.2 523.5h0M214.0 515.2h0M254.2 500.0h0M310.7 462.3h0M232.1 532.3h0M242.2 493.8h0M242.7 502.5h0M221.9 557.5h0M266.7 440.9h0M338.9 503.8h0M340.8 513.3h0M257.2 439.6h0M328.6 524.4h0M235.7 550.8h0M227.5 558.9h0M330.8 513.6h0M265.0 496.5h0M276.2 528.1h0M259.3 442.3h0M253.7 482.6h0M287.2 555.2h0M254.6 451.4h0M307.9 545.5h0M277.4 517.3h0M328.4 432.2h0M335.3 433.7h0M221.6 517.8h0M256.4 484.7h0M330.6 478.7h0M268.3 448.2h0M259.0 522.6h0M280.1 498.7h0M301.8 431.2h0M214.2 440.9h0M301.5 494.8h0M251.6 556.8h0M242.0 551.6h0M214.0 509.5h0M250.2 491.4h0M270.0 442.8h0M340.7 445.0h0M302.4 507.5h0M301.7 524.2h0M326.4 519.3h0M316.9 442.8h0M295.6 521.4h0M277.7 513.1h0M329.1 545.7h0M232.1 511.3h0M224.7 525.6h0M272.6 431.9h0" stroke="#8c8ed6" stroke-width="2.8" stroke-linecap="round" opacity="0.8" filter="url(#sb)"/>
</g>
<rect x="214.8" y="431.7" width="125.9" height="126.1" fill="none" stroke="#000" stroke-width="2.4"/>
<clipPath id="c22"><rect x="349.7" y="430.3" width="127.5" height="128.5"/></clipPath>
<g clip-path="url(#c22)">
<rect x="349.7" y="430.3" width="127.5" height="128.5" fill="#f2ecf1"/>
<filter color-interpolation-filters="sRGB" id="n22_0" filterUnits="userSpaceOnUse" x="349.7" y="430.3" width="127.5" height="128.5"><feTurbulence type="fractalNoise" baseFrequency="0.15" numOctaves="2" seed="154"/><feColorMatrix type="matrix" values="0.173 0 0 0 0.851 0.204 0 0 0 0.812 0.125 0 0 0 0.886 0 0 0 0 1.0"/></filter>
<rect x="349.7" y="430.3" width="127.5" height="128.5" filter="url(#n22_0)" opacity="0.8"/>
<filter color-interpolation-filters="sRGB" id="w22_0" filterUnits="userSpaceOnUse" x="349.7" y="430.3" width="127.5" height="128.5"><feTurbulence type="fractalNoise" baseFrequency="0.1" numOctaves="3" seed="67"/><feColorMatrix type="matrix" values="0 0 0 0 0.784 0 0 0 0 0.627 0 0 0 0 0.478 4 0 0 0 -1.9"/></filter>
<rect x="349.7" y="430.3" width="127.5" height="128.5" filter="url(#w22_0)" opacity="0.35"/>
<g fill="#c8a078" stroke="#c8a078" opacity="0.8" filter="url(#brn2)"><ellipse cx="389.7" cy="437.3" rx="7" ry="5"/><ellipse cx="405.7" cy="441.3" rx="6" ry="5"/><ellipse cx="419.7" cy="445.3" rx="5" ry="5"/><ellipse cx="356.7" cy="475.3" rx="6" ry="7"/><ellipse cx="366.7" cy="484.3" rx="7" ry="6"/><ellipse cx="372.7" cy="496.3" rx="6" ry="5"/><ellipse cx="421.7" cy="461.3" rx="5" ry="8"/><ellipse cx="433.7" cy="459.3" rx="8" ry="4.5"/><ellipse cx="447.7" cy="448.3" rx="5" ry="4.5"/><path d="M470.7,460.3 471.7,476.3" fill="none" stroke-width="9" stroke-linecap="round" stroke-linejoin="round"/><path d="M353.7,504.3 379.7,508.3 399.7,513.3 411.7,522.3" fill="none" stroke-width="9" stroke-linecap="round" stroke-linejoin="round"/><ellipse cx="359.7" cy="533.3" rx="7" ry="8"/><ellipse cx="374.7" cy="536.3" rx="6" ry="8"/><path d="M387.7,531.3 402.7,548.3" fill="none" stroke-width="9" stroke-linecap="round" stroke-linejoin="round"/><ellipse cx="444.7" cy="524.3" rx="11" ry="6"/><ellipse cx="451.7" cy="538.3" rx="12" ry="6"/><ellipse cx="430.7" cy="496.3" rx="6" ry="6"/><ellipse cx="471.7" cy="528.3" rx="5" ry="8"/><ellipse cx="405.7" cy="495.3" rx="6" ry="4"/></g>
<g fill="#b07a48" stroke="#b07a48" opacity="0.75" filter="url(#brn)"><ellipse cx="389.7" cy="437.3" rx="5" ry="3"/><ellipse cx="405.7" cy="441.3" rx="4" ry="3"/><ellipse cx="419.7" cy="445.3" rx="3" ry="3"/><ellipse cx="356.7" cy="475.3" rx="4" ry="5"/><ellipse cx="366.7" cy="484.3" rx="5" ry="4"/><ellipse cx="372.7" cy="496.3" rx="4" ry="3"/><ellipse cx="421.7" cy="461.3" rx="3" ry="6"/><ellipse cx="433.7" cy="459.3" rx="6" ry="2.5"/><ellipse cx="447.7" cy="448.3" rx="3" ry="2.5"/><path d="M470.7,460.3 471.7,476.3" fill="none" stroke-width="5" stroke-linecap="round" stroke-linejoin="round"/><path d="M353.7,504.3 379.7,508.3 399.7,513.3 411.7,522.3" fill="none" stroke-width="5" stroke-linecap="round" stroke-linejoin="round"/><ellipse cx="359.7" cy="533.3" rx="5" ry="6"/><ellipse cx="374.7" cy="536.3" rx="4" ry="6"/><path d="M387.7,531.3 402.7,548.3" fill="none" stroke-width="5" stroke-linecap="round" stroke-linejoin="round"/><ellipse cx="444.7" cy="524.3" rx="9" ry="4"/><ellipse cx="451.7" cy="538.3" rx="10" ry="4"/><ellipse cx="430.7" cy="496.3" rx="4" ry="4"/><ellipse cx="471.7" cy="528.3" rx="3" ry="6"/><ellipse cx="405.7" cy="495.3" rx="4" ry="2"/></g>
<g fill="#fbf8fb" stroke="#fbf8fb" opacity="0.95"><ellipse cx="469.7" cy="449.3" rx="6" ry="7"/></g>
<g fill="#f4eef6" stroke="#f4eef6" opacity="0.9" filter="url(#rough2)"><ellipse cx="408.7" cy="475.3" rx="11.5" ry="12.5"/></g>
<path d="M471.9 448.3h0M352.7 558.6h0M373.2 445.8h0M432.8 474.7h0M463.1 460.1h0M426.3 550.1h0M437.1 549.0h0M440.0 436.5h0M462.1 506.1h0M389.3 454.7h0M458.1 505.2h0M472.3 503.1h0M438.7 509.0h0M382.6 553.2h0M471.4 513.9h0M367.8 536.3h0M434.8 454.1h0M356.0 498.6h0M353.8 549.2h0M414.3 496.8h0M401.9 515.2h0M466.5 469.8h0M397.4 505.2h0M387.6 506.8h0M418.9 486.0h0M435.5 498.2h0M360.9 558.3h0M395.1 485.8h0M471.1 496.1h0M400.8 442.7h0M463.9 452.3h0M419.4 475.2h0M391.6 476.2h0M374.1 435.1h0M418.0 532.6h0M432.2 456.2h0M402.1 536.7h0M467.1 489.5h0M457.6 494.4h0M416.5 505.4h0M476.1 525.9h0M410.0 523.8h0M352.0 494.6h0M371.6 519.2h0M405.1 464.9h0M355.0 554.6h0M394.6 445.5h0M377.3 463.1h0M460.1 453.5h0M384.9 442.8h0M409.6 457.0h0M393.6 524.7h0M467.6 537.5h0M457.9 434.5h0M375.6 493.3h0M398.5 526.7h0M441.3 490.0h0M381.4 459.9h0M383.7 438.7h0M434.6 450.6h0M463.1 513.3h0M356.9 494.4h0M426.7 435.7h0M411.8 434.1h0M447.4 430.8h0M430.3 556.9h0M457.6 460.3h0M417.9 448.3h0M454.0 431.5h0M463.6 501.2h0M415.1 454.5h0M385.1 450.7h0M438.5 535.3h0M473.9 454.8h0M401.4 542.6h0M446.8 480.0h0M370.3 436.8h0M398.1 460.6h0M415.7 554.9h0M369.2 502.0h0M416.9 529.0h0M352.5 552.2h0M454.9 443.0h0M358.2 453.2h0M414.1 550.9h0M465.6 483.2h0M429.1 525.4h0M392.1 555.0h0M464.6 533.2h0M432.9 471.6h0M385.6 460.9h0M357.0 549.3h0M387.7 433.4h0M390.0 443.6h0M406.5 473.0h0M372.1 491.6h0M402.6 475.8h0M453.4 469.7h0M418.7 543.1h0M472.0 478.5h0M415.3 458.3h0M366.0 461.0h0M389.3 448.1h0M355.9 558.1h0M411.0 533.3h0M414.0 439.2h0M393.0 479.2h0M466.3 505.2h0M408.2 511.3h0M355.9 518.5h0M452.7 516.5h0M395.7 467.0h0M351.0 440.8h0M369.4 488.5h0M448.9 458.2h0M430.0 432.9h0M420.7 452.8h0M420.6 536.1h0M383.1 541.9h0M417.3 517.9h0M422.7 507.6h0M380.3 501.5h0M394.9 532.8h0M397.2 556.2h0M402.7 446.8h0M443.6 436.2h0M426.8 469.9h0M436.5 522.0h0M379.4 447.0h0M383.0 431.4h0M406.0 534.2h0M369.8 551.2h0M414.5 450.9h0M362.5 477.9h0M410.4 452.9h0M360.4 494.7h0M382.1 487.4h0M356.1 446.1h0M358.6 536.5h0M418.7 549.0h0M429.5 473.4h0M404.6 524.4h0M379.2 533.5h0M401.7 435.7h0M393.5 502.3h0M368.4 546.6h0M467.8 496.0h0M465.0 519.0h0M471.2 548.5h0M407.3 479.8h0M359.1 509.9h0M458.7 480.3h0M450.9 452.1h0M385.7 512.8h0M355.0 535.3h0M407.7 451.6h0M352.2 444.9h0M382.9 527.6h0M450.9 511.4h0M388.9 515.6h0M443.1 477.5h0M360.1 490.6h0M378.0 454.5h0M399.5 439.9h0M464.2 466.4h0M464.3 525.1h0M351.1 545.9h0M452.9 497.8h0M462.4 491.8h0M352.9 449.6h0M389.3 540.6h0M378.8 475.5h0M404.5 528.7h0M393.7 463.3h0M365.3 468.2h0M379.6 524.8h0M395.0 521.1h0M388.6 480.8h0M465.7 455.9h0M376.7 450.3h0M468.5 459.5h0M424.2 444.6h0M349.9 522.6h0M437.0 531.4h0M411.8 489.9h0M390.6 436.1h0M418.7 460.7h0M420.5 495.0h0M425.7 517.2h0M437.7 495.5h0M423.7 433.4h0M397.8 443.7h0M362.2 444.7h0M413.2 542.4h0M447.6 442.4h0M474.5 465.0h0M358.9 525.3h0M412.5 558.7h0M397.5 535.3h0M394.8 492.4h0M412.7 518.3h0M469.2 533.3h0M418.4 557.0h0M425.8 506.6h0M400.2 484.2h0M471.5 521.1h0M422.4 477.4h0M352.0 515.3h0M446.5 434.9h0M436.9 466.3h0M401.3 490.3h0M376.5 457.9h0M416.3 436.4h0M361.1 441.4h0M443.2 555.0h0M445.3 496.5h0M366.3 531.0h0M366.2 440.2h0M443.9 541.4h0M475.2 535.3h0M419.2 523.1h0M379.0 504.4h0M385.9 454.0h0M400.6 465.2h0M389.4 459.5h0M429.4 510.8h0M467.5 515.9h0M417.3 442.2h0M410.4 514.5h0M449.8 487.6h0M413.8 526.7h0M363.8 497.5h0M425.8 502.3h0M379.2 442.1h0M352.4 469.5h0M424.1 486.8h0M392.3 450.4h0M397.9 481.7h0M362.6 503.2h0M449.9 494.4h0M391.9 512.3h0M373.0 515.4h0M431.9 530.0h0M475.4 444.0h0M404.1 509.5h0M404.4 452.3h0M387.8 487.7h0M430.3 498.6h0M451.8 544.8h0M473.0 451.5h0M411.2 445.5h0M438.7 481.2h0M451.5 434.3h0M427.9 483.4h0M361.0 518.7h0M391.3 486.2h0M401.2 556.9h0M429.2 537.3h0M406.7 467.6h0M415.4 545.2h0M465.3 528.3h0M354.8 511.7h0M361.2 463.9h0M460.5 475.2h0M410.8 506.2h0M385.7 483.5h0M457.1 453.0h0M434.8 545.1h0M475.4 557.7h0M365.6 522.4h0M362.4 547.3h0M397.3 477.0h0M429.8 461.8h0M436.5 490.4h0M457.2 526.2h0M459.1 450.2h0M451.0 529.8h0M386.9 430.4h0M362.4 529.5h0M473.1 439.0h0M380.7 482.0h0M372.5 547.3h0M458.5 549.9h0M461.8 526.8h0M366.7 544.0h0M465.0 436.9h0M352.1 520.0h0M375.1 485.5h0M411.7 472.0h0M356.3 450.5h0M366.3 540.0h0M389.5 556.7h0M458.8 557.1h0M406.1 492.4h0M383.2 524.4h0M377.7 479.7h0M452.5 448.0h0M373.9 481.1h0M356.6 456.1h0M452.5 519.6h0M472.2 487.2h0M442.0 530.0h0M451.3 551.0h0M441.7 450.6h0M428.5 449.3h0M422.7 499.0h0M455.7 522.8h0M359.8 501.8h0M350.9 498.7h0M412.6 493.0h0M447.1 468.6h0M410.4 461.9h0M374.9 511.5h0M421.4 555.7h0M474.7 494.4h0M469.0 445.0h0M402.8 469.6h0M399.0 488.1h0M467.4 433.9h0M351.8 530.9h0M425.6 532.2h0M440.0 440.5h0M396.2 547.3h0M406.5 488.9h0M353.7 502.4h0M454.6 485.5h0M360.4 513.2h0M395.9 515.5h0M434.9 539.2h0M351.0 490.1h0M423.7 455.1h0M461.7 434.2h0M431.6 449.0h0M430.2 546.7h0M453.6 479.5h0M365.5 519.1h0M368.0 527.4h0M460.0 534.4h0M448.6 516.6h0M371.5 472.6h0M385.5 467.8h0M476.3 430.8h0M454.2 547.3h0M460.7 497.4h0M440.2 513.9h0M365.7 479.2h0M413.3 512.1h0M411.1 480.7h0M374.0 469.7h0M399.8 503.0h0M463.8 448.5h0M384.5 434.8h0M363.1 514.7h0M374.6 522.0h0M403.9 484.1h0M363.3 432.4h0M392.9 455.2h0M380.5 492.7h0M460.1 519.6h0M460.1 485.6h0M368.6 521.6h0M476.6 452.1h0M428.0 480.0h0M475.1 434.5h0M410.7 476.4h0M349.8 465.7h0M351.4 509.8h0M433.4 549.6h0M462.5 552.2h0M383.5 471.2h0M438.5 474.8h0M397.6 435.4h0M360.2 482.6h0M456.8 430.4h0M408.6 436.1h0M350.6 436.8h0M435.9 439.0h0M468.5 441.5h0M464.1 432.1h0M372.3 452.4h0M385.3 535.0h0M460.1 524.2h0M454.7 535.4h0M439.0 552.2h0M444.9 545.4h0M413.0 483.5h0M441.7 463.2h0M405.3 513.8h0M434.7 430.7h0M367.4 443.0h0M433.5 487.0h0M473.0 509.8h0M404.5 557.5h0M475.9 521.4h0M471.1 457.1h0M453.8 500.8h0M364.1 454.8h0M368.8 513.9h0M442.7 431.0h0M384.3 502.4h0M435.2 434.6h0M431.8 522.3h0M432.8 518.0h0M395.2 552.7h0M458.9 446.1h0M476.3 489.8h0M380.3 510.3h0M381.9 465.5h0M453.6 489.1h0M446.3 455.1h0M392.1 548.4h0M445.6 483.7h0M461.2 545.5h0M403.7 504.2h0M369.8 555.9h0M398.7 451.6h0M452.9 459.3h0M427.6 464.4h0M476.8 474.6h0M433.6 508.3h0M471.3 543.7h0M388.7 545.5h0M411.6 538.8h0M432.1 464.6h0M368.7 449.3h0M411.4 437.6h0M468.0 502.2h0M435.5 555.4h0M410.8 551.8h0M403.9 431.3h0M425.1 528.4h0M422.2 532.4h0M354.4 489.8h0M455.8 554.9h0M462.5 471.6h0M457.0 530.4h0M414.1 468.5h0M352.0 534.3h0M378.9 553.9h0M474.7 484.0h0M356.0 438.6h0M397.5 498.6h0M475.4 515.8h0M355.4 526.6h0M406.6 432.8h0M380.1 450.0h0M435.7 505.0h0M423.6 519.5h0M384.3 517.7h0M357.7 442.4h0M421.9 513.7h0M385.0 556.7h0M364.3 534.6h0M404.0 438.2h0M444.4 535.5h0M388.2 496.2h0M403.2 532.2h0M361.7 436.6h0M429.3 532.1h0M470.8 434.9h0M472.6 552.3h0M381.9 538.7h0M417.1 525.8h0M422.8 539.0h0M459.9 457.7h0M427.5 445.6h0M466.1 498.8h0M458.6 466.4h0M400.8 530.3h0M448.2 545.6h0M399.8 518.9h0M377.0 546.4h0M429.3 552.0h0M467.2 555.4h0M436.3 470.5h0M371.9 457.6h0M424.3 467.6h0M446.8 505.7h0M375.8 551.4h0M441.6 485.0h0M477.1 437.7h0M362.3 524.7h0M375.6 501.4h0M423.9 544.9h0M360.1 469.4h0M354.3 542.2h0M351.5 454.7h0M376.4 536.8h0M387.0 464.2h0M453.0 541.1h0M349.9 482.3h0M381.3 435.4h0M356.2 435.4h0M434.4 501.4h0M475.7 499.5h0M439.5 492.9h0M421.4 529.3h0M441.6 495.1h0M403.6 479.7h0M419.1 501.0h0M395.4 451.1h0M412.0 546.4h0M392.4 467.4h0M443.2 558.6h0M356.0 460.7h0M392.0 494.3h0M424.5 535.5h0M413.6 504.2h0M467.0 544.4h0M476.6 553.9h0M385.2 457.2h0M474.5 458.6h0M462.7 442.4h0M365.9 494.2h0M448.3 438.8h0M458.6 511.8h0M454.0 510.0h0M470.5 453.5h0M385.9 520.3h0M426.6 495.6h0M441.1 503.5h0M417.2 483.1h0M378.4 433.4h0M365.5 473.8h0M440.5 556.8h0M476.7 469.4h0M465.2 476.4h0M423.0 526.1h0M459.6 508.2h0M396.6 524.0h0M362.6 553.4h0M459.1 553.1h0M361.5 458.5h0M458.3 500.1h0M431.0 481.1h0M427.7 554.6h0M410.6 485.9h0M439.2 432.3h0M440.9 457.1h0M412.0 441.6h0M356.9 505.1h0M383.0 479.6h0M410.4 498.7h0M356.6 481.2h0M468.4 484.7h0M447.0 512.3h0M432.2 441.8h0M386.5 543.1h0M363.4 451.2h0M351.6 475.8h0M369.3 464.2h0M455.0 492.6h0M416.0 540.0h0M433.3 514.2h0M407.4 552.2h0M452.4 505.7h0M476.6 541.5h0M390.2 465.2h0M370.8 443.7h0M448.7 465.7h0M426.7 546.9h0M442.0 519.2h0M472.4 443.9h0M469.7 499.0h0M447.3 461.6h0M359.3 448.5h0M410.3 431.1h0M476.2 510.4h0M433.8 558.1h0M414.9 532.6h0M354.7 538.6h0M473.6 539.1h0M425.1 523.4h0M407.7 497.1h0M407.5 506.9h0M377.8 557.5h0M392.6 433.0h0M453.6 473.0h0M371.1 461.5h0M376.1 525.1h0M422.0 549.4h0M391.6 489.8h0M465.3 522.2h0M424.0 474.3h0M439.1 545.6h0M372.1 465.8h0M405.6 540.5h0M464.9 547.4h0M429.0 516.6h0M454.6 462.9h0M402.2 454.6h0M444.9 458.8h0M414.9 472.4h0M444.7 444.5h0M366.3 436.3h0M395.0 431.0h0M369.3 454.2h0M443.6 550.1h0M416.5 432.8h0M432.6 536.4h0M434.5 446.9h0M415.7 488.8h0M419.0 471.9h0M390.0 522.1h0M467.7 550.9h0M358.0 487.3h0M430.4 486.4h0M444.5 487.9h0M360.2 551.0h0M358.7 433.2h0M469.4 492.3h0M451.4 467.4h0M454.6 451.3h0M450.7 475.7h0M426.8 490.8h0M375.1 475.8h0M380.6 549.3h0M444.1 510.7h0M471.1 482.0h0M380.5 544.7h0M420.3 490.5h0M368.2 430.7h0M427.8 458.6h0M392.9 440.5h0M455.7 476.3h0M407.3 545.7h0M365.1 549.1h0M420.5 504.4h0M366.4 500.5h0M419.0 509.0h0M354.3 441.2h0M429.9 492.2h0M468.6 478.1h0M381.0 455.8h0M399.6 456.2h0M378.8 513.2h0M377.8 483.1h0M405.3 458.0h0M441.1 471.7h0M371.3 527.3h0M423.9 482.5h0M444.1 439.7h0M432.9 526.4h0M462.4 529.8h0M382.3 513.1h0M402.8 487.0h0M448.2 558.2h0M396.8 457.9h0M467.1 473.5h0M428.1 541.7h0M372.0 476.9h0" stroke="#8c8ed6" stroke-width="2.8" stroke-linecap="round" opacity="0.8" filter="url(#sb)"/>
<g fill="#6a6ac0" stroke="#6a6ac0" opacity="0.3" filter="url(#rough2)"><ellipse cx="408.7" cy="475.3" rx="9" ry="10"/><ellipse cx="469.7" cy="501.3" rx="7" ry="9"/></g>
<g fill="#ffffff" stroke="#ffffff" opacity="0.9" filter="url(#rough2)"><path d="M397.7,475.3 399.7,466.3 408.7,463.3 417.7,466.3 420.7,475.3 417.7,485.3 408.7,488.3 399.7,485.3 397.7,475.3" fill="none" stroke-width="1.2" stroke-linecap="round" stroke-linejoin="round"/></g>
</g>
<rect x="350.9" y="431.5" width="125.1" height="126.1" fill="none" stroke="#000" stroke-width="2.4"/>
<clipPath id="c23"><rect x="486.4" y="430.4" width="128.4" height="128.4"/></clipPath>
<g clip-path="url(#c23)">
<rect x="486.4" y="430.4" width="128.4" height="128.4" fill="#e8e0ea"/>
<filter color-interpolation-filters="sRGB" id="n23_0" filterUnits="userSpaceOnUse" x="486.4" y="430.4" width="128.4" height="128.4"><feTurbulence type="fractalNoise" baseFrequency="0.2" numOctaves="2" seed="161"/><feColorMatrix type="matrix" values="0.188 0 0 0 0.800 0.220 0 0 0 0.761 0.141 0 0 0 0.843 0 0 0 0 1.0"/></filter>
<rect x="486.4" y="430.4" width="128.4" height="128.4" filter="url(#n23_0)" opacity="0.8"/>
<filter color-interpolation-filters="sRGB" id="w23_0" filterUnits="userSpaceOnUse" x="486.4" y="430.4" width="128.4" height="128.4"><feTurbulence type="fractalNoise" baseFrequency="0.14" numOctaves="3" seed="70"/><feColorMatrix type="matrix" values="0 0 0 0 0.769 0 0 0 0 0.635 0 0 0 0 0.494 4 0 0 0 -1.7"/></filter>
<rect x="486.4" y="430.4" width="128.4" height="128.4" filter="url(#w23_0)" opacity="0.4"/>
<g fill="#c4a07a" stroke="#c4a07a" opacity="0.6" filter="url(#brn2)"><ellipse cx="500.4" cy="466.4" rx="8" ry="7"/><ellipse cx="525.4" cy="480.4" rx="6" ry="8"/><ellipse cx="556.4" cy="453.4" rx="7" ry="6"/><ellipse cx="576.4" cy="474.4" rx="8" ry="12"/><ellipse cx="606.4" cy="480.4" rx="7" ry="5"/><ellipse cx="608.4" cy="496.4" rx="5" ry="7"/><ellipse cx="504.4" cy="495.4" rx="8" ry="7"/><ellipse cx="536.4" cy="504.4" rx="7" ry="7"/><ellipse cx="573.4" cy="504.4" rx="7" ry="7"/><ellipse cx="494.4" cy="516.4" rx="6" ry="6"/><ellipse cx="496.4" cy="538.4" rx="6" ry="7"/><ellipse cx="522.4" cy="525.4" rx="7" ry="7"/><ellipse cx="551.4" cy="529.4" rx="6" ry="5"/><ellipse cx="608.4" cy="519.4" rx="5" ry="7"/><ellipse cx="525.4" cy="541.4" rx="6" ry="6"/><ellipse cx="594.4" cy="548.4" rx="7" ry="5"/><ellipse cx="561.4" cy="470.4" rx="6" ry="7"/><ellipse cx="519.4" cy="456.4" rx="6" ry="5"/></g>
<g fill="#b48650" stroke="#b48650" opacity="0.5" filter="url(#brn)"><ellipse cx="500.4" cy="466.4" rx="6" ry="5"/><ellipse cx="525.4" cy="480.4" rx="4" ry="6"/><ellipse cx="556.4" cy="453.4" rx="5" ry="4"/><ellipse cx="576.4" cy="474.4" rx="6" ry="10"/><ellipse cx="606.4" cy="480.4" rx="5" ry="3"/><ellipse cx="608.4" cy="496.4" rx="3" ry="5"/><ellipse cx="504.4" cy="495.4" rx="6" ry="5"/><ellipse cx="536.4" cy="504.4" rx="5" ry="5"/><ellipse cx="573.4" cy="504.4" rx="5" ry="5"/><ellipse cx="494.4" cy="516.4" rx="4" ry="4"/><ellipse cx="496.4" cy="538.4" rx="4" ry="5"/><ellipse cx="522.4" cy="525.4" rx="5" ry="5"/><ellipse cx="551.4" cy="529.4" rx="4" ry="3"/><ellipse cx="608.4" cy="519.4" rx="3" ry="5"/><ellipse cx="525.4" cy="541.4" rx="4" ry="4"/><ellipse cx="594.4" cy="548.4" rx="5" ry="3"/><ellipse cx="561.4" cy="470.4" rx="4" ry="5"/><ellipse cx="519.4" cy="456.4" rx="4" ry="3"/></g>
<g fill="#f0ecf4" stroke="#f0ecf4" opacity="0.9" filter="url(#rough2)"><ellipse cx="577.4" cy="475.4" rx="2.5" ry="7"/><path d="M549.4,492.4 550.4,512.4" fill="none" stroke-width="4" stroke-linecap="round" stroke-linejoin="round"/><ellipse cx="586.4" cy="520.4" rx="5" ry="4"/></g>
<path d="M605.2 552.2h0M601.0 441.1h0M562.4 484.8h0M554.5 447.1h0M511.1 487.5h0M514.8 488.8h0M489.6 441.4h0M577.6 484.5h0M552.2 524.7h0M532.5 437.8h0M587.0 506.0h0M570.9 510.1h0M611.0 477.0h0M584.0 477.7h0M559.9 515.2h0M526.8 441.4h0M547.3 522.6h0M568.9 453.8h0M509.3 471.9h0M591.2 455.5h0M501.1 443.1h0M491.4 465.8h0M560.0 535.8h0M523.4 469.5h0M586.2 500.9h0M519.6 444.2h0M587.0 521.2h0M592.8 461.0h0M556.4 548.4h0M562.5 551.8h0M507.9 555.6h0M493.6 483.8h0M489.4 534.3h0M574.6 555.4h0M589.8 552.2h0M555.6 557.3h0M582.6 474.8h0M511.2 440.1h0M546.2 455.6h0M514.1 443.7h0M554.3 452.2h0M556.2 534.8h0M518.9 484.6h0M602.1 487.5h0M530.4 545.0h0M590.9 545.3h0M574.7 483.4h0M575.4 536.9h0M568.5 461.0h0M500.3 511.5h0M529.1 502.2h0M608.6 440.5h0M558.6 500.0h0M516.6 502.4h0M546.8 488.1h0M578.6 430.9h0M534.8 531.3h0M504.6 541.8h0M512.5 517.9h0M540.7 440.9h0M576.2 492.1h0M524.6 545.8h0M597.3 494.3h0M586.2 516.9h0M564.1 467.8h0M525.2 553.6h0M540.3 535.2h0M547.7 501.5h0M519.2 466.1h0M497.8 458.3h0M520.3 539.8h0M550.9 444.6h0M545.8 445.9h0M559.1 487.2h0M596.6 463.7h0M612.6 511.8h0M521.8 476.9h0M505.2 537.9h0M498.0 525.2h0M537.2 517.6h0M603.9 514.5h0M603.5 453.8h0M488.9 508.9h0M504.3 524.4h0M559.6 529.4h0M591.9 507.8h0M562.3 472.4h0M596.4 456.9h0M541.2 471.1h0M566.0 498.9h0M596.7 486.4h0M532.9 514.0h0M582.0 549.2h0M612.4 556.5h0M503.0 479.2h0M585.8 537.1h0M491.5 481.1h0M579.4 527.8h0M555.1 457.4h0M538.6 437.9h0M526.9 485.3h0M539.6 462.0h0M526.9 516.5h0M543.6 452.6h0M591.9 504.3h0M566.4 485.3h0M564.5 548.4h0M612.4 515.3h0M594.3 480.7h0M611.6 525.5h0M577.4 516.2h0M521.4 452.1h0M563.7 438.6h0M561.9 496.5h0M495.1 491.2h0M505.1 512.8h0M526.1 510.1h0M582.7 508.3h0M531.0 556.0h0M587.9 468.3h0M610.0 433.3h0M602.1 450.1h0M574.9 552.0h0M572.0 444.8h0M500.6 536.6h0M496.6 440.8h0M609.3 511.5h0M552.1 465.3h0M560.0 557.8h0M569.4 542.8h0M511.8 524.8h0M580.4 439.5h0M514.3 438.3h0M571.5 448.7h0M611.7 430.4h0M590.3 527.9h0M559.5 503.8h0M588.9 512.1h0M504.3 532.7h0M552.2 546.5h0M539.6 540.0h0M496.9 472.3h0M589.7 532.6h0M504.8 448.4h0M551.5 534.3h0M553.5 499.3h0M589.2 538.1h0M520.6 507.5h0M592.1 522.6h0M608.6 547.9h0M502.8 495.7h0M532.3 456.7h0M550.7 556.7h0M585.0 443.1h0M518.2 477.9h0M506.9 501.0h0M518.1 435.3h0M586.0 524.9h0M568.2 527.9h0M543.8 437.2h0M605.5 464.5h0M581.2 490.0h0M586.4 473.8h0M498.3 485.4h0M548.0 532.2h0M534.7 524.5h0M508.8 543.4h0M596.6 530.3h0M575.4 444.0h0M566.8 554.1h0M605.2 448.9h0M524.7 498.4h0M553.5 552.7h0M537.8 525.3h0M529.9 450.1h0M487.8 473.5h0M548.7 475.5h0M605.3 530.6h0M571.8 539.2h0M564.7 459.6h0M612.9 485.0h0M600.2 462.0h0M575.4 463.3h0M605.4 555.4h0M612.6 449.4h0M556.2 505.9h0M595.5 437.0h0M534.6 470.8h0M588.0 445.4h0M494.3 445.2h0M501.3 486.3h0M597.6 476.0h0M499.4 516.4h0M602.1 526.2h0M522.6 495.2h0M585.6 531.2h0M580.2 538.7h0M592.3 499.9h0M568.6 436.0h0M603.7 539.3h0M542.8 459.9h0M600.1 514.8h0M511.0 435.2h0M599.1 504.4h0M500.5 557.5h0M589.9 463.3h0M512.8 480.1h0M486.6 482.6h0M610.0 541.6h0M509.5 537.2h0M515.3 461.2h0M568.3 468.2h0M509.1 455.1h0M603.5 435.8h0M528.3 492.6h0M567.1 440.7h0M585.5 447.5h0M498.4 455.3h0M504.3 441.5h0M595.8 498.3h0M550.2 495.7h0M590.5 436.3h0M487.3 495.3h0M566.6 539.5h0M526.6 504.9h0M490.6 527.2h0M594.7 535.6h0M549.0 441.7h0M526.5 531.3h0M598.1 481.3h0M559.8 519.1h0M602.3 458.6h0M498.3 496.2h0M515.2 484.9h0M559.3 437.1h0M520.6 480.2h0M498.6 533.8h0M530.1 540.8h0M586.6 450.5h0M609.3 555.3h0M489.5 455.0h0M514.4 476.3h0M545.4 548.3h0M578.8 454.6h0M591.0 488.2h0M556.0 440.0h0M545.3 513.1h0M530.0 527.5h0M596.3 553.8h0M598.6 432.5h0M599.7 510.2h0M512.2 451.7h0M587.0 478.3h0M511.5 498.0h0M530.5 471.4h0M525.8 465.4h0M563.8 453.4h0M565.5 482.0h0M538.8 557.1h0M509.4 432.2h0M502.2 519.0h0M566.3 433.1h0M542.0 558.7h0M603.0 503.5h0M590.5 474.5h0M535.4 520.3h0M584.1 519.3h0M505.7 484.5h0M527.3 460.1h0M501.3 526.5h0M504.6 475.8h0M488.8 520.9h0M582.7 533.9h0M521.5 460.8h0M489.2 512.4h0M562.3 476.9h0M582.5 460.5h0M516.6 539.6h0M600.0 518.0h0M531.8 536.6h0M520.6 517.7h0M552.3 549.7h0M560.7 455.6h0M565.7 472.2h0M614.5 474.3h0M542.8 521.8h0M569.7 496.7h0M553.8 487.6h0M538.0 485.2h0M573.6 486.6h0M493.3 436.7h0M532.5 478.9h0M494.2 432.1h0M543.9 545.2h0M567.5 477.3h0M592.4 538.5h0M510.1 531.1h0M497.7 432.4h0M524.5 436.1h0M488.7 490.0h0M555.9 473.1h0M493.4 549.9h0M611.2 460.8h0M518.3 499.5h0M515.9 556.7h0M595.7 471.8h0M598.3 448.0h0M537.0 474.6h0M586.8 541.5h0M521.8 549.6h0M493.0 495.1h0M516.2 528.3h0M488.9 549.4h0M566.8 490.8h0M493.9 544.0h0M548.4 508.0h0M607.7 506.9h0M583.0 453.4h0M586.9 492.4h0M613.6 538.9h0M602.4 494.7h0M580.7 499.2h0M550.7 435.6h0M591.0 442.7h0M522.3 488.6h0M542.9 498.5h0M570.1 518.4h0M492.9 460.8h0M501.4 473.1h0M545.1 539.8h0M595.3 557.0h0M598.9 438.5h0M513.0 505.3h0M489.0 461.6h0M527.4 472.9h0M577.0 451.5h0M536.1 479.9h0M568.7 464.4h0M550.1 481.1h0M531.7 467.0h0M565.7 522.4h0M501.2 431.0h0M537.1 451.7h0M551.2 491.3h0M611.4 471.5h0M520.1 473.7h0M517.4 521.7h0M595.1 446.7h0M545.0 528.7h0M509.4 445.3h0M576.1 530.0h0M500.3 434.7h0M490.5 552.4h0M589.8 479.7h0M508.4 526.4h0M547.2 433.6h0M600.0 491.1h0M524.1 430.6h0M538.5 547.8h0M546.6 517.4h0M499.1 437.8h0M606.0 432.2h0M488.9 557.6h0M610.4 535.2h0M610.7 495.3h0M583.4 495.2h0M506.9 481.6h0M521.5 492.1h0M531.7 550.4h0M511.6 458.5h0M550.9 519.6h0M611.3 521.1h0M524.2 455.1h0M540.6 511.1h0M534.2 554.8h0M570.1 553.3h0M486.7 553.8h0M594.7 544.3h0M597.1 541.5h0M544.8 484.9h0M584.0 557.3h0M595.3 432.1h0M575.0 522.8h0M600.8 549.8h0M584.5 432.5h0M550.4 470.5h0M525.0 557.4h0M572.2 557.9h0M515.5 547.4h0M529.9 519.6h0M520.7 556.5h0M582.4 515.5h0M517.4 543.3h0M551.0 537.7h0M572.9 489.8h0M540.0 478.3h0M552.7 475.3h0M533.3 444.6h0M587.5 497.9h0M590.9 432.0h0M504.2 454.1h0M487.9 477.4h0M508.0 507.5h0M610.1 453.1h0M493.1 504.9h0M501.0 501.9h0M506.0 518.0h0M538.9 496.3h0M591.5 556.0h0M564.9 463.7h0M566.8 512.6h0M551.9 506.5h0M507.1 478.0h0M530.2 453.8h0M492.3 487.9h0M535.1 540.4h0M512.5 491.1h0M565.2 515.8h0M571.6 513.9h0M509.4 463.6h0M528.4 547.6h0M548.0 450.4h0M513.7 469.8h0M497.4 505.6h0M594.1 489.5h0M599.7 554.8h0M562.4 523.3h0M538.6 513.7h0M521.0 533.7h0M583.9 552.9h0M580.1 465.4h0M608.7 530.2h0M486.8 502.7h0M599.0 534.7h0M551.9 459.4h0M556.8 516.8h0M607.7 462.0h0M607.5 533.5h0M531.5 485.7h0M562.6 430.5h0M586.8 547.0h0M519.1 488.9h0M543.0 526.4h0M525.3 501.5h0M528.1 558.0h0M535.5 435.0h0M530.4 531.7h0M577.2 458.2h0M489.6 450.6h0M584.8 463.7h0M488.7 516.6h0M529.6 509.8h0M543.8 464.0h0M567.9 508.2h0M607.4 496.6h0M530.1 523.1h0M505.2 435.9h0M592.0 470.9h0M590.6 515.6h0M541.3 518.1h0M508.1 458.5h0M612.6 445.0h0M528.8 497.8h0M530.0 488.8h0M570.4 482.8h0M548.5 542.5h0M603.0 545.8h0M487.6 444.2h0M576.5 448.4h0M501.9 458.2h0M607.3 456.8h0M544.8 507.9h0M591.9 548.4h0M529.3 436.3h0M607.5 445.5h0M517.0 553.8h0M495.5 532.6h0M562.4 446.4h0M553.3 483.9h0M588.8 502.9h0M593.7 528.0h0M550.4 455.9h0M565.9 503.0h0M504.5 462.6h0M502.4 450.3h0M509.3 520.1h0M489.0 469.9h0M494.0 474.1h0M494.2 556.5h0M490.9 499.0h0M522.5 503.5h0M555.4 524.9h0M568.1 547.9h0M587.2 454.9h0M573.8 452.8h0M603.0 475.5h0M518.4 461.3h0M508.3 441.4h0M611.1 437.1h0M560.3 490.6h0M546.5 471.9h0M612.8 441.5h0M559.0 508.5h0M512.5 463.1h0M578.8 558.3h0M547.9 484.0h0M614.4 522.4h0M573.2 441.6h0M598.4 469.7h0M527.2 445.5h0M556.5 496.6h0M610.6 503.2h0M532.7 510.8h0M544.3 492.7h0M596.2 538.3h0M610.2 490.0h0M513.6 513.7h0M559.0 449.8h0M570.9 546.6h0M517.6 493.6h0M571.9 455.5h0M534.4 498.5h0M583.3 471.0h0M519.9 496.7h0M536.6 462.5h0M599.9 484.5h0M524.8 452.0h0M547.6 491.3h0M580.6 511.5h0M582.0 541.5h0M555.1 432.6h0M539.1 446.1h0M491.0 541.0h0M579.0 462.5h0M521.4 512.6h0M573.1 527.7h0M555.6 511.2h0M495.9 478.0h0M546.2 551.6h0M549.2 549.3h0M503.9 504.7h0M522.7 442.4h0M542.7 505.1h0M514.3 495.9h0M545.8 476.5h0M532.9 542.6h0M549.3 462.0h0M606.8 526.3h0M595.6 510.8h0M540.2 467.3h0M510.2 501.9h0M603.6 519.0h0M487.6 436.6h0M507.1 551.9h0M600.7 500.4h0M582.6 457.2h0M489.6 524.2h0M563.3 534.3h0M492.6 512.8h0M544.3 534.4h0M527.0 536.9h0M590.6 451.3h0M539.1 544.3h0M536.9 430.6h0M525.6 489.1h0M582.4 448.6h0M596.1 451.3h0M551.1 451.9h0M497.3 446.2h0M595.9 550.8h0M579.9 545.2h0M534.7 454.0h0M589.0 439.5h0M519.9 448.4h0M499.3 479.8h0M587.0 458.1h0M606.6 436.5h0M595.3 442.6h0M579.2 502.2h0M605.7 542.4h0M488.7 531.1h0M604.9 510.8h0M532.3 474.3h0M488.1 431.9h0M586.6 437.3h0M559.1 432.7h0M523.4 447.2h0M603.5 471.9h0M540.0 489.7h0M561.6 544.9h0M506.2 445.6h0M499.5 476.0h0M613.8 458.2h0M576.4 526.6h0M496.3 553.9h0M581.0 520.8h0M541.4 552.8h0M612.9 548.1h0M509.4 547.7h0M497.3 510.5h0M563.3 557.4h0M555.8 491.8h0M565.1 495.6h0M539.0 433.4h0M580.0 493.3h0M536.2 492.2h0M573.9 511.3h0M535.5 546.8h0M553.9 462.4h0M554.5 529.4h0M609.7 550.9h0M558.3 541.1h0M494.1 528.3h0M612.4 544.7h0M493.5 469.1h0M545.1 441.5h0M500.2 490.3h0M571.8 461.8h0M614.7 488.7h0M539.6 521.4h0M580.3 469.2h0M565.0 448.8h0M568.3 447.2h0M490.3 493.2h0M503.7 557.4h0M530.3 462.6h0M585.2 527.9h0M504.0 432.6h0M548.0 525.6h0M603.6 507.4h0M496.9 549.8h0M541.2 454.8h0M612.5 505.8h0M607.8 517.8h0M555.9 480.3h0M573.8 438.3h0M595.5 505.7h0M610.0 486.9h0M547.7 497.5h0M534.4 448.4h0M562.3 450.5h0M571.6 524.5h0M518.5 550.6h0M513.9 538.1h0" stroke="#7e82d4" stroke-width="2.8" stroke-linecap="round" opacity="0.8" filter="url(#sb)"/>
<g fill="#ebe6f2" stroke="#ebe6f2" opacity="1.0" filter="url(#rough2)"><ellipse cx="550.4" cy="428.4" rx="82" ry="14"/></g>
</g>
<rect x="487.6" y="431.6" width="126.0" height="126.0" fill="none" stroke="#000" stroke-width="2.4"/>
<line x1="153.6" y1="414.4" x2="195.0" y2="414.4" stroke="#000" stroke-width="2.8"/>
<line x1="295.3" y1="414.7" x2="337.1" y2="414.7" stroke="#000" stroke-width="2.8"/>
<line x1="430.3" y1="413.1" x2="471.9" y2="413.1" stroke="#000" stroke-width="2.8"/>
<line x1="565.3" y1="413.6" x2="606.6" y2="413.6" stroke="#000" stroke-width="2.8"/>
<line x1="165.0" y1="547.7" x2="190.2" y2="547.7" stroke="#000" stroke-width="2.8"/>
<line x1="305.2" y1="547.7" x2="331.2" y2="547.7" stroke="#000" stroke-width="2.8"/>
<line x1="445.9" y1="547.5" x2="471.4" y2="547.5" stroke="#000" stroke-width="2.8"/>
<line x1="580.8" y1="547.5" x2="606.3" y2="547.5" stroke="#000" stroke-width="2.8"/>
<text x="584.0" y="400.6" font-size="13.5" text-anchor="middle" textLength="39.5" lengthAdjust="spacingAndGlyphs" font-family="Liberation Sans, sans-serif" font-weight="bold" stroke="#000" stroke-width="0.25">50 μm</text>
<text x="585.5" y="543.0" font-size="13.5" text-anchor="middle" textLength="39.5" lengthAdjust="spacingAndGlyphs" font-family="Liberation Sans, sans-serif" font-weight="bold" stroke="#000" stroke-width="0.25">50 μm</text>
</svg>
</body></html>
